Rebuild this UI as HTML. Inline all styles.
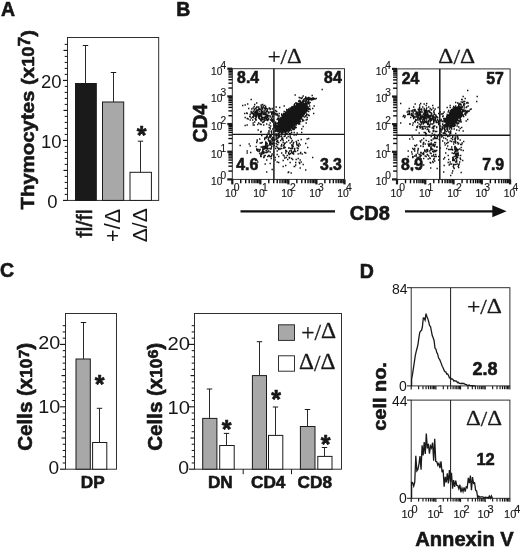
<!DOCTYPE html>
<html lang="en">
<head>
<meta charset="utf-8">
<title>Figure</title>
<style>
html,body{margin:0;padding:0;background:#fff;}
body{width:520px;height:548px;overflow:hidden;}
svg{display:block;will-change:transform;}
text{font-family:'Liberation Sans', Arial, Helvetica, sans-serif;fill:#161616;}
text.se{font-family:'Liberation Serif', 'Times New Roman', serif;}
text.b{stroke:#161616;stroke-width:0.6px;stroke-linejoin:round;}
</style>
</head>
<body>
<svg width="520" height="548" viewBox="0 0 520 548">
<rect x="0" y="0" width="520" height="548" fill="#ffffff" stroke="none"/>
<text x="1" y="16.3" font-size="19.5" font-weight="bold" class="b">A</text>
<rect x="67.5" y="37.5" width="91.2" height="162.9" fill="none" stroke="#262626" stroke-width="0.95"/>
<line x1="63" y1="200.4" x2="67.5" y2="200.4" stroke="#1a1a1a" stroke-width="1.15"/>
<line x1="64.7" y1="194.4" x2="67.5" y2="194.4" stroke="#1a1a1a" stroke-width="1.05"/>
<line x1="64.7" y1="188.4" x2="67.5" y2="188.4" stroke="#1a1a1a" stroke-width="1.05"/>
<line x1="64.7" y1="182.4" x2="67.5" y2="182.4" stroke="#1a1a1a" stroke-width="1.05"/>
<line x1="64.7" y1="176.4" x2="67.5" y2="176.4" stroke="#1a1a1a" stroke-width="1.05"/>
<line x1="63.5" y1="170.4" x2="67.5" y2="170.4" stroke="#1a1a1a" stroke-width="1.15"/>
<line x1="64.7" y1="164.4" x2="67.5" y2="164.4" stroke="#1a1a1a" stroke-width="1.05"/>
<line x1="64.7" y1="158.4" x2="67.5" y2="158.4" stroke="#1a1a1a" stroke-width="1.05"/>
<line x1="64.7" y1="152.4" x2="67.5" y2="152.4" stroke="#1a1a1a" stroke-width="1.05"/>
<line x1="64.7" y1="146.4" x2="67.5" y2="146.4" stroke="#1a1a1a" stroke-width="1.05"/>
<line x1="63" y1="140.4" x2="67.5" y2="140.4" stroke="#1a1a1a" stroke-width="1.15"/>
<line x1="64.7" y1="134.4" x2="67.5" y2="134.4" stroke="#1a1a1a" stroke-width="1.05"/>
<line x1="64.7" y1="128.4" x2="67.5" y2="128.4" stroke="#1a1a1a" stroke-width="1.05"/>
<line x1="64.7" y1="122.4" x2="67.5" y2="122.4" stroke="#1a1a1a" stroke-width="1.05"/>
<line x1="64.7" y1="116.4" x2="67.5" y2="116.4" stroke="#1a1a1a" stroke-width="1.05"/>
<line x1="63.5" y1="110.4" x2="67.5" y2="110.4" stroke="#1a1a1a" stroke-width="1.15"/>
<line x1="64.7" y1="104.4" x2="67.5" y2="104.4" stroke="#1a1a1a" stroke-width="1.05"/>
<line x1="64.7" y1="98.4" x2="67.5" y2="98.4" stroke="#1a1a1a" stroke-width="1.05"/>
<line x1="64.7" y1="92.4" x2="67.5" y2="92.4" stroke="#1a1a1a" stroke-width="1.05"/>
<line x1="64.7" y1="86.4" x2="67.5" y2="86.4" stroke="#1a1a1a" stroke-width="1.05"/>
<line x1="63" y1="80.4" x2="67.5" y2="80.4" stroke="#1a1a1a" stroke-width="1.15"/>
<line x1="64.7" y1="74.4" x2="67.5" y2="74.4" stroke="#1a1a1a" stroke-width="1.05"/>
<line x1="64.7" y1="68.4" x2="67.5" y2="68.4" stroke="#1a1a1a" stroke-width="1.05"/>
<line x1="64.7" y1="62.4" x2="67.5" y2="62.4" stroke="#1a1a1a" stroke-width="1.05"/>
<line x1="64.7" y1="56.4" x2="67.5" y2="56.4" stroke="#1a1a1a" stroke-width="1.05"/>
<line x1="63.5" y1="50.4" x2="67.5" y2="50.4" stroke="#1a1a1a" stroke-width="1.15"/>
<line x1="64.7" y1="44.4" x2="67.5" y2="44.4" stroke="#1a1a1a" stroke-width="1.05"/>
<text x="61.6" y="87.8" font-size="18.5" text-anchor="end">20</text>
<text x="61.6" y="147.8" font-size="18.5" text-anchor="end">10</text>
<text x="57.6" y="207.8" font-size="18.5" text-anchor="end">0</text>
<rect x="75.5" y="83.5" width="20.8" height="116.9" fill="#1a1a1a" stroke="#1a1a1a" stroke-width="1"/>
<line x1="85.5" y1="83.5" x2="85.5" y2="45.5" stroke="#2a2a2a" stroke-width="1"/>
<line x1="82.8" y1="45.5" x2="88.2" y2="45.5" stroke="#1a1a1a" stroke-width="1"/>
<rect x="102.5" y="102" width="21.2" height="98.4" fill="#a8a8a8" stroke="#1a1a1a" stroke-width="1"/>
<line x1="113.5" y1="102" x2="113.5" y2="72.5" stroke="#2a2a2a" stroke-width="1"/>
<line x1="110.8" y1="72.5" x2="116.2" y2="72.5" stroke="#1a1a1a" stroke-width="1"/>
<rect x="130" y="172.3" width="21.4" height="28.1" fill="#ffffff" stroke="#1a1a1a" stroke-width="1"/>
<line x1="140.5" y1="172.3" x2="140.5" y2="141.2" stroke="#2a2a2a" stroke-width="1"/>
<line x1="137.8" y1="141.2" x2="143.2" y2="141.2" stroke="#1a1a1a" stroke-width="1"/>
<text x="141.7" y="143.7" font-size="25" font-weight="bold" class="b" text-anchor="middle">*</text>
<text x="91.6" y="209.3" font-size="22.3" text-anchor="end" transform="rotate(-90 91.6 209.3)" stroke="#1a1a1a" stroke-width="0.55">fl/fl</text>
<text x="119.9" y="209" font-size="21.5" text-anchor="end" transform="rotate(-90 119.9 209)">+/Δ</text>
<text x="147.4" y="208.3" font-size="21" text-anchor="end" transform="rotate(-90 147.4 208.3)">Δ/Δ</text>
<text x="34.4" y="209.5" font-size="19.2" font-weight="bold" class="b" transform="rotate(-90 34.4 209.5)" textLength="179.5" lengthAdjust="spacingAndGlyphs">Thymocytes (x<tspan font-size="17.3">10</tspan><tspan font-size="16.3" dy="-4.4">7</tspan><tspan font-size="19.2" dy="4.4">)</tspan></text>
<text x="176.2" y="16.3" font-size="19.5" font-weight="bold" class="b">B</text>
<path d="M292.5 112.5h1.4M297 114.5h1.4M290.5 113.5h1.4M290 119h1.4M293.5 118h1.4M290 120h1.4M296 116h1.4M300 108h1.4M291.5 116.5h1.4M291 117h1.4M297.5 113.5h1.4M303 120.5h1.4M294.5 114h1.4M293.5 122.5h1.4M293.5 114h1.4M295 109h1.4M287 120h1.4M292.5 117.5h1.4M285 123.5h1.4M288 120.5h1.4M286 124h1.4M294 117h1.4M289.5 122h1.4M293 111h1.4M295 114h1.4M291 113.5h1.4M282.5 126.5h1.4M291.5 117h1.4M294 115h1.4M293.5 113h1.4M285 119.5h1.4M291 116h1.4M290.5 120.5h1.4M291.5 120h1.4M296 106h1.4M290.5 118.5h1.4M294.5 115.5h1.4M295.5 107.5h1.4M289 115h1.4M292.5 114h1.4M295.5 115h1.4M289.5 109h1.4M287.5 119h1.4M293.5 113h1.4M301 108.5h1.4M289.5 124.5h1.4M301 113.5h1.4M294 113h1.4M290 116.5h1.4M304 106h1.4M300 113.5h1.4M291 123h1.4M295 115h1.4M299.5 115h1.4M291.5 113.5h1.4M295 109h1.4M288 109h1.4M295.5 109.5h1.4M302 109.5h1.4M292.5 119.5h1.4M302 121h1.4M293 118h1.4M295 114.5h1.4M286.5 118h1.4M290 116h1.4M292 114h1.4M298 110h1.4M298 108h1.4M284.5 117.5h1.4M292.5 120.5h1.4M298 112.5h1.4M287 126.5h1.4M288.5 113h1.4M291 112h1.4M298.5 107h1.4M299.5 114h1.4M292 115.5h1.4M292.5 116.5h1.4M292.5 115.5h1.4M301.5 108h1.4M291 115.5h1.4M293.5 116.5h1.4M294 111h1.4M293 114.5h1.4M293.5 116h1.4M289 120h1.4M295 115.5h1.4M290 115h1.4M300 110h1.4M296.5 111h1.4M294.5 115.5h1.4M300 114.5h1.4M290.5 114h1.4M301 112h1.4M292.5 113h1.4M296 111h1.4M291 124h1.4M297.5 115h1.4M287 123h1.4M286 125.5h1.4M295 118.5h1.4M288 117h1.4M295.5 114.5h1.4M304 103.5h1.4M291 119h1.4M290.5 116.5h1.4M296.5 115h1.4M296.5 112.5h1.4M292 114h1.4M293 115.5h1.4M298.5 112.5h1.4M298.5 114.5h1.4M288.5 119h1.4M293 114h1.4M294.5 115h1.4M290.5 121h1.4M294 112h1.4M285 113h1.4M299.5 111h1.4M294.5 113h1.4M293.5 113.5h1.4M296 122.5h1.4M293 115h1.4M286 125h1.4M286 116.5h1.4M296.5 113.5h1.4M285.5 125.5h1.4M298.5 111h1.4M285 122h1.4M299 112.5h1.4M290 118.5h1.4M300.5 114h1.4M295 114.5h1.4M285 120h1.4M296 104.5h1.4M299.5 106.5h1.4M293 114h1.4M290.5 113h1.4M291 113h1.4M286 115.5h1.4M297 107.5h1.4M291.5 117h1.4M293 114h1.4M290 117.5h1.4M290.5 116.5h1.4M287.5 120h1.4M301.5 110.5h1.4M297.5 119.5h1.4M300 111.5h1.4M298 118.5h1.4M290.5 117.5h1.4M292.5 116h1.4M294.5 120.5h1.4M292.5 113h1.4M290.5 114.5h1.4M292.5 115.5h1.4M284 117h1.4M286.5 114h1.4M304.5 109.5h1.4M288.5 115.5h1.4M288 118.5h1.4M295 112h1.4M299 106h1.4M288.5 122.5h1.4M294 116.5h1.4M292.5 119h1.4M287 124h1.4M297.5 111.5h1.4M297 117.5h1.4M296.5 116.5h1.4M289 116.5h1.4M296.5 112.5h1.4M290.5 116h1.4M297 119h1.4M290 121h1.4M289 121h1.4M300.5 108.5h1.4M292.5 118h1.4M293.5 111h1.4M294 115h1.4M292 116.5h1.4M291.5 117h1.4M295.5 110h1.4M293.5 117h1.4M291 113h1.4M293 113.5h1.4M299.5 109h1.4M297 111.5h1.4M295 111.5h1.4M289.5 115h1.4M285.5 118.5h1.4M298 109.5h1.4M297 108.5h1.4M293 115h1.4M294 109.5h1.4M298 111h1.4M302 115h1.4M296 107.5h1.4M291.5 116.5h1.4M303.5 110h1.4M288.5 120.5h1.4M300 112.5h1.4M292 108h1.4M297 109.5h1.4M306 109.5h1.4M300 106.5h1.4M289.5 120.5h1.4M282 118h1.4M300 113h1.4M293.5 124h1.4M294 114.5h1.4M298.5 111.5h1.4M287 123h1.4M288 128.5h1.4M294.5 112.5h1.4M291 111h1.4M296.5 119.5h1.4M292 112h1.4M291 119.5h1.4M282 116.5h1.4M292.5 114.5h1.4M289.5 119.5h1.4M284 119.5h1.4M295.5 111h1.4M295 116h1.4M294.5 111h1.4M290 120h1.4M294.5 121.5h1.4M285 114.5h1.4M290.5 119h1.4M296 115h1.4M289.5 117.5h1.4M299 116h1.4M298.5 116h1.4M305 106.5h1.4M288.5 122h1.4M298 110.5h1.4M291.5 112.5h1.4M295 115.5h1.4M286 120h1.4M290.5 115.5h1.4M299.5 113.5h1.4M293 114.5h1.4M296.5 116h1.4M290.5 113.5h1.4M298.5 108.5h1.4M294 114.5h1.4M286 127h1.4M290.5 117.5h1.4M286 125h1.4M277 127.5h1.4M291.5 117h1.4M302 110h1.4M292.5 112.5h1.4M287 118h1.4M290.5 120h1.4M297 107h1.4M295.5 114.5h1.4M295 115h1.4M293.5 114.5h1.4M295.5 116h1.4M299 112h1.4M297 112.5h1.4M292 110.5h1.4M286 116h1.4M297 112.5h1.4M287.5 114h1.4M299.5 109.5h1.4M287 119.5h1.4M291.5 113h1.4M293.5 114h1.4M283 115.5h1.4M302 106h1.4M303.5 110.5h1.4M289 114h1.4M298.5 112h1.4M296.5 113.5h1.4M287.5 132.5h1.4M293 111h1.4M292 113h1.4M293 112.5h1.4M287 117.5h1.4M289.5 112h1.4M293 115.5h1.4M298 107h1.4M297 114.5h1.4M294.5 115.5h1.4M299.5 105.5h1.4M290.5 116h1.4M295 119h1.4M284.5 122h1.4M302 108h1.4M300.5 112h1.4M297.5 109.5h1.4M298 112.5h1.4M297.5 117.5h1.4M297 116h1.4M289.5 112h1.4M296 118.5h1.4M294 114h1.4M300 106.5h1.4M295.5 110.5h1.4M296 117.5h1.4M292 118h1.4M290.5 117h1.4M300 105.5h1.4M297.5 113.5h1.4M296.5 116.5h1.4M290.5 114h1.4M286.5 117h1.4M293 114h1.4M299.5 112h1.4M291.5 115.5h1.4M292.5 115.5h1.4M291.5 113.5h1.4M297 116.5h1.4M286 121.5h1.4M293 116h1.4M292 120.5h1.4M298 110h1.4M290 118h1.4M297.5 113h1.4M300.5 107h1.4M295.5 119h1.4M291 117.5h1.4M294 112.5h1.4M293.5 114h1.4M287 116.5h1.4M298.5 115h1.4M306.5 108.5h1.4M292.5 115h1.4M292 114.5h1.4M285 114.5h1.4M294.5 112h1.4M289.5 122h1.4M287 118h1.4M302 110.5h1.4M292.5 121.5h1.4M294 104h1.4M300.5 107h1.4M294 112h1.4M295.5 111h1.4M300 102h1.4M292.5 115h1.4M288.5 114.5h1.4M289.5 123h1.4M297 117.5h1.4M298.5 105h1.4M295.5 107h1.4M288.5 117.5h1.4M289.5 118h1.4M291 116.5h1.4M297 114.5h1.4M290 112h1.4M293.5 112h1.4M294.5 112h1.4M292 115h1.4M291.5 112.5h1.4M294 112.5h1.4M292 113.5h1.4M298.5 114.5h1.4M302 105h1.4M292.5 107h1.4M295.5 115.5h1.4M286 122.5h1.4M294 111h1.4M282.5 121h1.4M286 119.5h1.4M301.5 114h1.4M296.5 110.5h1.4M295.5 117.5h1.4M287.5 124h1.4M291 115h1.4M291.5 118h1.4M295.5 110h1.4M298.5 97.5h1.4M293.5 112h1.4M289 116.5h1.4M290 121.5h1.4M295 116h1.4M295.5 117.5h1.4M289.5 121h1.4M296.5 116.5h1.4M289.5 121h1.4M300 110h1.4M301 112h1.4M302 112.5h1.4M294.5 119.5h1.4M295.5 111h1.4M293 115h1.4M290 114h1.4M290.5 114h1.4M288.5 121h1.4M285.5 119.5h1.4M300.5 114h1.4M288.5 110.5h1.4M292.5 111h1.4M299.5 110.5h1.4M288 125h1.4M289.5 117h1.4M298.5 117.5h1.4M297.5 114.5h1.4M290.5 114.5h1.4M299 109.5h1.4M296 114.5h1.4M286.5 118h1.4M291.5 121h1.4M297.5 110.5h1.4M297 113.5h1.4M286.5 125h1.4M299.5 107.5h1.4M299 114h1.4M296.5 104.5h1.4M293.5 117.5h1.4M288.5 111.5h1.4M290.5 122h1.4M305 102h1.4M295.5 118h1.4M304.5 110h1.4M290.5 117h1.4M293.5 112.5h1.4M288.5 124.5h1.4M290 113.5h1.4M300.5 112h1.4M287.5 120h1.4M298.5 109h1.4M294.5 111.5h1.4M292.5 123h1.4M288.5 113.5h1.4M290.5 115.5h1.4M294.5 115.5h1.4M293.5 119h1.4M293.5 122h1.4M295 119h1.4M288 118h1.4M288.5 121h1.4M296 117h1.4M299.5 111.5h1.4M283.5 118h1.4M294.5 115h1.4M292 118.5h1.4M286.5 116h1.4M297 109.5h1.4M291.5 116.5h1.4M302.5 109h1.4M293.5 121.5h1.4M298 115h1.4M294 116.5h1.4M291 118.5h1.4M296 111h1.4M292 114h1.4M296.5 111.5h1.4M293.5 114h1.4M291 121.5h1.4M298 119.5h1.4M295.5 115.5h1.4M300.5 112h1.4M291 120h1.4M294.5 115.5h1.4M288 125h1.4M299.5 114h1.4M289 119.5h1.4M285 122.5h1.4M295 116h1.4M298.5 108.5h1.4M287 122h1.4M291 121.5h1.4M290.5 118h1.4M285 115.5h1.4M297 114h1.4M288 115.5h1.4M288 115h1.4M294 108.5h1.4M292 119.5h1.4M292 108.5h1.4M289 118.5h1.4M288.5 120.5h1.4M285.5 123.5h1.4M302 105h1.4M292.5 116h1.4M295.5 114h1.4M291.5 112h1.4M296 115.5h1.4M296.5 116.5h1.4M301.5 104h1.4M287.5 117.5h1.4M284.5 119h1.4M291 121.5h1.4M285.5 118h1.4M296.5 110h1.4M294.5 107h1.4M292 121.5h1.4M287 120.5h1.4M293 116.5h1.4M304 111.5h1.4M282 128.5h1.4M294.5 109.5h1.4M289.5 120.5h1.4M300.5 111.5h1.4M287 117.5h1.4M290.5 113.5h1.4M285 119h1.4M291 120.5h1.4M301 108.5h1.4M296 108.5h1.4M293.5 117.5h1.4M291.5 120h1.4M283 121.5h1.4M289 113h1.4M296 117h1.4M298.5 120.5h1.4M296.5 118h1.4M290.5 121.5h1.4M294 115h1.4M292.5 113.5h1.4M300.5 109h1.4M304.5 107.5h1.4M293 115h1.4M292 120h1.4M294 115h1.4M292.5 118.5h1.4M285 112h1.4M292 113h1.4M290.5 121h1.4M299 114h1.4M294.5 116h1.4M298.5 117h1.4M294.5 117h1.4M292 119.5h1.4M287.5 117h1.4M293.5 116.5h1.4M293 118.5h1.4M298 116.5h1.4M296.5 117h1.4M287.5 121h1.4M294.5 114.5h1.4M285.5 118h1.4M292.5 118.5h1.4M290.5 113.5h1.4M283.5 123.5h1.4M294.5 114h1.4M298.5 118h1.4M296 118h1.4M290.5 115h1.4M289.5 113h1.4M289 118.5h1.4M291 114h1.4M292 118h1.4M295 115h1.4M289.5 121.5h1.4M293 111.5h1.4M294 113h1.4M294 115.5h1.4M292.5 117h1.4M295.5 111h1.4M285.5 121.5h1.4M298 114h1.4M292 110h1.4M295 112.5h1.4M296 113h1.4M288 114.5h1.4M290.5 113.5h1.4M297 112h1.4M295 111.5h1.4M297 116h1.4M288 122.5h1.4M301 117h1.4M297 106.5h1.4M302.5 114h1.4M294 112h1.4M288 123.5h1.4M300.5 112.5h1.4M293.5 115.5h1.4M281 125.5h1.4M294.5 111.5h1.4M283.5 117.5h1.4M287 119.5h1.4M289 115.5h1.4M301.5 110h1.4M291 114.5h1.4M295 113h1.4M303.5 107.5h1.4M302 107.5h1.4M293.5 115h1.4M292.5 115h1.4M287 119.5h1.4M291.5 118.5h1.4M297.5 114h1.4M294.5 111h1.4M298 117.5h1.4M300 111.5h1.4M287 114.5h1.4M299 120.5h1.4M299 112.5h1.4M295.5 110.5h1.4M302.5 113h1.4M291 107h1.4M297.5 121.5h1.4M293 110h1.4M286 115.5h1.4M284.5 120h1.4M297 112.5h1.4M293 114h1.4M297.5 115h1.4M284 120.5h1.4M294.5 118.5h1.4M291.5 118h1.4M288 116.5h1.4M285.5 127h1.4M293 117h1.4M298 110h1.4M298.5 115.5h1.4M289 114.5h1.4M293.5 114h1.4M300.5 114.5h1.4M281 127h1.4M295 116.5h1.4M298 113.5h1.4M297 111.5h1.4M303.5 108.5h1.4M297.5 107.5h1.4M297 114.5h1.4M293.5 111h1.4M298 111h1.4M289.5 115h1.4M295 116h1.4M299.5 111.5h1.4M305.5 108h1.4M292 114h1.4M292 112.5h1.4M291 109h1.4M298 105.5h1.4M293.5 114h1.4M301.5 108.5h1.4M288.5 118h1.4M293 115.5h1.4M290 112.5h1.4M296 109h1.4M300.5 111.5h1.4M288 123h1.4M287 115.5h1.4M295 112.5h1.4M291.5 118h1.4M284.5 119h1.4M300 110.5h1.4M297 113h1.4M297.5 113.5h1.4M295.5 121h1.4M297.5 108h1.4M295 118h1.4M300.5 111h1.4M291 120h1.4M288.5 117h1.4M295 113.5h1.4M290.5 117.5h1.4M300.5 115h1.4M295.5 113.5h1.4M292.5 122h1.4M293.5 113.5h1.4M291.5 115.5h1.4M298.5 110.5h1.4M287 113h1.4M291 115.5h1.4M298.5 108h1.4M304.5 104h1.4M304 106h1.4M292.5 112h1.4M293 111h1.4M304 110.5h1.4M291.5 113h1.4M288.5 118h1.4M292.5 112h1.4M295.5 111.5h1.4M292.5 121h1.4M288.5 124.5h1.4M283.5 117h1.4M296.5 111h1.4M293 121h1.4M292.5 114.5h1.4M295.5 114.5h1.4M300.5 115.5h1.4M297 121h1.4M299.5 115.5h1.4M289 118h1.4M292.5 116h1.4M289.5 119.5h1.4M299 109h1.4M292.5 113.5h1.4M294.5 122.5h1.4M293 116.5h1.4M294.5 117.5h1.4M300 114h1.4M287.5 123h1.4M289 119.5h1.4M292.5 117h1.4M309 106h1.4M299.5 111h1.4M289.5 110.5h1.4M299.5 113.5h1.4M307.5 109h1.4M292.5 115h1.4M291 115h1.4M299 108h1.4M298.5 114.5h1.4M295.5 109.5h1.4M293 118.5h1.4M305.5 108h1.4M303.5 108h1.4M297 112h1.4M296 110h1.4M283 122.5h1.4M297 111.5h1.4M291 113.5h1.4M296 112.5h1.4M295.5 109.5h1.4M295 119h1.4M289 125.5h1.4M294 111h1.4M293 121h1.4M293 116.5h1.4M291.5 117.5h1.4M293.5 117h1.4M283.5 126h1.4M297 106h1.4M300 118.5h1.4M297.5 107.5h1.4M299 100.5h1.4M294 114.5h1.4M285.5 122.5h1.4M288 117h1.4M284.5 116h1.4M294 119.5h1.4M294 114h1.4M284.5 124h1.4M294.5 112h1.4M286.5 121h1.4M294 112h1.4M294.5 116h1.4M292.5 116h1.4M295 116.5h1.4M292.5 118.5h1.4M291.5 117.5h1.4M286 122.5h1.4M296 117h1.4M300 103h1.4M304 106h1.4M303 111.5h1.4M295 109h1.4M292 119h1.4M300 107h1.4M294 115h1.4M293 114.5h1.4M292.5 115.5h1.4M295.5 115.5h1.4M292 116.5h1.4M289.5 110.5h1.4M293 124h1.4M292 116h1.4M304 103.5h1.4M295.5 117h1.4M295.5 118.5h1.4M292.5 107.5h1.4M298 112h1.4M284.5 115h1.4M292 114.5h1.4M298.5 110h1.4M294.5 112.5h1.4M293.5 112.5h1.4M299 105h1.4M290 116.5h1.4M294 114h1.4M291 116.5h1.4M298.5 105h1.4M283 121.5h1.4M292.5 119.5h1.4M292.5 118h1.4M296.5 111h1.4M298 113h1.4M301.5 109h1.4M288.5 123.5h1.4M298 111.5h1.4M291.5 115h1.4M289 115.5h1.4M296.5 112h1.4M285.5 114h1.4M284 124h1.4M286 109.5h1.4M285 119h1.4M290 116.5h1.4M297 114h1.4M301 119h1.4M302 107.5h1.4M292.5 115h1.4M283 117.5h1.4M293 121h1.4M286 114.5h1.4M288.5 120.5h1.4M294.5 111h1.4M296 123h1.4M284 123h1.4M298 112h1.4M292 113.5h1.4M295.5 112.5h1.4M297 116.5h1.4M295 109.5h1.4M293 113h1.4M299 107.5h1.4M294 110.5h1.4M293.5 110.5h1.4M296 112.5h1.4M289.5 124h1.4M296 118h1.4M290 113h1.4M293.5 112h1.4M287 120.5h1.4M302.5 108h1.4M294.5 114h1.4M288 120h1.4M286.5 123h1.4M294 117h1.4M289.5 110.5h1.4M290 117h1.4M295.5 115.5h1.4M293.5 120h1.4M298 113.5h1.4M289 116h1.4M292.5 113h1.4M299 110.5h1.4M306.5 103h1.4M289.5 119.5h1.4M294 119h1.4M287.5 115.5h1.4M297 110h1.4M283.5 114.5h1.4M293 118.5h1.4M294 115h1.4M287.5 117h1.4M290 119.5h1.4M294.5 119.5h1.4M285.5 126h1.4M287 121h1.4M291.5 115.5h1.4M295 114h1.4M291 113h1.4M283.5 120.5h1.4M291 116h1.4M298 111h1.4M297 112.5h1.4M292.5 113.5h1.4M288 116.5h1.4M297 111.5h1.4M290.5 116h1.4M289 120.5h1.4M293 121h1.4M303 110h1.4M293.5 112h1.4M298.5 108.5h1.4M288.5 113.5h1.4M298.5 110h1.4M289.5 115.5h1.4M290.5 112.5h1.4M304 101h1.4M299 112.5h1.4M292 117h1.4M293.5 114.5h1.4M297.5 115h1.4M299 108h1.4M289.5 114.5h1.4M286.5 123.5h1.4M288.5 111.5h1.4M294.5 115h1.4M295 114.5h1.4M301 109h1.4M297 114.5h1.4M297 110h1.4M288.5 119.5h1.4M295 107h1.4M303 104h1.4M296.5 110h1.4M295.5 114h1.4M297.5 117h1.4M303 106.5h1.4M291 120.5h1.4M291.5 113h1.4M296.5 112.5h1.4M294.5 107.5h1.4M290.5 115h1.4M294 111.5h1.4M292 115.5h1.4M294 113.5h1.4M292 113.5h1.4M286.5 117.5h1.4M295.5 116h1.4M297.5 109.5h1.4M284 113.5h1.4M293 116h1.4M297.5 112h1.4M290 121h1.4M297.5 117h1.4M286.5 117h1.4M299.5 109.5h1.4M304.5 103.5h1.4M300 101.5h1.4M288 110h1.4M299.5 113h1.4M292.5 111.5h1.4M293.5 112.5h1.4M300.5 106.5h1.4M286.5 119.5h1.4M299 110h1.4M290.5 111.5h1.4M299.5 107h1.4M294 113h1.4M288.5 115h1.4M293.5 111.5h1.4M296.5 110h1.4M293.5 113.5h1.4M293 108.5h1.4M290.5 116h1.4M284 124.5h1.4M300 112.5h1.4M298 112h1.4M297 116h1.4M294 114h1.4M298.5 109.5h1.4M296 121h1.4M290.5 117.5h1.4M292 114h1.4M299.5 109h1.4M289 123h1.4M297 106.5h1.4M292.5 119h1.4M291 122h1.4M302 111h1.4M293.5 115h1.4M286 118.5h1.4M290 113.5h1.4M298 110h1.4M302 111.5h1.4M293 118h1.4M297.5 114.5h1.4M298 111.5h1.4M294.5 121h1.4M295.5 112.5h1.4M292.5 113.5h1.4M291.5 117h1.4M290.5 115.5h1.4M296 116h1.4M297 117.5h1.4M292.5 118.5h1.4M289.5 114h1.4M297.5 107.5h1.4M296 114.5h1.4M296 108h1.4M300.5 110h1.4M294 108.5h1.4M304 103.5h1.4M291 119h1.4M296.5 109h1.4M294 117.5h1.4M305 108h1.4M305 110h1.4M284 122.5h1.4M289.5 119h1.4M297.5 111.5h1.4M298.5 112h1.4M294.5 108h1.4M294.5 115.5h1.4M297.5 114h1.4M294.5 109h1.4M291 112h1.4M298.5 109h1.4M286.5 128.5h1.4M298 113h1.4M288 118h1.4M298.5 110h1.4M290 112h1.4M292.5 121.5h1.4M294.5 111.5h1.4M291 120h1.4M287 116h1.4M286.5 121.5h1.4M292 112.5h1.4M297.5 113.5h1.4M301.5 113h1.4M295.5 117.5h1.4M300.5 111h1.4M296 116.5h1.4M291 112.5h1.4M294 109h1.4M298.5 109h1.4M294.5 118h1.4M293 116h1.4M294.5 116.5h1.4M291.5 111h1.4M289 118h1.4M298 109h1.4M293 117h1.4M300 116.5h1.4M291.5 120h1.4M298 115.5h1.4M295 112h1.4M292 116h1.4M305.5 107h1.4M296.5 113.5h1.4M299.5 103h1.4M300.5 112h1.4M292.5 119.5h1.4M292.5 116.5h1.4M297.5 114h1.4M295 115h1.4M293 113h1.4M289 112h1.4M289 126.5h1.4M293 115.5h1.4M283 124.5h1.4M296 113h1.4M291 118h1.4M291 118.5h1.4M291 113.5h1.4M296 114.5h1.4M287.5 121h1.4M285.5 122.5h1.4M288.5 119h1.4M284.5 124h1.4M287.5 116.5h1.4M301.5 107.5h1.4M288.5 119h1.4M297 111.5h1.4M289.5 123h1.4M297 115h1.4M294.5 118h1.4M293.5 114.5h1.4M298 113.5h1.4M304.5 109h1.4M294.5 113h1.4M293.5 113h1.4M293 122.5h1.4M293.5 108.5h1.4M292.5 115.5h1.4M298 111h1.4M291.5 112.5h1.4M302.5 106.5h1.4M285.5 124.5h1.4M288 111h1.4M300.5 113h1.4M292.5 116.5h1.4M288.5 116.5h1.4M295 118h1.4M287.5 121h1.4M294 113h1.4M301 98.5h1.4M301.5 111h1.4M288.5 119.5h1.4M288.5 117h1.4M292 116h1.4M301 112.5h1.4M289 117.5h1.4M290.5 117.5h1.4M297.5 109.5h1.4M296 108h1.4M290 114h1.4M288 118.5h1.4M286 121h1.4M293 120h1.4M283.5 125h1.4M297 110.5h1.4M292 118h1.4M296 112h1.4M304.5 108h1.4M296.5 106h1.4M284 115h1.4M299 111.5h1.4M299 108.5h1.4M291 118.5h1.4M287 116h1.4M292.5 114h1.4M286 121.5h1.4M301.5 108.5h1.4M282 125h1.4M290.5 121.5h1.4M291.5 114.5h1.4M294.5 117h1.4M293.5 112.5h1.4M295 113h1.4M291 113h1.4M299.5 109.5h1.4M281.5 122h1.4M296 116.5h1.4M289.5 116.5h1.4M295 114.5h1.4M294.5 113h1.4M289.5 118.5h1.4M289 115.5h1.4M302 115h1.4M295 112h1.4M293.5 120.5h1.4M301.5 103h1.4M309 108.5h1.4M289 123h1.4M299 116.5h1.4M303 99.5h1.4M300.5 113.5h1.4M295 113.5h1.4M294 116.5h1.4M295 121h1.4M293.5 116h1.4M290 115.5h1.4M298 111.5h1.4M290 114.5h1.4M292.5 117.5h1.4M288 120h1.4M294.5 115.5h1.4M289 118h1.4M289.5 111.5h1.4M298.5 109h1.4M295.5 112.5h1.4M297.5 113.5h1.4M297 114.5h1.4M291.5 111h1.4M295.5 117.5h1.4M294.5 118h1.4M298 111.5h1.4M289.5 120.5h1.4M296.5 104.5h1.4M299 119.5h1.4M289.5 117h1.4M290 115h1.4M293 120h1.4M296 115h1.4M289.5 117h1.4M296.5 106h1.4M292 120h1.4M286 128h1.4M288.5 115.5h1.4M281.5 120.5h1.4M294.5 115.5h1.4M303.5 114.5h1.4M294.5 108.5h1.4M288 121h1.4M288 115.5h1.4M302.5 106.5h1.4M296.5 114h1.4M295 115.5h1.4M296 106.5h1.4M303 100.5h1.4M304.5 113h1.4M296.5 116h1.4M292 109h1.4M297.5 112.5h1.4M293.5 120h1.4M289 119.5h1.4M294.5 114.5h1.4M289.5 119h1.4M294.5 116h1.4M295 114.5h1.4M306 105h1.4M289 117.5h1.4M295 117h1.4M294 116h1.4M296.5 113h1.4M296.5 107h1.4M291 116h1.4M290.5 118.5h1.4M285 120.5h1.4M288.5 118h1.4M294.5 110h1.4M293 113h1.4M285.5 115.5h1.4M289.5 113.5h1.4M294 114.5h1.4M297.5 113h1.4M289.5 115.5h1.4M292 114.5h1.4M285.5 123h1.4M291.5 123h1.4M305.5 111h1.4M282.5 123.5h1.4M291 114.5h1.4M293.5 112h1.4M294.5 119h1.4M288 116h1.4M295 116h1.4M293 113.5h1.4M293 114h1.4M286.5 124.5h1.4M294.5 116.5h1.4M294 122.5h1.4M293 119h1.4M298.5 117.5h1.4M296 110.5h1.4M298 110.5h1.4M290 115h1.4M298 109.5h1.4M301 110.5h1.4M299 108.5h1.4M301.5 109h1.4M292 114h1.4M292.5 114.5h1.4M300 113h1.4M287.5 120.5h1.4M295 113.5h1.4M292 117.5h1.4M290.5 114.5h1.4M282 118.5h1.4M290.5 119.5h1.4M294.5 115.5h1.4M302.5 115.5h1.4M299 110.5h1.4M294.5 116h1.4M297.5 120h1.4M289.5 117.5h1.4M295 111.5h1.4M294.5 117h1.4M297.5 112.5h1.4M304.5 108.5h1.4M292.5 113h1.4M290 124.5h1.4M290.5 119h1.4M283 117h1.4M288 120h1.4M299.5 107.5h1.4M295.5 114h1.4M289 124h1.4M297 111.5h1.4M299.5 108h1.4M294.5 118.5h1.4M290 117h1.4M290 113.5h1.4M293.5 111h1.4M300 115h1.4M301.5 111h1.4M303 112.5h1.4M297.5 107h1.4M299.5 107h1.4M296 110h1.4M288.5 123.5h1.4M295.5 117.5h1.4M295.5 113h1.4M292 116h1.4M300 112h1.4M292 116h1.4M288.5 117.5h1.4M300.5 107.5h1.4M299.5 113.5h1.4M299 118h1.4M299 111h1.4M299 109.5h1.4M296 113.5h1.4M283 126.5h1.4M292 119h1.4M290.5 115h1.4M289.5 119h1.4M294.5 113.5h1.4M301.5 111h1.4M293 118h1.4M288 119.5h1.4M306 107.5h1.4M294.5 119h1.4M288.5 120.5h1.4M293 111h1.4M295.5 112h1.4M287.5 114.5h1.4M298 111h1.4M292.5 117.5h1.4M292.5 121.5h1.4M296 115h1.4M295 108h1.4M290.5 116.5h1.4M294 111.5h1.4M292 113.5h1.4M307.5 102h1.4M291 118h1.4M300.5 108h1.4M292.5 113.5h1.4M292.5 114h1.4M296.5 110h1.4M298 110h1.4M301.5 110.5h1.4M296 113.5h1.4M293 119h1.4M289.5 115h1.4M300.5 116.5h1.4M297 112.5h1.4M296 103h1.4M296.5 113.5h1.4M301.5 112h1.4M301.5 107.5h1.4M292 111h1.4M287 121.5h1.4M287 118.5h1.4M287 121h1.4M302.5 108h1.4M283.5 111.5h1.4M300 109h1.4M298 113h1.4M303 108h1.4M298 109h1.4M292.5 114h1.4M291.5 114h1.4M294 114h1.4M297.5 116.5h1.4M290.5 116h1.4M294.5 115.5h1.4M302.5 108h1.4M288.5 125.5h1.4M296.5 114.5h1.4M291 120h1.4M295 113.5h1.4M301 114h1.4M293.5 114.5h1.4M297.5 111h1.4M288.5 124h1.4M300.5 111h1.4M293 119h1.4M295 110h1.4M300 119h1.4M282 127h1.4M293.5 121.5h1.4M296 114.5h1.4M300 105.5h1.4M296.5 114.5h1.4M295 113h1.4M289 122.5h1.4M297 104h1.4M301 104.5h1.4M292 112h1.4M295.5 118.5h1.4M288.5 124h1.4M296 108h1.4M307.5 102.5h1.4M298 112h1.4M299.5 108h1.4M299 114.5h1.4M287.5 117.5h1.4M300.5 108.5h1.4M287 119h1.4M294.5 117h1.4M294.5 112h1.4M299.5 112h1.4M294 110.5h1.4M293.5 110.5h1.4M288.5 116h1.4M287 119h1.4M293 113h1.4M296 123.5h1.4M286 118.5h1.4M288.5 121h1.4M291.5 116.5h1.4M285.5 123.5h1.4M290 123.5h1.4M287 123h1.4M293.5 112.5h1.4M293 109.5h1.4M305 107h1.4M288.5 123h1.4M288 114.5h1.4M300 112.5h1.4M289 111h1.4M292.5 116h1.4M304 108.5h1.4M290.5 114h1.4M285 116h1.4M290.5 123.5h1.4M292.5 109.5h1.4M296 113.5h1.4M284.5 117.5h1.4M290 119.5h1.4M299.5 115.5h1.4M296 111h1.4M289 115.5h1.4M293 107.5h1.4M293.5 108.5h1.4M284 121h1.4M293 116.5h1.4M297 113.5h1.4M292 117.5h1.4M285.5 126h1.4M293 116.5h1.4M302.5 116.5h1.4M301.5 107h1.4M283.5 124.5h1.4M301.5 97.5h1.4M287 118h1.4M299.5 111h1.4M299 107.5h1.4M301 112.5h1.4M296 115h1.4M292 123.5h1.4M294 108.5h1.4M289.5 116.5h1.4M284 128.5h1.4M308 102h1.4M295.5 109.5h1.4M302 105.5h1.4M289 118h1.4M303 109.5h1.4M303 108.5h1.4M301.5 107.5h1.4M292 112.5h1.4M290 121.5h1.4M295.5 117.5h1.4M281 122h1.4M287.5 124h1.4M292.5 112h1.4M288.5 118.5h1.4M291.5 113.5h1.4M290 111.5h1.4M302 104.5h1.4M298.5 107h1.4M295.5 116.5h1.4M301 110.5h1.4M289 116.5h1.4M289.5 113h1.4M295.5 107.5h1.4M283.5 115h1.4M292 115h1.4M287 120h1.4M292.5 112h1.4M302 107h1.4M290.5 118h1.4M297 115.5h1.4M287.5 116.5h1.4M290.5 122h1.4M287 119h1.4M304 111h1.4M303 101.5h1.4M298.5 114.5h1.4M289 116h1.4M300.5 114.5h1.4M293.5 117h1.4M295.5 108.5h1.4M297 115h1.4M295 113h1.4M298 113h1.4M296 122h1.4M291.5 115.5h1.4M285 121.5h1.4M294 119h1.4M286 119.5h1.4M295 117h1.4M291.5 121h1.4M294.5 114h1.4M297.5 114h1.4M282.5 116h1.4M293 121.5h1.4M288 117h1.4M295.5 109h1.4M306 111h1.4M301.5 114.5h1.4M291 115h1.4M302 109h1.4M286 120.5h1.4M299 105.5h1.4M291.5 118h1.4M282.5 129.5h1.4M312 108.5h1.4M301 107h1.4M291 121h1.4M294 113h1.4M292.5 115h1.4M297 117h1.4M283.5 117.5h1.4M288.5 115.5h1.4M294.5 110.5h1.4M297.5 116h1.4M300.5 110h1.4M295.5 115.5h1.4M306 105h1.4M293 120h1.4M294.5 112.5h1.4M284.5 122.5h1.4M287 119.5h1.4M301.5 109.5h1.4M287 116h1.4M296 111.5h1.4M299 120.5h1.4M290 120.5h1.4M292.5 116h1.4M289.5 115h1.4M292 117.5h1.4M298 111.5h1.4M298.5 113h1.4M290 115.5h1.4M290.5 119.5h1.4M296.5 114.5h1.4M295 116.5h1.4M298 108.5h1.4M308 103.5h1.4M301.5 114.5h1.4M292.5 113.5h1.4M294.5 117h1.4M289 117.5h1.4M289 118h1.4M287 116.5h1.4M290 114h1.4M293 117.5h1.4M298 111.5h1.4M294.5 119h1.4M289.5 112h1.4M287 119h1.4M299 104h1.4M297 113h1.4M306.5 111h1.4M295 107.5h1.4M301 107.5h1.4M292.5 115.5h1.4M297.5 111h1.4M306 101h1.4M287 119h1.4M303 112.5h1.4M300 104.5h1.4M297 113.5h1.4M298.5 112h1.4M297 105h1.4M289 115.5h1.4M296.5 113.5h1.4M293.5 122.5h1.4M290.5 117.5h1.4M290 116h1.4M293.5 115.5h1.4M297 116.5h1.4M298 114h1.4M289.5 123.5h1.4M303.5 105h1.4M298 107.5h1.4M295.5 109h1.4M293.5 117.5h1.4M293 114.5h1.4M295.5 111h1.4M297 113.5h1.4M286 122.5h1.4M293.5 106.5h1.4M308 100.5h1.4M283 121h1.4M300 111h1.4M295.5 112.5h1.4M297 118.5h1.4M301 108h1.4M286 117.5h1.4M290.5 109.5h1.4M299 105h1.4M291.5 114h1.4M292 116.5h1.4M296 115h1.4M292 117h1.4M300.5 106h1.4M291 120.5h1.4M296.5 108.5h1.4M289.5 122.5h1.4M301 115h1.4M295.5 117h1.4M284.5 130h1.4M296.5 117.5h1.4M286.5 117h1.4M292 117h1.4M301 107h1.4M286 117h1.4M286 116.5h1.4M302 109h1.4M292 111h1.4M301 106.5h1.4M295.5 113h1.4M288.5 117.5h1.4M296.5 118h1.4M301.5 110.5h1.4M299 110.5h1.4M293 113h1.4M295 115h1.4M293.5 115.5h1.4M289 115h1.4M301 102.5h1.4M292.5 113h1.4M286 117h1.4M292.5 117.5h1.4M298 112h1.4M296.5 111h1.4M294 116h1.4M291.5 118.5h1.4M291 111h1.4M286 122.5h1.4M289.5 122.5h1.4M297 110h1.4M288 113h1.4M295.5 112.5h1.4M297.5 106.5h1.4M298 112.5h1.4M295 115.5h1.4M306 106h1.4M297.5 111.5h1.4M288.5 112h1.4M300 113.5h1.4M293 109h1.4M291.5 120.5h1.4M295 114.5h1.4M291.5 113.5h1.4M283 122.5h1.4M292.5 114.5h1.4M296 119.5h1.4M291 116h1.4M288 124.5h1.4M287 110.5h1.4M294 115h1.4M294 113.5h1.4M290.5 122h1.4M298 112.5h1.4M290.5 123h1.4M291 113.5h1.4M301 109h1.4M289.5 116.5h1.4M293 118.5h1.4M300.5 110.5h1.4M289.5 113.5h1.4M294.5 118h1.4M298.5 117.5h1.4M298.5 109h1.4M285.5 127h1.4M291 119.5h1.4M287 117h1.4M290 121.5h1.4M288 116.5h1.4M291 120h1.4M292.5 110h1.4M287 116h1.4M295.5 115h1.4M296.5 113h1.4M292 119.5h1.4M294.5 113.5h1.4M300 104.5h1.4M298.5 116h1.4M289 115.5h1.4M296.5 117.5h1.4M291 120.5h1.4M299 117h1.4M294 106h1.4M290 118h1.4M292.5 115h1.4M301 111h1.4M289.5 114.5h1.4M299 118h1.4M289 119h1.4M285.5 113.5h1.4M292 117.5h1.4M304.5 104.5h1.4M290.5 115h1.4M293 118.5h1.4M291 117h1.4M291.5 113h1.4M297 111h1.4M294 113h1.4M304.5 106h1.4M294.5 113h1.4M301 108h1.4M292.5 110h1.4M295.5 110h1.4M287.5 121.5h1.4M298 120.5h1.4M292.5 113.5h1.4M291.5 114h1.4M285.5 126h1.4M302 115h1.4M294.5 118.5h1.4M290 114.5h1.4M295 118h1.4M294 116.5h1.4M295.5 112h1.4M285.5 117.5h1.4M289.5 118.5h1.4M295.5 113.5h1.4M296 115h1.4M289 112.5h1.4M289 115h1.4M290 118.5h1.4M296.5 117.5h1.4M301.5 111h1.4M287.5 118h1.4M303 109h1.4M296.5 109h1.4M291 116h1.4M297 110.5h1.4M285.5 119.5h1.4M284.5 121h1.4M289.5 122h1.4M292.5 117h1.4M288 111h1.4M294 119.5h1.4M295.5 115h1.4M281.5 122h1.4M296.5 112.5h1.4M289 122.5h1.4M293.5 120.5h1.4M291 115h1.4M286.5 117.5h1.4M284.5 117.5h1.4M289 119h1.4M292 112.5h1.4M299 114h1.4M296.5 111.5h1.4M290.5 120.5h1.4M290 117.5h1.4M288 117h1.4M294 110h1.4M286 126h1.4M297.5 106h1.4M292.5 117.5h1.4M292 120h1.4M296 113.5h1.4M302 113h1.4M295.5 113h1.4M298.5 109h1.4M295 114.5h1.4M299 108h1.4M300.5 109.5h1.4M293.5 115h1.4M304 111h1.4M294.5 113.5h1.4M296 116h1.4M290.5 119.5h1.4M293 116h1.4M297.5 110.5h1.4M291 124h1.4M300 115h1.4M296.5 113.5h1.4M294.5 112h1.4M282.5 123.5h1.4M291.5 113h1.4M294.5 109h1.4M289.5 117h1.4M294.5 114h1.4M284.5 127.5h1.4M299 113.5h1.4M291.5 118.5h1.4M297.5 110h1.4M284.5 122.5h1.4M297.5 111.5h1.4M293 116h1.4M296.5 109.5h1.4M289 118h1.4M290.5 116.5h1.4M304 104h1.4M291 119.5h1.4M292.5 120h1.4M291.5 114.5h1.4M288 118h1.4M300 109.5h1.4M303 107.5h1.4M286 113h1.4M287 124h1.4M300 109.5h1.4M299 109h1.4M300 113h1.4M299.5 109h1.4M286.5 114.5h1.4M291.5 113.5h1.4M286 119.5h1.4M286 119.5h1.4M298.5 110h1.4M289 115.5h1.4M305.5 104.5h1.4M295 115h1.4M290.5 117h1.4M296 109h1.4M302 105.5h1.4M295 111h1.4M292 124.5h1.4M293.5 110.5h1.4M296 103.5h1.4M289 114h1.4M291 118.5h1.4M300.5 111.5h1.4M294 113.5h1.4M290.5 121.5h1.4M290.5 114.5h1.4M291.5 119h1.4M293.5 111h1.4M292 111h1.4M303.5 113.5h1.4M297 110.5h1.4M288 123h1.4M299 115.5h1.4M299.5 112h1.4M296.5 113h1.4M297 107.5h1.4M294.5 120h1.4M287.5 116.5h1.4M294.5 106h1.4M287.5 118h1.4M282.5 123h1.4M299 110h1.4M293 120.5h1.4M291.5 114.5h1.4M286.5 120h1.4M286 119h1.4M283.5 114.5h1.4M291 114.5h1.4M295 112h1.4M280 121.5h1.4M300.5 114h1.4M290.5 122h1.4M289.5 120h1.4M298.5 113h1.4M292.5 113.5h1.4M287 122h1.4M299.5 102.5h1.4M287 115h1.4M293.5 112h1.4M295.5 114.5h1.4M299.5 107h1.4M290 115h1.4M301 112h1.4M289.5 117h1.4M298 108h1.4M290 117.5h1.4M289 113h1.4M301 103.5h1.4M297 115h1.4M294.5 113.5h1.4M306.5 106h1.4M294.5 111.5h1.4M292 120h1.4M295.5 109h1.4M287.5 119h1.4M297.5 107.5h1.4M300 109.5h1.4M294 120h1.4M287.5 113.5h1.4M295 114h1.4M291.5 111.5h1.4M288.5 118h1.4M295.5 110.5h1.4M280.5 120h1.4M291 115.5h1.4M289.5 113.5h1.4M295.5 119h1.4M294 111.5h1.4M288.5 120.5h1.4M297 112h1.4M293 115.5h1.4M290 116.5h1.4M284 117h1.4M292 124h1.4M295.5 113h1.4M291 120.5h1.4M292 111.5h1.4M300 110.5h1.4M298 109h1.4M302.5 108.5h1.4M291 114.5h1.4M287 117h1.4M299.5 110.5h1.4M295.5 113h1.4M302 112.5h1.4M293.5 114h1.4M298 107.5h1.4M299 112h1.4M295 109h1.4M300.5 116.5h1.4M299.5 116.5h1.4M298 116.5h1.4M296 114.5h1.4M298.5 110h1.4M291.5 117h1.4M302.5 107h1.4M292 113.5h1.4M299.5 111h1.4M296 117.5h1.4M295.5 118h1.4M299.5 101h1.4M297 121h1.4M288 120.5h1.4M287.5 114.5h1.4M291.5 115h1.4M306 106.5h1.4M295 113.5h1.4M297 108.5h1.4M287 116.5h1.4M297.5 115h1.4M295.5 110h1.4M302 106h1.4M288.5 115.5h1.4M294 109h1.4M296 114h1.4M292 122h1.4M293 113.5h1.4M289 112h1.4M281.5 123.5h1.4M296.5 111.5h1.4M292 107h1.4M294 118.5h1.4M286 118.5h1.4M302.5 109h1.4M295 113h1.4M298.5 109.5h1.4M298 105h1.4M293.5 119h1.4M299 112h1.4M296 119h1.4M292.5 113.5h1.4M294.5 116h1.4M293 113.5h1.4M301.5 112h1.4M295.5 114.5h1.4M291 113h1.4M293 116h1.4M294.5 111.5h1.4M288.5 117.5h1.4M292.5 117.5h1.4M297 118h1.4M289.5 115h1.4M293 114.5h1.4M289 115h1.4M307.5 109.5h1.4M303.5 112h1.4M300.5 117h1.4M295.5 116.5h1.4M302.5 102.5h1.4M294.5 112h1.4M293.5 115h1.4M295 113h1.4M294 111.5h1.4M301.5 109h1.4M293 113.5h1.4M304 105h1.4M294 123h1.4M298 112h1.4M286.5 116h1.4M303.5 107h1.4M292.5 116.5h1.4M295 116h1.4M299.5 111.5h1.4M298 106.5h1.4M289 120h1.4M294.5 118h1.4M293.5 127.5h1.4M296 115h1.4M297.5 119h1.4M296 120h1.4M289 116h1.4M290.5 114.5h1.4M294 122h1.4M295 110.5h1.4M300.5 106.5h1.4M286 125h1.4M292 113.5h1.4M295 120h1.4M299 115h1.4M292.5 122h1.4M295.5 117.5h1.4M287 117.5h1.4M300 114h1.4M297 116.5h1.4M295 117h1.4M295.5 112.5h1.4M293.5 116.5h1.4M285 119.5h1.4M298.5 113.5h1.4M298 116h1.4M294.5 116.5h1.4M298.5 110h1.4M301.5 111h1.4M288 119h1.4M286.5 114h1.4M302.5 109h1.4M301 108h1.4M288 115h1.4M289.5 121h1.4M292.5 119h1.4M294 119h1.4M285.5 121h1.4M293 113.5h1.4M288 120.5h1.4M288 120h1.4M296 107.5h1.4M289 116h1.4M296.5 118h1.4M297 111.5h1.4M298 110.5h1.4M291 114.5h1.4M294.5 115h1.4M291.5 119.5h1.4M303.5 107.5h1.4M300.5 115.5h1.4M289 119.5h1.4M295.5 116h1.4M296.5 110.5h1.4M298.5 114.5h1.4M304 107.5h1.4M302.5 110.5h1.4M293.5 119.5h1.4M292 113.5h1.4M289 121.5h1.4M294.5 112.5h1.4M297 116.5h1.4M307 102h1.4M298 117.5h1.4M285 125h1.4M292 118.5h1.4M293.5 113h1.4M287.5 120h1.4M290 119h1.4M290.5 114.5h1.4M295.5 112.5h1.4M292 114h1.4M288.5 117h1.4M298 111h1.4M292 117.5h1.4M291 116h1.4M288.5 121.5h1.4M289.5 117.5h1.4M295 109.5h1.4M284.5 120h1.4M294.5 115.5h1.4M300 114h1.4M292.5 116.5h1.4M295.5 114h1.4M286.5 117.5h1.4M301 109.5h1.4M300 110h1.4M294 112h1.4M286.5 123.5h1.4M289.5 119.5h1.4M295.5 106.5h1.4M299.5 103.5h1.4M294.5 112h1.4M299.5 108.5h1.4M293 119.5h1.4M292 114.5h1.4M294 114.5h1.4M295.5 112h1.4M287.5 122.5h1.4M298.5 110.5h1.4M301 109h1.4M288 119h1.4M284.5 117.5h1.4M295 112.5h1.4M294 121h1.4M284.5 127.5h1.4M301 114.5h1.4M296.5 115.5h1.4M290.5 115.5h1.4M303.5 104h1.4M296 115h1.4M290 117.5h1.4M296 115.5h1.4M292 122.5h1.4M293 121h1.4M297.5 114.5h1.4M288.5 114h1.4M294.5 119.5h1.4M299.5 104.5h1.4M295.5 108h1.4M298.5 111.5h1.4M296.5 112.5h1.4M297.5 113.5h1.4M301 108h1.4M292.5 113.5h1.4M303 106h1.4M287.5 117h1.4M290.5 113h1.4M287 120h1.4M292 115.5h1.4M296.5 112.5h1.4M300.5 107.5h1.4M293 120h1.4M293.5 113.5h1.4M292 116h1.4M292 120h1.4M284 115.5h1.4M296.5 116.5h1.4M287.5 124h1.4M294 113.5h1.4M298 118.5h1.4M292.5 119h1.4M292 122.5h1.4M289.5 123h1.4M303.5 106.5h1.4M287 120h1.4M299.5 105.5h1.4M295.5 110h1.4M290 113.5h1.4M287.5 118.5h1.4M300 111h1.4M300.5 104.5h1.4M290.5 120h1.4M294 117.5h1.4M296 106.5h1.4M294 111.5h1.4M303.5 105h1.4M290 115.5h1.4M295 110.5h1.4M291 123h1.4M304.5 105.5h1.4M293 120.5h1.4M283 124.5h1.4M295 116.5h1.4M291 112.5h1.4M302.5 105h1.4M294 118h1.4M294 114.5h1.4M299.5 114.5h1.4M301.5 107.5h1.4M292.5 113.5h1.4M298.5 109.5h1.4M300.5 116.5h1.4M293.5 116.5h1.4M293.5 113h1.4M293.5 114h1.4M287.5 116.5h1.4M302.5 112h1.4M286.5 119.5h1.4M301 110.5h1.4M298.5 110h1.4M293 114h1.4M289 116.5h1.4M294 117h1.4M296 112h1.4M300 114h1.4M298.5 116.5h1.4M298 109h1.4M291.5 117h1.4M298.5 117h1.4M288 123.5h1.4M298 111h1.4M292 110.5h1.4M290 114.5h1.4M298 107.5h1.4M301 115.5h1.4M280.5 127.5h1.4M293.5 113.5h1.4M286.5 120.5h1.4M298.5 109h1.4M306.5 104h1.4M288 113h1.4M291.5 111h1.4M293 116h1.4M297.5 115h1.4M293 107.5h1.4M301.5 110h1.4M287 116.5h1.4M298 103.5h1.4M291.5 121h1.4M295 113h1.4M300.5 110h1.4M296.5 110.5h1.4M289 118h1.4M287 113.5h1.4M290.5 115.5h1.4M294 115h1.4M297.5 107h1.4M288.5 121h1.4M297 113.5h1.4M292.5 107h1.4M298.5 114h1.4M297.5 113.5h1.4M301.5 107.5h1.4M298.5 114.5h1.4M302.5 115h1.4M294.5 110h1.4M304.5 108h1.4M286 124.5h1.4M301 109.5h1.4M295 118h1.4M295 118h1.4M289 118.5h1.4M280.5 118h1.4M291 115h1.4M289.5 116h1.4M299.5 115.5h1.4M287 121.5h1.4M303.5 110.5h1.4M294 112h1.4M293.5 116h1.4M290.5 117.5h1.4M290.5 118.5h1.4M290 121h1.4M294.5 120.5h1.4M293 113.5h1.4M296 118.5h1.4M289.5 123.5h1.4M293.5 116.5h1.4M291 120h1.4M294.5 113.5h1.4M301 104h1.4M296.5 111.5h1.4M292 115.5h1.4M286 122h1.4M285.5 119h1.4M289.5 126h1.4M297 110.5h1.4M292.5 120h1.4M297 117h1.4M291 117.5h1.4M295.5 115h1.4M299.5 107h1.4M288.5 115.5h1.4M297 121h1.4M290.5 118.5h1.4M294.5 106.5h1.4M287.5 117.5h1.4M286 116.5h1.4M287 120.5h1.4M290 124h1.4M298.5 115h1.4M305 101.5h1.4M287.5 117h1.4M300 112h1.4M296 114h1.4M288.5 119h1.4M296 119.5h1.4M293.5 116.5h1.4M287.5 114.5h1.4M299 101.5h1.4M285 123.5h1.4M292.5 109h1.4M297 114h1.4M293 119h1.4M299.5 118.5h1.4M296.5 108.5h1.4M295.5 114.5h1.4M291.5 108h1.4M297 111h1.4M284 123.5h1.4M305 112h1.4M302 101h1.4M299.5 111h1.4M299.5 110.5h1.4M291.5 125.5h1.4M291.5 113h1.4M288 116h1.4M292.5 118.5h1.4M298.5 110h1.4M289.5 117.5h1.4M291.5 113h1.4M284.5 123h1.4M290 111.5h1.4M295 114.5h1.4M292 119h1.4M291.5 119h1.4M308 111.5h1.4M290 122h1.4M287 117h1.4M289.5 117.5h1.4M301.5 111h1.4M303.5 104.5h1.4M299.5 117.5h1.4M291 118.5h1.4M291 115.5h1.4M298 108.5h1.4M291 120.5h1.4M299.5 106h1.4M297 104.5h1.4M295.5 115h1.4M296 110h1.4M301 114.5h1.4M305.5 112h1.4M288 118h1.4M299.5 109h1.4M292 116h1.4M291.5 119.5h1.4M295 115h1.4M291.5 114h1.4M286 115.5h1.4M287 122.5h1.4M293 122.5h1.4M298.5 105.5h1.4M302.5 104.5h1.4M296 110h1.4M299.5 109h1.4M287 112h1.4M293.5 115h1.4M294.5 112h1.4M292.5 123.5h1.4M290.5 120.5h1.4M296 115.5h1.4M292.5 116h1.4M288.5 118.5h1.4M297.5 114.5h1.4M289.5 112h1.4M301 112.5h1.4M295 115.5h1.4M292 115.5h1.4M297 116.5h1.4M292 114h1.4M289.5 116.5h1.4M292.5 117h1.4M294 107h1.4M297 111.5h1.4M300 108h1.4M288 124.5h1.4M295.5 120h1.4M293.5 118h1.4M295.5 114.5h1.4M293 117.5h1.4M290 115.5h1.4M302.5 116h1.4M297 116h1.4M292 123.5h1.4M298 106h1.4M300 111.5h1.4M292.5 118.5h1.4M279 125h1.4M290.5 124h1.4M283.5 125h1.4M281.5 118.5h1.4M275 126.5h1.4M288 119h1.4M291.5 129h1.4M287 122.5h1.4M288.5 119h1.4M285 125h1.4M284.5 124.5h1.4M281 114h1.4M287 123h1.4M286 126.5h1.4M284.5 123h1.4M283.5 126h1.4M288 122.5h1.4M288.5 121h1.4M283.5 121.5h1.4M291 117.5h1.4M282 131h1.4M284.5 124.5h1.4M290 117.5h1.4M284.5 126h1.4M277 125.5h1.4M288 117.5h1.4M289 124.5h1.4M280 126.5h1.4M283.5 116.5h1.4M278 123h1.4M280 128h1.4M282.5 122h1.4M284.5 126.5h1.4M284 130.5h1.4M282.5 123.5h1.4M281 126h1.4M284 122h1.4M285 124h1.4M287 120.5h1.4M284.5 126h1.4M279 126.5h1.4M278.5 125.5h1.4M284 124.5h1.4M288.5 117h1.4M291.5 125.5h1.4M284 127.5h1.4M285 117.5h1.4M277 123h1.4M288 120h1.4M283.5 125h1.4M290 124.5h1.4M286.5 121h1.4M282.5 122.5h1.4M289 126.5h1.4M280 125.5h1.4M283.5 122.5h1.4M288 119.5h1.4M301.5 114.5h1.4M286 120h1.4M288 127h1.4M278 123h1.4M288.5 120h1.4M281.5 131.5h1.4M279 122.5h1.4M283.5 119.5h1.4M282 129h1.4M285.5 113.5h1.4M291 123h1.4M282 124.5h1.4M280.5 122.5h1.4M285 133h1.4M278 125.5h1.4M286.5 122.5h1.4M287 122h1.4M288.5 125h1.4M285 122h1.4M285 128h1.4M288 125h1.4M280.5 129h1.4M287.5 126.5h1.4M287 115.5h1.4M292 123h1.4M285 127h1.4M284.5 125.5h1.4M289.5 119.5h1.4M289.5 116.5h1.4M278 126h1.4M284 125.5h1.4M286.5 124h1.4M289 120h1.4M280 124h1.4M285.5 120h1.4M285 126h1.4M297.5 121.5h1.4M282 117h1.4M282.5 121.5h1.4M283 124h1.4M288 119.5h1.4M288.5 123h1.4M283 129.5h1.4M286.5 124h1.4M280.5 128h1.4M283.5 127.5h1.4M283.5 131h1.4M281 128.5h1.4M281 124.5h1.4M282.5 128h1.4M286.5 122h1.4M292 126.5h1.4M284.5 125h1.4M281 127.5h1.4M290 124.5h1.4M281 134h1.4M277 128.5h1.4M289 123.5h1.4M286 120.5h1.4M289 122h1.4M283 122.5h1.4M281 128h1.4M286 129h1.4M287 122h1.4M283 126.5h1.4M281 124h1.4M281 129h1.4M281.5 128h1.4M286 119h1.4M284 119.5h1.4M279 125h1.4M279 124.5h1.4M282 124h1.4M285 120h1.4M279 125h1.4M283.5 123h1.4M277 130h1.4M280 127h1.4M281.5 116.5h1.4M288 121h1.4M281 127.5h1.4M283 127h1.4M287.5 121.5h1.4M283 124h1.4M285.5 128h1.4M291 127h1.4M285 122.5h1.4M292 124.5h1.4M287 120.5h1.4M282.5 125h1.4M282 121h1.4M281 119.5h1.4M279.5 127h1.4M282.5 128h1.4M290.5 123.5h1.4M281 130.5h1.4M288.5 120.5h1.4M290 128h1.4M284 124h1.4M287 122h1.4M285 120.5h1.4M290 121h1.4M283 124.5h1.4M285.5 126h1.4M285 125.5h1.4M295 122.5h1.4M288 120.5h1.4M278.5 122.5h1.4M283.5 124h1.4M281.5 125h1.4M287 126h1.4M282.5 119.5h1.4M294.5 118.5h1.4M277 127h1.4M288.5 120.5h1.4M288.5 124.5h1.4M280.5 123h1.4M284.5 124h1.4M282.5 124.5h1.4M284 122.5h1.4M288.5 120.5h1.4M280.5 129h1.4M288.5 118.5h1.4M284.5 125.5h1.4M290 119h1.4M287.5 124h1.4M292.5 123.5h1.4M288.5 123.5h1.4M289.5 121.5h1.4M285 123.5h1.4M279.5 123h1.4M290.5 126h1.4M287 121h1.4M297 123h1.4M280 132h1.4M285 125.5h1.4M293.5 126h1.4M284.5 132h1.4M284 124h1.4M292 117h1.4M290 119.5h1.4M283.5 128h1.4M285.5 114h1.4M289.5 120.5h1.4M289.5 123.5h1.4M283 118.5h1.4M284.5 121.5h1.4M282.5 127h1.4M280.5 122h1.4M287 121h1.4M284 121.5h1.4M291 117.5h1.4M286 127h1.4M274.5 128.5h1.4M283.5 124h1.4M288 125h1.4M288 124.5h1.4M283 121h1.4M283 127h1.4M290 119h1.4M281 124h1.4M287 121h1.4M287 128h1.4M279.5 125.5h1.4M288 117h1.4M274.5 129h1.4M278.5 122h1.4M285.5 121.5h1.4M282 122.5h1.4M284.5 117.5h1.4M285 124.5h1.4M279.5 120.5h1.4M289 113h1.4M282.5 122.5h1.4M280.5 119.5h1.4M279.5 124.5h1.4M284 128h1.4M285 119h1.4M286 121h1.4M284 122.5h1.4M282 125.5h1.4M284.5 118h1.4M278 127h1.4M285 126.5h1.4M283 123h1.4M280.5 124.5h1.4M287 125h1.4M283.5 126.5h1.4M283 127h1.4M292.5 119.5h1.4M287 120.5h1.4M287 117.5h1.4M281 119h1.4M286 118h1.4M285.5 118.5h1.4M287 117h1.4M290.5 113.5h1.4M285 125h1.4M284.5 121h1.4M284 123h1.4M273 134h1.4M281 129h1.4M286 124.5h1.4M288 122.5h1.4M285.5 128.5h1.4M288 119h1.4M289.5 120h1.4M283.5 124.5h1.4M289.5 118.5h1.4M289.5 116.5h1.4M288 123.5h1.4M281.5 126.5h1.4M293.5 123h1.4M289 129.5h1.4M287.5 129.5h1.4M282 119.5h1.4M287 129.5h1.4M288 119h1.4M284.5 117.5h1.4M290 121h1.4M283.5 118h1.4M278.5 121.5h1.4M282.5 121.5h1.4M283 115h1.4M282.5 123h1.4M297 116.5h1.4M283 123h1.4M284 126.5h1.4M291.5 123.5h1.4M290.5 124.5h1.4M280 118h1.4M285.5 125.5h1.4M286.5 122.5h1.4M289.5 122.5h1.4M287.5 121h1.4M284.5 125h1.4M287.5 123h1.4M290.5 124h1.4M290.5 124.5h1.4M275.5 134.5h1.4M281 125.5h1.4M278 120.5h1.4M282 121.5h1.4M282 118.5h1.4M287 119.5h1.4M287.5 122h1.4M287 127h1.4M285 123.5h1.4M295.5 123.5h1.4M283.5 126h1.4M282.5 118.5h1.4M290 118h1.4M284 119.5h1.4M278.5 130.5h1.4M289 125.5h1.4M284.5 126h1.4M285.5 125h1.4M286 117.5h1.4M282.5 117h1.4M285.5 126h1.4M289 121.5h1.4M287 122.5h1.4M286 124h1.4M288.5 125.5h1.4M285.5 122.5h1.4M283 123.5h1.4M282.5 124h1.4M287.5 126.5h1.4M282 126.5h1.4M284 131.5h1.4M287.5 117.5h1.4M286 126.5h1.4M285.5 124h1.4M285.5 125h1.4M286 125h1.4M287 126h1.4M289 127.5h1.4M278.5 121.5h1.4M287.5 120h1.4M282 125h1.4M284.5 115h1.4M278.5 129.5h1.4M280 125h1.4M288.5 120.5h1.4M282 121h1.4M281.5 124h1.4M285.5 121.5h1.4M282 127h1.4M284.5 122.5h1.4M274.5 127h1.4M287.5 130h1.4M283 125.5h1.4M287.5 123h1.4M288.5 121.5h1.4M286 131h1.4M289 117h1.4M284.5 127h1.4M278 130h1.4M277.5 131.5h1.4M294 123h1.4M285.5 125h1.4M286.5 130h1.4M284 128h1.4M281.5 127.5h1.4M289.5 119.5h1.4M284.5 123.5h1.4M291.5 118.5h1.4M280 119h1.4M276 129.5h1.4M290.5 124h1.4M285 126h1.4M285.5 125.5h1.4M291 119h1.4M285 125.5h1.4M291 122h1.4M281.5 119.5h1.4M282 125.5h1.4M287.5 122.5h1.4M283.5 126h1.4M289.5 120.5h1.4M285.5 117h1.4M284 122h1.4M285 119h1.4M293.5 129.5h1.4M283.5 123.5h1.4M286 118h1.4M280 119.5h1.4M287 121.5h1.4M285 130.5h1.4M284 121.5h1.4M287.5 123.5h1.4M286 130h1.4M284.5 126h1.4M281 122.5h1.4M285 118.5h1.4M281 124h1.4M288.5 124.5h1.4M285 112.5h1.4M288.5 125h1.4M279.5 128.5h1.4M288.5 126.5h1.4M286 117h1.4M283 123h1.4M287 118h1.4M287 121.5h1.4M286.5 122.5h1.4M283.5 123.5h1.4M287 129.5h1.4M282 121.5h1.4M283.5 121h1.4M287.5 123h1.4M286.5 122h1.4M283.5 123.5h1.4M282 119.5h1.4M285.5 121h1.4M279 128h1.4M283.5 127h1.4M285 129.5h1.4M285.5 125.5h1.4M284 124h1.4M284.5 124.5h1.4M281.5 126h1.4M286 119.5h1.4M285 121.5h1.4M278.5 127.5h1.4M283.5 121.5h1.4M280.5 126h1.4M291 118.5h1.4M282.5 123.5h1.4M287 128.5h1.4M282.5 120h1.4M287 127h1.4M283 121.5h1.4M290.5 118.5h1.4M283.5 120h1.4M288 121h1.4M291 122.5h1.4M279.5 123.5h1.4M290.5 118h1.4M287 121h1.4M288 120.5h1.4M280 123.5h1.4M286 119h1.4M286 121.5h1.4M286.5 128.5h1.4M294 117.5h1.4M286.5 121.5h1.4M280.5 119.5h1.4M285 122h1.4M288.5 121h1.4M286.5 117h1.4M287 122h1.4M289.5 120h1.4M290 118.5h1.4M283.5 130.5h1.4M281.5 122.5h1.4M281 125h1.4M286 123.5h1.4M292.5 122h1.4M287 121h1.4M278.5 123h1.4M285 125.5h1.4M291 123h1.4M282 124h1.4M288 127.5h1.4M290.5 128h1.4M279.5 130h1.4M289 122.5h1.4M286.5 123h1.4M288 123h1.4M281 125.5h1.4M282.5 126h1.4M284 126.5h1.4M287 123.5h1.4M284 121.5h1.4M283.5 120.5h1.4M289.5 116h1.4M288 117.5h1.4M289 133.5h1.4M284.5 127.5h1.4M291.5 119h1.4M283.5 123.5h1.4M293 123h1.4M287.5 115h1.4M282.5 124h1.4M285.5 125.5h1.4M285 122.5h1.4M282.5 126.5h1.4M283 128h1.4M282.5 123h1.4M289 122h1.4M286.5 128h1.4M285.5 125.5h1.4M283.5 125h1.4M282.5 130h1.4M287.5 116h1.4M279 133h1.4M279 121h1.4M285 119.5h1.4M282 129.5h1.4M287 121h1.4M287 116.5h1.4M282.5 126.5h1.4M288 125.5h1.4M281 126.5h1.4M282.5 117h1.4M288.5 126.5h1.4M284.5 121.5h1.4M289.5 119h1.4M287 122h1.4M290.5 120.5h1.4M288 122h1.4M278.5 124.5h1.4M284.5 121h1.4M288.5 124.5h1.4M276.5 123.5h1.4M292.5 122.5h1.4M284 121.5h1.4M286 121.5h1.4M279.5 123h1.4M284.5 122h1.4M284 120h1.4M284 124.5h1.4M283 120.5h1.4M276.5 128.5h1.4M285.5 114h1.4M282.5 128.5h1.4M275 127h1.4M280.5 125h1.4M281.5 125.5h1.4M288 123h1.4M281 125h1.4M289 126h1.4M284.5 129.5h1.4M291 115h1.4M290 125.5h1.4M289 114h1.4M282 127h1.4M286.5 120.5h1.4M281.5 126h1.4M286 120.5h1.4M288 122h1.4M280 129h1.4M281 127h1.4M278.5 124h1.4M277.5 125h1.4M279.5 122.5h1.4M281 125h1.4M280 128h1.4M288.5 127h1.4M285.5 120h1.4M278.5 125h1.4M284 126h1.4M283.5 121.5h1.4M281.5 121h1.4M282 125h1.4M285.5 118.5h1.4M287 120h1.4M291 125.5h1.4M285 125h1.4M292.5 118.5h1.4M290 117h1.4M285 126.5h1.4M285.5 124.5h1.4M291 122h1.4M282 125.5h1.4M286 122h1.4M283 121h1.4M281 123.5h1.4M283.5 123.5h1.4M279 127.5h1.4M282.5 124.5h1.4M277.5 129h1.4M289.5 112.5h1.4M295.5 125h1.4M289.5 120h1.4M285.5 121.5h1.4M286 117.5h1.4M291.5 122h1.4M287.5 119.5h1.4M286.5 118.5h1.4M282.5 127h1.4M290.5 126.5h1.4M283.5 126h1.4M283 129.5h1.4M279.5 125h1.4M288 124h1.4M285 116h1.4M279.5 127h1.4M292.5 120h1.4M291 120h1.4M286 127h1.4M282.5 123.5h1.4M281.5 120h1.4M289 121h1.4M281.5 122h1.4M283 129h1.4M285.5 121.5h1.4M273 124h1.4M288 126.5h1.4M286.5 117h1.4M283.5 119.5h1.4M291.5 125.5h1.4M289.5 125.5h1.4M289.5 123.5h1.4M283.5 120.5h1.4M283 127h1.4M284.5 124.5h1.4M283 122h1.4M289 119.5h1.4M290 118h1.4M287 123h1.4M280 123h1.4M284 127.5h1.4M280.5 120h1.4M290.5 120h1.4M287.5 124.5h1.4M283.5 122h1.4M281 124.5h1.4M292 125.5h1.4M285.5 122h1.4M287.5 127h1.4M287 125h1.4M289 116.5h1.4M286 126h1.4M290 117.5h1.4M290 120.5h1.4M281 118.5h1.4M288 121h1.4M287 126.5h1.4M284 128.5h1.4M286 126.5h1.4M281.5 125.5h1.4M286.5 122h1.4M283 121h1.4M286.5 121h1.4M287.5 120.5h1.4M273 132h1.4M286 122.5h1.4M278 128h1.4M284 121h1.4M280 124h1.4M286.5 124.5h1.4M293.5 123.5h1.4M280.5 130.5h1.4M285 122h1.4M289.5 129.5h1.4M279 130h1.4M286 120.5h1.4M286 124.5h1.4M285.5 127.5h1.4M278.5 121h1.4M293.5 110.5h1.4M284 125h1.4M276 125.5h1.4M279 123h1.4M286 127h1.4M278 118h1.4M286.5 126h1.4M281.5 127h1.4M289 124.5h1.4M283 124.5h1.4M283 130.5h1.4M282 126h1.4M281.5 122h1.4M287.5 120.5h1.4M287 122.5h1.4M280.5 120.5h1.4M287 125.5h1.4M283.5 120.5h1.4M292.5 118h1.4M282.5 124.5h1.4M286.5 122h1.4M287 121h1.4M281.5 126.5h1.4M287 124.5h1.4M286.5 124.5h1.4M282.5 123.5h1.4M287 122h1.4M291 123h1.4M290.5 122h1.4M285.5 125.5h1.4M285.5 123h1.4M293 116h1.4M281 126.5h1.4M287 124.5h1.4M288 120.5h1.4M288.5 126.5h1.4M293 128.5h1.4M285.5 123h1.4M291 125h1.4M291.5 122h1.4M286.5 127h1.4M284.5 121.5h1.4M287 126.5h1.4M283 124h1.4M286 124.5h1.4M283.5 130h1.4M291 125h1.4M290 117.5h1.4M290 117.5h1.4M288 118h1.4M278 122h1.4M289.5 118.5h1.4M282 125h1.4M285 124h1.4M291 117.5h1.4M282 127.5h1.4M290 123h1.4M282 117.5h1.4M288.5 128.5h1.4M281.5 125.5h1.4M285.5 121h1.4M283 124.5h1.4M290.5 122.5h1.4M289.5 120.5h1.4M281 128.5h1.4M285.5 127.5h1.4M284 124.5h1.4M281.5 128h1.4M282 128h1.4M284 121.5h1.4M286.5 126.5h1.4M278.5 127.5h1.4M284.5 126.5h1.4M286 121h1.4M280.5 127h1.4M281 125.5h1.4M292.5 121h1.4M291 121.5h1.4M281 130.5h1.4M280 127h1.4M285 120.5h1.4M278.5 124.5h1.4M285 125.5h1.4M283 124.5h1.4M290.5 126h1.4M280.5 136.5h1.4M279 132h1.4M282 129h1.4M292 124.5h1.4M288 128.5h1.4M278 127.5h1.4M288.5 124h1.4M291 125.5h1.4M279.5 118.5h1.4M283.5 124h1.4M287 123h1.4M288 118.5h1.4M287 125h1.4M283.5 118h1.4M288 127.5h1.4M286.5 128h1.4M282 126.5h1.4M287.5 124.5h1.4M281 121h1.4M287.5 128h1.4M290 122.5h1.4M286.5 121.5h1.4M287 119.5h1.4M277.5 126h1.4M286.5 121h1.4M278.5 120h1.4M283 127h1.4M281.5 125.5h1.4M287.5 118h1.4M288.5 122h1.4M283 126.5h1.4M282 128h1.4M286.5 125h1.4M286 127.5h1.4M292 120h1.4M283 131.5h1.4M278 128h1.4M287.5 128h1.4M281 118.5h1.4M282 119h1.4M285.5 118.5h1.4M293 118h1.4M285 126h1.4M280.5 122h1.4M278.5 128.5h1.4M285 121.5h1.4M289.5 123h1.4M282 122h1.4M291 122h1.4M285 123.5h1.4M294 123.5h1.4M287.5 124h1.4M280.5 125.5h1.4M284 126.5h1.4M280.5 129h1.4M277.5 127h1.4M286 123h1.4M285.5 118h1.4M297 123.5h1.4M283.5 122.5h1.4M283 123h1.4M284.5 130.5h1.4M291 124h1.4M284.5 120.5h1.4M285 128h1.4M289 123h1.4M286 120.5h1.4M279 130h1.4M286.5 120.5h1.4M287.5 125.5h1.4M283 124h1.4M281.5 122h1.4M290.5 117.5h1.4M295 124.5h1.4M290 116.5h1.4M281 127h1.4M284.5 128h1.4M285.5 117.5h1.4M284.5 131.5h1.4M278.5 121h1.4M280 130.5h1.4M288.5 114.5h1.4M289 120.5h1.4M289.5 125.5h1.4M285.5 123h1.4M283 124h1.4M282.5 123.5h1.4M285 119h1.4M284.5 128h1.4M288.5 119h1.4M282 123.5h1.4M282.5 127h1.4M291.5 122h1.4M286.5 126.5h1.4M285.5 120h1.4M282 123h1.4M279 132.5h1.4M290 125.5h1.4M278 124.5h1.4M292 124h1.4M279.5 128h1.4M280 131h1.4M290 127h1.4M286.5 122h1.4M286 124h1.4M278 123.5h1.4M283.5 115.5h1.4M280.5 128.5h1.4M281.5 122.5h1.4M280 123.5h1.4M285 126h1.4M290 123h1.4M279.5 121.5h1.4M288 123h1.4M287.5 121.5h1.4M279.5 129.5h1.4M281.5 127.5h1.4M285 126h1.4M281.5 123.5h1.4M283.5 119.5h1.4M279 130.5h1.4M290.5 125h1.4M287.5 121.5h1.4M287.5 128h1.4M281.5 129.5h1.4M282.5 120.5h1.4M278.5 119.5h1.4M286.5 121h1.4M287 126.5h1.4M286 119.5h1.4M288 130.5h1.4M291.5 121h1.4M274 126.5h1.4M280 125h1.4M289.5 125.5h1.4M283 132h1.4M286 119.5h1.4M281 127.5h1.4M286.5 125h1.4M281 125.5h1.4M284.5 126.5h1.4M289.5 128h1.4M283 122h1.4M285 126.5h1.4M295 119.5h1.4M288 127h1.4M281 126h1.4M290 123h1.4M286.5 119.5h1.4M290 120.5h1.4M289 115.5h1.4M282.5 127.5h1.4M290 122h1.4M293 125h1.4M287.5 126.5h1.4M284.5 121h1.4M268.5 125h1.4M285.5 128.5h1.4M293.5 121h1.4M278 128h1.4M282 124h1.4M287.5 124.5h1.4M287 121.5h1.4M294 122.5h1.4M279.5 129.5h1.4M283.5 121.5h1.4M305 107h1.4M290.5 120.5h1.4M288.5 120h1.4M298 119h1.4M303 114h1.4M292 112h1.4M281.5 120h1.4M295.5 117.5h1.4M304 117h1.4M276.5 114h1.4M276 123.5h1.4M293.5 113h1.4M297.5 119.5h1.4M300.5 113.5h1.4M290.5 116.5h1.4M289 126.5h1.4M281.5 115h1.4M282 125h1.4M281.5 123.5h1.4M290 126.5h1.4M290 125h1.4M302.5 113h1.4M279.5 126h1.4M291.5 119.5h1.4M287 123.5h1.4M301.5 106h1.4M292 115h1.4M282.5 115h1.4M298 113h1.4M295 121.5h1.4M287 121.5h1.4M298 101h1.4M298.5 115h1.4M304.5 105h1.4M301.5 111h1.4M295.5 110.5h1.4M291 116h1.4M285 129h1.4M297.5 113.5h1.4M288 113.5h1.4M292.5 108.5h1.4M287.5 114.5h1.4M282 119.5h1.4M284 126.5h1.4M298 114.5h1.4M298 105h1.4M292.5 125h1.4M294.5 115h1.4M308.5 115.5h1.4M285.5 125.5h1.4M290.5 123.5h1.4M286 131h1.4M298.5 107h1.4M295.5 119h1.4M288.5 123h1.4M278.5 131h1.4M292 122h1.4M293.5 105h1.4M290 122h1.4M286.5 120.5h1.4M300.5 118.5h1.4M282.5 129h1.4M292.5 119h1.4M297 115h1.4M286.5 126h1.4M283.5 123.5h1.4M287 110h1.4M290.5 119h1.4M289.5 120h1.4M294 118h1.4M283.5 106h1.4M277.5 118h1.4M283.5 120.5h1.4M292 112h1.4M302.5 112.5h1.4M302.5 108.5h1.4M283 123h1.4M299.5 109.5h1.4M300 116h1.4M293.5 121h1.4M293 112.5h1.4M296.5 110.5h1.4M313 113.5h1.4M282 125h1.4M291 108.5h1.4M292 121.5h1.4M288.5 118.5h1.4M305.5 115.5h1.4M294.5 108.5h1.4M286.5 130h1.4M293 125h1.4M294 117.5h1.4M271 118.5h1.4M300 114h1.4M295 123.5h1.4M290.5 115h1.4M292.5 114.5h1.4M299.5 98h1.4M295.5 122.5h1.4M293.5 127h1.4M306 106.5h1.4M285.5 120h1.4M285.5 120h1.4M275.5 123.5h1.4M305 116h1.4M296 119h1.4M295 115h1.4M289 113.5h1.4M288 117h1.4M286 125.5h1.4M288 127.5h1.4M291 111h1.4M288.5 113h1.4M294.5 95h1.4M285.5 124h1.4M281 115h1.4M287 130h1.4M304 110h1.4M283.5 129.5h1.4M299 114h1.4M305.5 111h1.4M291.5 121h1.4M297 113h1.4M275.5 135h1.4M285.5 118h1.4M278 130h1.4M292.5 116.5h1.4M285.5 112h1.4M283.5 122h1.4M298 110.5h1.4M294 115.5h1.4M286.5 121.5h1.4M284.5 119.5h1.4M282 131.5h1.4M285.5 114.5h1.4M302.5 96h1.4M281 118.5h1.4M296 116.5h1.4M292 128h1.4M299 113.5h1.4M294 114h1.4M286 116h1.4M277 131.5h1.4M288 123h1.4M295 103h1.4M291.5 122.5h1.4M292 109h1.4M284 117.5h1.4M280.5 136.5h1.4M293.5 113.5h1.4M295.5 117.5h1.4M289.5 126h1.4M294.5 128h1.4M299 122h1.4M284.5 120.5h1.4M295 117h1.4M288.5 118h1.4M275.5 139h1.4M291 120h1.4M287 123h1.4M289.5 130h1.4M300 121.5h1.4M285.5 119.5h1.4M294.5 113.5h1.4M303 113.5h1.4M292.5 117h1.4M276 126.5h1.4M278.5 116h1.4M301.5 114.5h1.4M286.5 117h1.4M277 115h1.4M290 118h1.4M289.5 108h1.4M302.5 126.5h1.4M291 107.5h1.4M284.5 124h1.4M295.5 127.5h1.4M286 116.5h1.4M287 113.5h1.4M269.5 128h1.4M284.5 114.5h1.4M280 127.5h1.4M305 110.5h1.4M305 108.5h1.4M304.5 105.5h1.4M296 110h1.4M289 123h1.4M298.5 110.5h1.4M286 115.5h1.4M294.5 112h1.4M275.5 115h1.4M278.5 113.5h1.4M299 119h1.4M307.5 107h1.4M295.5 123h1.4M313.5 106h1.4M311.5 95.5h1.4M284 131h1.4M294.5 122h1.4M284 126h1.4M287 115.5h1.4M288 123h1.4M291.5 119.5h1.4M295.5 107h1.4M297 109h1.4M291.5 114h1.4M287.5 114h1.4M295.5 121h1.4M291 116h1.4M298 116h1.4M287.5 113.5h1.4M292 111h1.4M284 131.5h1.4M292.5 106.5h1.4M309.5 109.5h1.4M288 111.5h1.4M279 127h1.4M305 111.5h1.4M292.5 124.5h1.4M268 140.5h1.4M289.5 119.5h1.4M298.5 116h1.4M292 112.5h1.4M306 114.5h1.4M296 113h1.4M292 117h1.4M282 139.5h1.4M281 124.5h1.4M297 121.5h1.4M305.5 123h1.4M285 127.5h1.4M287 123h1.4M291.5 110.5h1.4M277.5 133.5h1.4M270 126h1.4M284 113.5h1.4M289 111.5h1.4M282.5 116h1.4M271 133h1.4M293 120h1.4M278 125h1.4M293 109h1.4M289.5 117.5h1.4M294 117h1.4M302 119.5h1.4M284.5 119h1.4M296.5 110.5h1.4M306 114h1.4M294 114.5h1.4M299 105h1.4M286.5 122.5h1.4M295.5 108h1.4M290.5 112.5h1.4M288.5 131h1.4M291.5 119.5h1.4M285 119.5h1.4M283 118h1.4M286.5 111.5h1.4M306.5 117.5h1.4M288.5 120.5h1.4M289.5 114h1.4M274.5 123.5h1.4M286 110h1.4M303.5 113h1.4M299 113.5h1.4M298.5 118.5h1.4M284 118h1.4M288 130h1.4M286 113.5h1.4M277 123.5h1.4M279.5 124.5h1.4M306.5 119.5h1.4M286 127h1.4M303 101.5h1.4M284.5 134h1.4M295.5 115.5h1.4M282 126.5h1.4M289 113h1.4M281.5 124h1.4M290.5 116.5h1.4M291.5 120.5h1.4M287.5 121h1.4M295.5 114.5h1.4M300.5 104h1.4M287 122.5h1.4M294.5 107h1.4M298 124h1.4M286.5 113h1.4M309.5 102.5h1.4M269.5 129h1.4M285 122.5h1.4M273.5 127.5h1.4M283 114h1.4M291 121.5h1.4M321.5 89.5h1.4M294.5 116h1.4M305 104h1.4M307.5 115h1.4M288 121.5h1.4M296 115h1.4M307.5 108.5h1.4M293 117h1.4M298.5 122.5h1.4M290 108.5h1.4M277 127h1.4M277.5 116h1.4M297 119h1.4M299.5 118.5h1.4M282.5 123.5h1.4M294.5 127h1.4M289 117.5h1.4M292.5 121.5h1.4M298 114h1.4M291 116h1.4M292 116.5h1.4M273 120.5h1.4M280 123h1.4M298.5 120.5h1.4M274.5 125.5h1.4M298 121h1.4M285.5 122h1.4M289 128.5h1.4M299.5 116.5h1.4M280.5 117.5h1.4M286 126.5h1.4M288 125.5h1.4M293.5 119.5h1.4M314.5 99h1.4M268.5 127.5h1.4M295 122.5h1.4M293.5 124.5h1.4M296.5 108.5h1.4M294 127h1.4M272.5 137.5h1.4M297.5 103.5h1.4M282 126h1.4M292 120h1.4M282.5 130.5h1.4M285.5 129.5h1.4M289 124h1.4M297.5 111h1.4M293.5 106.5h1.4M282.5 118.5h1.4M297 116.5h1.4M290.5 123.5h1.4M289.5 114h1.4M299 124h1.4M297.5 115h1.4M287 123.5h1.4M294 123.5h1.4M296.5 120.5h1.4M290.5 116h1.4M290.5 130.5h1.4M308.5 109h1.4M289.5 124h1.4M297 112h1.4M297.5 122h1.4M297 104.5h1.4M274.5 135h1.4M308.5 104h1.4M290.5 121h1.4M283.5 129.5h1.4M295.5 121h1.4M305 97h1.4M294.5 113.5h1.4M281.5 127.5h1.4M283.5 117.5h1.4M304.5 111h1.4M277.5 125.5h1.4M289.5 119h1.4M292 123.5h1.4M306 99h1.4M294 126h1.4M299.5 106h1.4M288.5 126.5h1.4M283 122h1.4M294 105h1.4M294 111h1.4M279 133h1.4M296.5 113.5h1.4M297.5 115h1.4M290.5 127h1.4M297 121h1.4M293 116h1.4M285 119.5h1.4M292.5 129.5h1.4M286 123h1.4M287 118h1.4M280 127.5h1.4M294.5 122.5h1.4M275 125h1.4M296 122.5h1.4M288 116h1.4M277 119h1.4M305.5 120h1.4M306 103h1.4M300.5 107h1.4M279 127h1.4M304 112h1.4M294 118h1.4M295.5 124h1.4M285.5 122h1.4M289 116h1.4M304.5 110.5h1.4M299 118h1.4M289.5 123h1.4M285.5 123h1.4M287.5 121h1.4M296 114.5h1.4M306 104h1.4M287 131h1.4M301 129h1.4M285.5 118.5h1.4M280 118h1.4M299.5 121h1.4M298 117h1.4M278.5 127.5h1.4M279 122h1.4M298.5 107h1.4M289 110.5h1.4M295.5 114.5h1.4M285.5 120h1.4M286.5 119.5h1.4M296.5 116.5h1.4M282.5 117h1.4M280 123.5h1.4M287.5 114h1.4M300 113h1.4M279 121.5h1.4M303.5 114.5h1.4M295.5 111.5h1.4M293.5 135h1.4M295 122h1.4M288 115.5h1.4M298 115.5h1.4M296 112.5h1.4M286.5 134h1.4M274.5 122h1.4M297.5 108.5h1.4M292 117.5h1.4M293 113.5h1.4M292.5 114.5h1.4M298.5 101.5h1.4M280.5 126h1.4M305 116h1.4M285.5 125h1.4M292.5 107.5h1.4M300 106h1.4M281.5 130h1.4M292 113h1.4M309.5 99h1.4M310.5 99.5h1.4M305.5 98.5h1.4M307 99h1.4M311 98.5h1.4M308.5 99h1.4M310 98.5h1.4M314 99h1.4M308.5 98.5h1.4M310 99h1.4M308 99h1.4M307.5 98.5h1.4M309 99h1.4M305.5 98.5h1.4M304 99h1.4M312.5 99.5h1.4M309 98.5h1.4M312 98h1.4M309.5 98.5h1.4M309.5 98.5h1.4M311 98.5h1.4M311 99h1.4M306.5 99.5h1.4M312 98.5h1.4M307 98h1.4M309.5 98.5h1.4M315.5 98.5h1.4M309.5 98.5h1.4M313.5 98.5h1.4M308.5 98.5h1.4M311 98.5h1.4M309.5 98.5h1.4M310.5 99h1.4M307 99h1.4M307 98.5h1.4M310 99h1.4M305.5 100h1.4M307 98.5h1.4M311 100h1.4M308 97.5h1.4M307 98.5h1.4M306.5 98.5h1.4M309.5 99h1.4M308.5 99h1.4M309.5 99h1.4M309 98.5h1.4M314 99h1.4M308 98.5h1.4M304.5 98.5h1.4M309.5 98.5h1.4M309.5 99h1.4M309.5 99.5h1.4M305.5 98.5h1.4M312 99h1.4M309 98.5h1.4M309 98h1.4M305.5 98h1.4M310.5 98.5h1.4M309 98h1.4M312.5 98h1.4M259 116.5h1.4M262 111.5h1.4M266 114.5h1.4M258 118h1.4M256 110h1.4M252.5 117.5h1.4M260.5 108h1.4M254.5 112h1.4M264.5 118.5h1.4M255.5 120h1.4M271.5 108.5h1.4M269.5 109h1.4M249 116.5h1.4M268.5 108h1.4M256.5 112h1.4M269.5 116h1.4M263 114.5h1.4M259 114.5h1.4M265.5 108.5h1.4M255.5 112h1.4M260.5 121h1.4M264 105.5h1.4M259 109.5h1.4M261.5 118h1.4M251.5 113.5h1.4M263 117.5h1.4M250.5 111.5h1.4M264.5 112.5h1.4M263 113h1.4M264.5 116.5h1.4M254.5 116h1.4M283 114h1.4M257.5 113.5h1.4M262 104.5h1.4M253 115.5h1.4M271 112h1.4M256 112.5h1.4M266.5 117.5h1.4M253.5 106.5h1.4M262 113h1.4M256 116.5h1.4M266.5 116h1.4M258 109h1.4M252 117h1.4M264 108.5h1.4M251 109h1.4M252 113h1.4M266.5 109h1.4M247 104h1.4M265.5 112h1.4M256.5 112h1.4M254 104.5h1.4M262.5 107.5h1.4M263.5 118h1.4M255 113.5h1.4M258 114h1.4M265.5 116h1.4M264 120.5h1.4M260 109.5h1.4M254 112h1.4M252.5 111.5h1.4M256 107h1.4M264.5 116.5h1.4M264 114.5h1.4M262 112.5h1.4M269.5 117h1.4M257.5 113.5h1.4M257.5 109.5h1.4M257 113h1.4M275 110.5h1.4M244 113.5h1.4M262 113h1.4M262 119.5h1.4M260 114h1.4M276.5 119.5h1.4M269.5 109.5h1.4M266 111.5h1.4M253.5 110h1.4M265 106.5h1.4M258 107h1.4M260.5 110.5h1.4M261 116.5h1.4M255 118.5h1.4M264.5 114.5h1.4M271.5 117h1.4M267 117.5h1.4M261 115h1.4M244.5 117.5h1.4M269 108.5h1.4M267 119.5h1.4M258 116h1.4M256.5 110.5h1.4M263.5 121h1.4M254.5 108.5h1.4M266.5 110.5h1.4M251.5 113h1.4M252.5 116.5h1.4M259.5 115.5h1.4M247.5 119h1.4M261 107.5h1.4M264 114h1.4M249.5 114.5h1.4M266 118.5h1.4M256 110.5h1.4M265 108h1.4M260.5 119h1.4M256 115h1.4M255 120h1.4M248 108.5h1.4M255 112h1.4M256 103h1.4M272 116h1.4M267 116.5h1.4M249.5 114.5h1.4M266.5 111h1.4M260.5 120.5h1.4M257.5 110h1.4M263.5 113h1.4M265.5 116.5h1.4M255 116.5h1.4M258.5 108.5h1.4M262.5 106h1.4M252.5 114h1.4M261.5 111.5h1.4M260.5 106h1.4M254.5 115h1.4M253.5 113.5h1.4M261.5 119h1.4M266.5 115h1.4M262.5 114h1.4M253.5 114h1.4M265 117.5h1.4M260 120h1.4M263.5 119.5h1.4M268 119h1.4M254 109.5h1.4M258.5 115.5h1.4M255 116h1.4M254 109.5h1.4M275 113.5h1.4M266.5 117.5h1.4M246.5 113.5h1.4M263.5 111h1.4M256 111h1.4M268 118.5h1.4M261 112.5h1.4M258.5 113.5h1.4M262 109h1.4M262 117.5h1.4M261 110h1.4M258.5 111.5h1.4M258 117.5h1.4M264.5 109.5h1.4M252.5 108h1.4M259 119h1.4M260.5 105h1.4M255.5 117.5h1.4M264.5 118h1.4M250.5 113h1.4M258 109.5h1.4M254 110h1.4M264 114.5h1.4M257.5 107h1.4M260.5 112h1.4M264 108h1.4M250.5 99.5h1.4M263.5 113h1.4M252.5 123h1.4M258 115h1.4M258.5 117.5h1.4M266 114h1.4M265.5 114h1.4M272 121h1.4M260.5 118.5h1.4M256.5 114h1.4M256 113.5h1.4M263 125h1.4M272.5 111.5h1.4M262.5 113.5h1.4M255.5 112.5h1.4M262 112.5h1.4M261 118h1.4M260 113.5h1.4M255.5 108h1.4M242 105.5h1.4M256.5 111h1.4M267.5 116h1.4M261 117h1.4M244.5 105h1.4M260.5 111h1.4M246 113h1.4M273 125h1.4M261 117.5h1.4M249.5 120h1.4M267 109h1.4M265.5 111h1.4M258 123h1.4M262 111.5h1.4M284 115.5h1.4M273.5 127.5h1.4M253.5 125h1.4M263 122h1.4M254.5 118.5h1.4M250.5 113h1.4M265.5 120h1.4M283 113.5h1.4M276 128.5h1.4M264.5 137.5h1.4M261 121h1.4M265.5 116h1.4M272 121h1.4M252.5 125h1.4M249.5 116.5h1.4M279 107.5h1.4M266 119.5h1.4M276.5 123.5h1.4M266 124h1.4M275.5 107h1.4M259 119h1.4M268 115.5h1.4M276 111.5h1.4M272 112.5h1.4M260.5 124.5h1.4M271 113.5h1.4M259 114h1.4M253 116h1.4M268 113h1.4M275 122.5h1.4M270.5 119.5h1.4M254 122h1.4M271 114.5h1.4M269.5 123h1.4M260.5 116.5h1.4M244.5 125.5h1.4M272 119.5h1.4M271 121h1.4M268 119.5h1.4M250.5 118h1.4M252 120h1.4M272 120.5h1.4M270.5 131.5h1.4M268 112.5h1.4M262 122.5h1.4M267 120.5h1.4M259.5 124h1.4M261.5 113h1.4M257 124.5h1.4M266 116h1.4M260.5 112h1.4M271.5 109h1.4M269.5 112h1.4M257.5 115.5h1.4M278.5 126h1.4M255 111.5h1.4M267.5 112h1.4M272.5 114h1.4M274 114h1.4M246.5 118.5h1.4M272 122h1.4M273.5 112.5h1.4M275.5 111.5h1.4M246.5 125h1.4M258.5 113.5h1.4M263 117.5h1.4M260.5 113.5h1.4M266.5 147h1.4M273 140.5h1.4M271.5 140.5h1.4M267.5 139.5h1.4M272 143.5h1.4M264.5 148.5h1.4M270 143.5h1.4M272 143h1.4M277.5 136h1.4M260.5 153h1.4M273.5 143.5h1.4M266 144h1.4M269 143.5h1.4M270 145h1.4M266.5 148.5h1.4M269.5 143h1.4M263.5 148.5h1.4M272 140h1.4M268.5 148.5h1.4M264 139.5h1.4M270.5 135h1.4M265 147h1.4M268 138h1.4M264.5 146h1.4M268.5 145h1.4M260.5 153h1.4M261 135.5h1.4M269.5 136h1.4M260.5 147h1.4M270.5 143h1.4M265 143.5h1.4M250 152.5h1.4M265 144.5h1.4M269.5 135h1.4M257 150h1.4M260.5 143h1.4M259 153.5h1.4M275.5 131h1.4M266 150.5h1.4M256 142.5h1.4M259 153.5h1.4M265.5 146h1.4M256 150h1.4M263.5 149h1.4M273 137.5h1.4M262 148h1.4M260 155h1.4M257 162h1.4M276 135h1.4M275.5 137.5h1.4M262.5 146.5h1.4M279 129h1.4M277 140.5h1.4M264.5 146.5h1.4M260.5 153h1.4M265.5 150.5h1.4M267 149h1.4M268 131h1.4M262.5 152.5h1.4M265.5 148h1.4M269 136h1.4M276 130.5h1.4M257 151h1.4M270 149h1.4M263.5 156h1.4M249.5 146h1.4M261.5 152h1.4M261 154.5h1.4M252 163h1.4M263 157.5h1.4M264 147h1.4M272.5 138.5h1.4M258.5 151.5h1.4M262.5 149.5h1.4M270 144.5h1.4M271.5 144.5h1.4M271 155.5h1.4M261 147h1.4M281 136h1.4M263 152.5h1.4M256 149h1.4M254.5 163.5h1.4M265 143.5h1.4M263 151.5h1.4M274.5 131h1.4M262 151.5h1.4M271 143h1.4M266 137.5h1.4M276 135.5h1.4M275.5 136h1.4M262.5 147h1.4M267 152h1.4M259.5 149.5h1.4M259 150h1.4M255.5 146.5h1.4M265.5 142.5h1.4M269.5 152h1.4M263.5 149h1.4M278 128h1.4M267 145.5h1.4M262 152h1.4M277.5 135.5h1.4M260 156.5h1.4M265 142h1.4M267 146.5h1.4M268 155.5h1.4M271 146.5h1.4M272.5 139.5h1.4M246.5 151h1.4M257.5 149.5h1.4M256.5 140h1.4M271.5 154h1.4M268.5 156h1.4M261.5 153.5h1.4M263.5 157h1.4M273 152h1.4M259 139h1.4M259.5 143h1.4M270 137.5h1.4M266.5 137h1.4M274.5 157.5h1.4M265.5 145.5h1.4M268.5 137h1.4M257.5 130h1.4M239.5 145.5h1.4M266 152.5h1.4M270.5 158.5h1.4M263 146.5h1.4M260.5 156.5h1.4M271.5 169.5h1.4M262 150h1.4M270.5 148.5h1.4M281 144.5h1.4M268.5 141.5h1.4M270.5 148h1.4M266.5 152h1.4M264.5 155.5h1.4M264.5 164h1.4M263 153.5h1.4M271.5 141h1.4M248.5 144h1.4M260 132h1.4M268 151h1.4M261.5 142.5h1.4M256.5 141h1.4M266 160h1.4M269.5 163.5h1.4M275 148.5h1.4M266.5 143.5h1.4M264.5 152.5h1.4M267 156.5h1.4M274.5 160h1.4M265.5 148.5h1.4M246.5 153h1.4M268.5 155.5h1.4M266 172h1.4M266.5 135h1.4M282.5 166.5h1.4M289 158h1.4M281 153h1.4M293 151.5h1.4M278 162.5h1.4M291 158.5h1.4M288.5 157.5h1.4M297.5 140.5h1.4M281 146h1.4M285 153h1.4M288 152.5h1.4M307 147.5h1.4M278 156.5h1.4M292.5 152.5h1.4M285 165.5h1.4M292.5 144h1.4M295.5 141.5h1.4M291.5 146.5h1.4M292 145.5h1.4M292.5 146.5h1.4M285.5 131.5h1.4M288.5 148h1.4M276.5 162h1.4M287 159.5h1.4M284 143.5h1.4M288 140.5h1.4M296 143h1.4M293 142.5h1.4M294 148.5h1.4M299 163.5h1.4M270.5 156.5h1.4M293.5 166.5h1.4M290 153.5h1.4M289.5 162.5h1.4M279.5 149h1.4M294.5 151.5h1.4M299.5 168h1.4M298.5 143.5h1.4M289.5 143h1.4M295 162.5h1.4M297.5 148.5h1.4M305 143.5h1.4M300 152.5h1.4M291 142h1.4M291 148.5h1.4M291.5 140.5h1.4M292 148.5h1.4M286 151.5h1.4M296.5 145.5h1.4M284.5 143h1.4M283.5 148h1.4M293 154h1.4M285.5 157.5h1.4M288 153.5h1.4M273 155.5h1.4M296.5 148h1.4M290 148.5h1.4M289 151h1.4M294 150h1.4M291.5 148.5h1.4M284.5 136h1.4M306.5 139h1.4M286.5 155.5h1.4M298 146.5h1.4M305 153h1.4M285 151h1.4M291 152.5h1.4M283.5 156h1.4M298.5 162.5h1.4M287.5 172.5h1.4M281 148.5h1.4M300.5 139.5h1.4M297.5 158.5h1.4M283 145.5h1.4M299.5 153.5h1.4M291.5 147.5h1.4M312 157.5h1.4M304 152.5h1.4M285.5 151h1.4M288 172h1.4M283 148h1.4M291 151.5h1.4M290.5 173h1.4M296 144h1.4M290.5 150.5h1.4M278 148.5h1.4M283.5 147h1.4M301.5 154h1.4M299.5 160h1.4M288.5 154.5h1.4M289 154h1.4M288.5 130h1.4M290 133.5h1.4M276.5 154.5h1.4M297.5 154h1.4M284.5 147.5h1.4M291 145h1.4M269.5 156.5h1.4M292 159.5h1.4M301 132.5h1.4M272 140.5h1.4M302.5 164.5h1.4M294 166.5h1.4M284 158h1.4M277 148h1.4M299.5 145h1.4M292 153.5h1.4M295 165h1.4M288 148h1.4M283.5 144.5h1.4M297 150.5h1.4M282.5 155h1.4M297.5 145h1.4M276.5 151h1.4M282.5 160.5h1.4M278 149.5h1.4M300.5 162h1.4M276 141.5h1.4M280.5 146h1.4M295.5 159.5h1.4M292 148.5h1.4M308 138.5h1.4M305 170h1.4M295 151.5h1.4M295.5 135h1.4M269 142.5h1.4M277 138h1.4M269.5 143.5h1.4M277.5 138h1.4M264 138.5h1.4M268.5 133h1.4M274.5 129.5h1.4M278.5 137h1.4M280 140.5h1.4M280.5 126.5h1.4M284.5 134.5h1.4M282 133h1.4M282 133h1.4M272 129h1.4M277 131h1.4M296.5 133h1.4M291 132.5h1.4M282.5 140.5h1.4M282 139h1.4M283.5 136.5h1.4M275.5 135.5h1.4M289.5 136h1.4M275.5 134.5h1.4M277.5 136h1.4M290.5 138.5h1.4M265.5 144h1.4M280 132h1.4M267.5 133h1.4M274 140.5h1.4M277.5 133.5h1.4M275.5 134h1.4M279 136h1.4M273.5 145.5h1.4M277 142h1.4M271 139h1.4M275.5 128h1.4M269.5 140.5h1.4M281.5 138h1.4M270 141.5h1.4M282 138.5h1.4M275.5 134.5h1.4M276 146.5h1.4M285 150.5h1.4M278.5 133h1.4M266.5 136h1.4M281 139h1.4M260.5 131.5h1.4M279.5 131.5h1.4M275.5 146.5h1.4M269.5 137h1.4M278.5 130.5h1.4M276 139.5h1.4M289.5 137.5h1.4M275 131.5h1.4M289.5 137.5h1.4M286 142h1.4M274 139.5h1.4M273 143h1.4M285.5 133.5h1.4M277 144.5h1.4M279 131h1.4M276.5 144.5h1.4M270.5 136h1.4M275.5 143.5h1.4M272 137.5h1.4M268.5 131h1.4M276 130.5h1.4M288.5 129.5h1.4M287.5 136.5h1.4M277.5 135.5h1.4M278.5 135h1.4M281 133h1.4M286 138h1.4M279.5 130.5h1.4M275 134.5h1.4M275.5 130.5h1.4M284.5 133.5h1.4M293.5 132.5h1.4M274 140h1.4M265.5 138h1.4M282.5 142.5h1.4M277.5 137.5h1.4M278.5 137h1.4M285 132h1.4M278 142.5h1.4M270 120h1.4M266 136.5h1.4M277.5 130h1.4M271 131h1.4M279.5 148.5h1.4" stroke="#151515" stroke-width="1.4" fill="none"/>
<rect x="232.3" y="68.7" width="112.2" height="110.7" fill="none" stroke="#262626" stroke-width="0.95"/>
<line x1="273.9" y1="68.7" x2="273.9" y2="179.4" stroke="#181818" stroke-width="1.5"/>
<line x1="232.3" y1="134.4" x2="344.5" y2="134.4" stroke="#181818" stroke-width="1.4"/>
<line x1="232.3" y1="179.4" x2="232.3" y2="184.4" stroke="#1a1a1a" stroke-width="2.2"/>
<line x1="240.74" y1="179.4" x2="240.74" y2="183.3" stroke="#0c0c0c" stroke-width="1.4"/>
<line x1="245.68" y1="179.4" x2="245.68" y2="183.3" stroke="#0c0c0c" stroke-width="1.4"/>
<line x1="249.19" y1="179.4" x2="249.19" y2="183.3" stroke="#0c0c0c" stroke-width="1.4"/>
<line x1="251.91" y1="179.4" x2="251.91" y2="183.3" stroke="#0c0c0c" stroke-width="1.4"/>
<line x1="254.13" y1="179.4" x2="254.13" y2="183.3" stroke="#0c0c0c" stroke-width="1.4"/>
<line x1="256.01" y1="179.4" x2="256.01" y2="183.3" stroke="#0c0c0c" stroke-width="1.4"/>
<line x1="257.63" y1="179.4" x2="257.63" y2="183.3" stroke="#0c0c0c" stroke-width="1.4"/>
<line x1="259.07" y1="179.4" x2="259.07" y2="183.3" stroke="#0c0c0c" stroke-width="1.4"/>
<line x1="260.35" y1="179.4" x2="260.35" y2="184.4" stroke="#1a1a1a" stroke-width="2.2"/>
<line x1="268.79" y1="179.4" x2="268.79" y2="183.3" stroke="#0c0c0c" stroke-width="1.4"/>
<line x1="273.73" y1="179.4" x2="273.73" y2="183.3" stroke="#0c0c0c" stroke-width="1.4"/>
<line x1="277.24" y1="179.4" x2="277.24" y2="183.3" stroke="#0c0c0c" stroke-width="1.4"/>
<line x1="279.96" y1="179.4" x2="279.96" y2="183.3" stroke="#0c0c0c" stroke-width="1.4"/>
<line x1="282.18" y1="179.4" x2="282.18" y2="183.3" stroke="#0c0c0c" stroke-width="1.4"/>
<line x1="284.06" y1="179.4" x2="284.06" y2="183.3" stroke="#0c0c0c" stroke-width="1.4"/>
<line x1="285.68" y1="179.4" x2="285.68" y2="183.3" stroke="#0c0c0c" stroke-width="1.4"/>
<line x1="287.12" y1="179.4" x2="287.12" y2="183.3" stroke="#0c0c0c" stroke-width="1.4"/>
<line x1="288.4" y1="179.4" x2="288.4" y2="184.4" stroke="#1a1a1a" stroke-width="2.2"/>
<line x1="296.84" y1="179.4" x2="296.84" y2="183.3" stroke="#0c0c0c" stroke-width="1.4"/>
<line x1="301.78" y1="179.4" x2="301.78" y2="183.3" stroke="#0c0c0c" stroke-width="1.4"/>
<line x1="305.29" y1="179.4" x2="305.29" y2="183.3" stroke="#0c0c0c" stroke-width="1.4"/>
<line x1="308.01" y1="179.4" x2="308.01" y2="183.3" stroke="#0c0c0c" stroke-width="1.4"/>
<line x1="310.23" y1="179.4" x2="310.23" y2="183.3" stroke="#0c0c0c" stroke-width="1.4"/>
<line x1="312.11" y1="179.4" x2="312.11" y2="183.3" stroke="#0c0c0c" stroke-width="1.4"/>
<line x1="313.73" y1="179.4" x2="313.73" y2="183.3" stroke="#0c0c0c" stroke-width="1.4"/>
<line x1="315.17" y1="179.4" x2="315.17" y2="183.3" stroke="#0c0c0c" stroke-width="1.4"/>
<line x1="316.45" y1="179.4" x2="316.45" y2="184.4" stroke="#1a1a1a" stroke-width="2.2"/>
<line x1="324.89" y1="179.4" x2="324.89" y2="183.3" stroke="#0c0c0c" stroke-width="1.4"/>
<line x1="329.83" y1="179.4" x2="329.83" y2="183.3" stroke="#0c0c0c" stroke-width="1.4"/>
<line x1="333.34" y1="179.4" x2="333.34" y2="183.3" stroke="#0c0c0c" stroke-width="1.4"/>
<line x1="336.06" y1="179.4" x2="336.06" y2="183.3" stroke="#0c0c0c" stroke-width="1.4"/>
<line x1="338.28" y1="179.4" x2="338.28" y2="183.3" stroke="#0c0c0c" stroke-width="1.4"/>
<line x1="340.16" y1="179.4" x2="340.16" y2="183.3" stroke="#0c0c0c" stroke-width="1.4"/>
<line x1="341.78" y1="179.4" x2="341.78" y2="183.3" stroke="#0c0c0c" stroke-width="1.4"/>
<line x1="343.22" y1="179.4" x2="343.22" y2="183.3" stroke="#0c0c0c" stroke-width="1.4"/>
<line x1="344.5" y1="179.4" x2="344.5" y2="184.4" stroke="#1a1a1a" stroke-width="2.2"/>
<line x1="227.3" y1="179.4" x2="232.3" y2="179.4" stroke="#1a1a1a" stroke-width="2.2"/>
<line x1="228.4" y1="171.07" x2="232.3" y2="171.07" stroke="#0c0c0c" stroke-width="1.4"/>
<line x1="228.4" y1="166.2" x2="232.3" y2="166.2" stroke="#0c0c0c" stroke-width="1.4"/>
<line x1="228.4" y1="162.74" x2="232.3" y2="162.74" stroke="#0c0c0c" stroke-width="1.4"/>
<line x1="228.4" y1="160.06" x2="232.3" y2="160.06" stroke="#0c0c0c" stroke-width="1.4"/>
<line x1="228.4" y1="157.86" x2="232.3" y2="157.86" stroke="#0c0c0c" stroke-width="1.4"/>
<line x1="228.4" y1="156.01" x2="232.3" y2="156.01" stroke="#0c0c0c" stroke-width="1.4"/>
<line x1="228.4" y1="154.41" x2="232.3" y2="154.41" stroke="#0c0c0c" stroke-width="1.4"/>
<line x1="228.4" y1="152.99" x2="232.3" y2="152.99" stroke="#0c0c0c" stroke-width="1.4"/>
<line x1="227.3" y1="151.72" x2="232.3" y2="151.72" stroke="#1a1a1a" stroke-width="2.2"/>
<line x1="228.4" y1="143.39" x2="232.3" y2="143.39" stroke="#0c0c0c" stroke-width="1.4"/>
<line x1="228.4" y1="138.52" x2="232.3" y2="138.52" stroke="#0c0c0c" stroke-width="1.4"/>
<line x1="228.4" y1="135.06" x2="232.3" y2="135.06" stroke="#0c0c0c" stroke-width="1.4"/>
<line x1="228.4" y1="132.38" x2="232.3" y2="132.38" stroke="#0c0c0c" stroke-width="1.4"/>
<line x1="228.4" y1="130.19" x2="232.3" y2="130.19" stroke="#0c0c0c" stroke-width="1.4"/>
<line x1="228.4" y1="128.34" x2="232.3" y2="128.34" stroke="#0c0c0c" stroke-width="1.4"/>
<line x1="228.4" y1="126.73" x2="232.3" y2="126.73" stroke="#0c0c0c" stroke-width="1.4"/>
<line x1="228.4" y1="125.32" x2="232.3" y2="125.32" stroke="#0c0c0c" stroke-width="1.4"/>
<line x1="227.3" y1="124.05" x2="232.3" y2="124.05" stroke="#1a1a1a" stroke-width="2.2"/>
<line x1="228.4" y1="115.72" x2="232.3" y2="115.72" stroke="#0c0c0c" stroke-width="1.4"/>
<line x1="228.4" y1="110.85" x2="232.3" y2="110.85" stroke="#0c0c0c" stroke-width="1.4"/>
<line x1="228.4" y1="107.39" x2="232.3" y2="107.39" stroke="#0c0c0c" stroke-width="1.4"/>
<line x1="228.4" y1="104.71" x2="232.3" y2="104.71" stroke="#0c0c0c" stroke-width="1.4"/>
<line x1="228.4" y1="102.51" x2="232.3" y2="102.51" stroke="#0c0c0c" stroke-width="1.4"/>
<line x1="228.4" y1="100.66" x2="232.3" y2="100.66" stroke="#0c0c0c" stroke-width="1.4"/>
<line x1="228.4" y1="99.06" x2="232.3" y2="99.06" stroke="#0c0c0c" stroke-width="1.4"/>
<line x1="228.4" y1="97.64" x2="232.3" y2="97.64" stroke="#0c0c0c" stroke-width="1.4"/>
<line x1="227.3" y1="96.38" x2="232.3" y2="96.38" stroke="#1a1a1a" stroke-width="2.2"/>
<line x1="228.4" y1="88.04" x2="232.3" y2="88.04" stroke="#0c0c0c" stroke-width="1.4"/>
<line x1="228.4" y1="83.17" x2="232.3" y2="83.17" stroke="#0c0c0c" stroke-width="1.4"/>
<line x1="228.4" y1="79.71" x2="232.3" y2="79.71" stroke="#0c0c0c" stroke-width="1.4"/>
<line x1="228.4" y1="77.03" x2="232.3" y2="77.03" stroke="#0c0c0c" stroke-width="1.4"/>
<line x1="228.4" y1="74.84" x2="232.3" y2="74.84" stroke="#0c0c0c" stroke-width="1.4"/>
<line x1="228.4" y1="72.99" x2="232.3" y2="72.99" stroke="#0c0c0c" stroke-width="1.4"/>
<line x1="228.4" y1="71.38" x2="232.3" y2="71.38" stroke="#0c0c0c" stroke-width="1.4"/>
<line x1="228.4" y1="69.97" x2="232.3" y2="69.97" stroke="#0c0c0c" stroke-width="1.4"/>
<line x1="227.3" y1="68.7" x2="232.3" y2="68.7" stroke="#1a1a1a" stroke-width="2.2"/>
<text x="225.1" y="197" font-size="10.4" stroke="#222" stroke-width="0.15">10</text>
<text x="233.84" y="191.28" font-size="10.4" stroke="#222" stroke-width="0.15">0</text>
<text x="211.1" y="185.2" font-size="10.2" stroke="#222" stroke-width="0.15">10</text>
<text x="220.48" y="179.28" font-size="10.2" stroke="#222" stroke-width="0.15">0</text>
<text x="253.15" y="197" font-size="10.4" stroke="#222" stroke-width="0.15">10</text>
<text x="261.89" y="191.28" font-size="10.4" stroke="#222" stroke-width="0.15">1</text>
<text x="211.1" y="157.53" font-size="10.2" stroke="#222" stroke-width="0.15">10</text>
<text x="220.48" y="151.61" font-size="10.2" stroke="#222" stroke-width="0.15">1</text>
<text x="281.2" y="197" font-size="10.4" stroke="#222" stroke-width="0.15">10</text>
<text x="289.94" y="191.28" font-size="10.4" stroke="#222" stroke-width="0.15">2</text>
<text x="211.1" y="129.85" font-size="10.2" stroke="#222" stroke-width="0.15">10</text>
<text x="220.48" y="123.93" font-size="10.2" stroke="#222" stroke-width="0.15">2</text>
<text x="309.25" y="197" font-size="10.4" stroke="#222" stroke-width="0.15">10</text>
<text x="317.99" y="191.28" font-size="10.4" stroke="#222" stroke-width="0.15">3</text>
<text x="211.1" y="102.17" font-size="10.2" stroke="#222" stroke-width="0.15">10</text>
<text x="220.48" y="96.26" font-size="10.2" stroke="#222" stroke-width="0.15">3</text>
<text x="337.3" y="197" font-size="10.4" stroke="#222" stroke-width="0.15">10</text>
<text x="346.04" y="191.28" font-size="10.4" stroke="#222" stroke-width="0.15">4</text>
<text x="211.1" y="74.5" font-size="10.2" stroke="#222" stroke-width="0.15">10</text>
<text x="220.48" y="68.58" font-size="10.2" stroke="#222" stroke-width="0.15">4</text>
<text x="237.1" y="83.3" font-size="15.8" font-weight="bold" class="b">8.4</text>
<text x="341.7" y="83.3" font-size="15.8" font-weight="bold" class="b" text-anchor="end">84</text>
<text x="236.3" y="170.2" font-size="15.8" font-weight="bold" class="b">4.6</text>
<text x="341.9" y="170.2" font-size="15.8" font-weight="bold" class="b" text-anchor="end">3.3</text>
<text x="267.7" y="62.9" font-size="21" class="se" textLength="34" lengthAdjust="spacingAndGlyphs" stroke="#222" stroke-width="0.3"><tspan dy="1.3">+/</tspan><tspan dy="-1.3">Δ</tspan></text>
<path d="M454 117.5h1.4M455 110h1.4M456 111.5h1.4M451 118.5h1.4M452.5 118.5h1.4M452 119.5h1.4M454 114h1.4M456 119.5h1.4M452 111.5h1.4M449 125.5h1.4M458.5 111.5h1.4M450 115.5h1.4M454.5 113.5h1.4M452.5 117.5h1.4M453 119h1.4M457 117h1.4M455 113h1.4M450 116h1.4M454 118.5h1.4M452 112h1.4M452.5 122h1.4M450 124h1.4M453 114.5h1.4M451 119.5h1.4M446 123.5h1.4M452 121h1.4M453.5 120h1.4M453 124.5h1.4M451 124.5h1.4M455 118h1.4M458 115h1.4M451.5 117.5h1.4M452 120.5h1.4M458 118h1.4M450 110.5h1.4M453.5 119h1.4M457 116.5h1.4M453.5 111h1.4M450 116h1.4M452.5 121.5h1.4M456.5 117.5h1.4M455.5 117h1.4M454 111h1.4M449.5 122.5h1.4M452.5 120.5h1.4M450.5 120h1.4M445.5 122h1.4M456 118h1.4M455 115h1.4M453.5 121.5h1.4M452.5 108h1.4M451.5 111h1.4M453 113h1.4M454 115.5h1.4M454.5 112h1.4M453 125h1.4M454 114h1.4M457 116h1.4M450 126h1.4M455 116.5h1.4M452.5 118.5h1.4M454 113h1.4M450 117.5h1.4M452 116.5h1.4M455.5 116.5h1.4M449 119.5h1.4M455 114.5h1.4M450 115.5h1.4M456 116h1.4M456.5 123h1.4M457 113h1.4M450.5 111.5h1.4M451.5 117h1.4M455 114.5h1.4M455 110.5h1.4M457 109h1.4M447.5 122.5h1.4M456.5 114h1.4M454 115h1.4M452 117h1.4M451 122h1.4M458.5 113.5h1.4M449 121.5h1.4M452.5 113h1.4M455.5 110.5h1.4M447 122.5h1.4M451 117.5h1.4M444 118.5h1.4M453 115.5h1.4M455 109h1.4M455 106h1.4M447.5 124h1.4M450.5 119h1.4M453 112.5h1.4M454 108h1.4M453.5 114.5h1.4M450 119.5h1.4M453.5 115.5h1.4M455 118.5h1.4M450 116h1.4M451 120h1.4M457.5 117.5h1.4M454 116h1.4M456 119.5h1.4M454 119h1.4M449 122h1.4M453 120h1.4M454.5 110.5h1.4M455 119.5h1.4M448 122h1.4M455.5 110.5h1.4M451.5 112.5h1.4M457 107h1.4M452.5 116h1.4M451.5 118.5h1.4M448.5 122.5h1.4M454.5 110h1.4M461.5 107.5h1.4M449.5 119.5h1.4M451 119.5h1.4M454 114h1.4M451 120.5h1.4M448 115h1.4M453 119h1.4M453 115.5h1.4M455.5 112h1.4M451.5 116h1.4M454.5 112.5h1.4M450.5 118h1.4M452 114h1.4M449.5 127.5h1.4M448.5 122.5h1.4M457.5 115.5h1.4M450.5 119h1.4M457 116h1.4M456 116h1.4M457 111.5h1.4M452.5 111.5h1.4M454.5 112h1.4M452 117h1.4M448 117.5h1.4M452.5 121h1.4M455.5 121.5h1.4M450.5 122h1.4M451.5 119.5h1.4M450 115.5h1.4M449.5 112.5h1.4M454.5 120h1.4M442.5 121h1.4M449.5 115h1.4M452 114.5h1.4M455 112h1.4M450 111h1.4M450.5 119.5h1.4M451.5 120.5h1.4M458.5 108.5h1.4M457.5 115.5h1.4M457 108.5h1.4M459 108.5h1.4M449.5 119.5h1.4M453 114.5h1.4M456 116.5h1.4M452 112.5h1.4M456.5 116h1.4M451.5 114.5h1.4M456.5 118.5h1.4M447.5 122.5h1.4M454 118.5h1.4M450.5 119.5h1.4M454.5 117h1.4M455.5 122h1.4M457 116h1.4M455 113.5h1.4M452.5 114.5h1.4M456.5 117.5h1.4M457 119.5h1.4M453 120h1.4M452.5 117.5h1.4M452.5 119.5h1.4M455.5 116.5h1.4M451 115.5h1.4M452.5 113h1.4M447.5 121h1.4M457 114.5h1.4M450.5 120h1.4M451 120h1.4M455 119.5h1.4M449.5 118h1.4M453.5 115.5h1.4M452 120h1.4M447 119h1.4M449 119h1.4M455 110.5h1.4M450.5 115h1.4M448 120.5h1.4M455.5 118.5h1.4M449 123.5h1.4M456 108h1.4M450 124h1.4M454 115h1.4M453.5 114h1.4M445.5 120.5h1.4M451 113.5h1.4M454 111.5h1.4M454.5 115h1.4M452 114.5h1.4M454.5 112h1.4M453.5 116.5h1.4M451 113.5h1.4M451.5 116.5h1.4M456 115.5h1.4M447.5 119h1.4M455.5 114h1.4M450 118h1.4M452.5 123.5h1.4M454 115.5h1.4M459.5 111.5h1.4M457.5 114.5h1.4M455 121.5h1.4M450.5 111h1.4M451.5 119h1.4M452 117h1.4M451 115h1.4M446 126.5h1.4M452.5 115.5h1.4M452.5 123h1.4M450.5 119.5h1.4M449.5 123.5h1.4M447.5 122h1.4M449.5 120.5h1.4M458 115.5h1.4M461.5 112.5h1.4M454.5 118.5h1.4M454.5 111.5h1.4M451 117.5h1.4M446.5 124h1.4M457 119h1.4M459.5 119h1.4M452.5 119.5h1.4M454.5 116h1.4M455.5 115.5h1.4M449.5 120h1.4M449 123h1.4M454.5 119.5h1.4M454 119h1.4M451.5 118h1.4M455.5 112.5h1.4M458 110h1.4M447 115.5h1.4M455.5 114.5h1.4M455.5 113h1.4M457 115.5h1.4M456.5 113h1.4M450.5 117.5h1.4M454 113h1.4M459 109h1.4M454.5 113h1.4M451 119h1.4M458 117h1.4M463 116.5h1.4M449.5 112h1.4M449.5 118h1.4M457.5 110.5h1.4M452.5 124.5h1.4M457 116.5h1.4M450 115h1.4M454.5 125.5h1.4M457 112.5h1.4M452 114h1.4M449 121.5h1.4M453 113.5h1.4M452 118.5h1.4M442.5 121h1.4M453 121h1.4M456 117.5h1.4M454 114h1.4M450.5 114h1.4M453 116.5h1.4M452 113.5h1.4M453 118.5h1.4M458.5 113.5h1.4M450.5 114h1.4M450.5 113.5h1.4M451.5 112.5h1.4M450.5 121.5h1.4M453 121.5h1.4M459.5 112.5h1.4M454 116h1.4M451 117h1.4M453 114.5h1.4M454 121h1.4M453 115.5h1.4M451 119.5h1.4M453.5 115.5h1.4M448 123h1.4M457 111.5h1.4M450 118h1.4M448 123h1.4M451.5 117.5h1.4M453 119.5h1.4M452.5 115.5h1.4M449.5 121.5h1.4M458 118h1.4M462.5 101.5h1.4M449.5 122.5h1.4M452 114h1.4M452 118.5h1.4M453.5 116h1.4M447 124h1.4M449.5 121.5h1.4M455 115.5h1.4M456 119.5h1.4M454 107.5h1.4M454 122h1.4M454 116.5h1.4M460 104h1.4M450 119.5h1.4M449 119.5h1.4M451 116h1.4M450 115h1.4M454.5 113h1.4M447.5 112h1.4M452.5 121.5h1.4M453 115.5h1.4M461.5 106.5h1.4M457.5 112.5h1.4M444 127.5h1.4M449.5 115.5h1.4M451.5 121.5h1.4M456 115.5h1.4M451 116.5h1.4M457.5 108h1.4M451.5 110.5h1.4M453.5 111.5h1.4M453 115.5h1.4M453.5 117.5h1.4M453.5 115h1.4M457 112h1.4M457 116.5h1.4M452 118h1.4M457 112h1.4M454 116.5h1.4M453.5 117.5h1.4M447 117.5h1.4M450 118h1.4M449 118h1.4M446 129h1.4M458 114h1.4M455 115h1.4M451.5 117.5h1.4M456.5 113h1.4M454.5 115.5h1.4M452 114h1.4M445 126.5h1.4M454 119h1.4M455 115.5h1.4M459 111h1.4M458 109h1.4M459.5 112.5h1.4M449.5 122h1.4M445 124.5h1.4M454.5 114.5h1.4M454.5 118h1.4M457 114h1.4M452 117h1.4M452.5 115h1.4M447 121.5h1.4M454.5 115h1.4M454 120.5h1.4M451 113.5h1.4M453.5 114.5h1.4M451.5 116.5h1.4M453 115h1.4M455 118.5h1.4M455.5 114h1.4M454 114.5h1.4M449 117.5h1.4M451 119h1.4M464 114h1.4M453 117.5h1.4M455 112.5h1.4M451.5 113.5h1.4M450 118h1.4M446 116.5h1.4M450.5 114.5h1.4M451 114h1.4M453 113h1.4M452 124h1.4M449.5 118h1.4M451.5 116.5h1.4M458.5 111h1.4M444.5 125.5h1.4M453.5 114.5h1.4M452 119.5h1.4M454.5 115h1.4M452 119h1.4M453.5 115h1.4M458 111h1.4M453 114.5h1.4M458 118h1.4M454.5 115.5h1.4M454 122h1.4M455.5 115.5h1.4M451 117h1.4M450.5 120h1.4M453 117h1.4M452 117.5h1.4M452 111.5h1.4M455 118.5h1.4M449.5 117.5h1.4M460 113h1.4M456.5 113.5h1.4M456 111.5h1.4M456 115.5h1.4M452 117h1.4M450 117.5h1.4M454.5 119.5h1.4M455.5 113h1.4M454 117h1.4M452 125.5h1.4M453 117h1.4M450 123.5h1.4M450.5 114h1.4M451 123h1.4M446 119.5h1.4M454 117h1.4M449 114.5h1.4M447 123h1.4M454 113h1.4M457.5 107h1.4M446.5 121.5h1.4M455.5 107.5h1.4M447.5 117h1.4M452 119.5h1.4M454.5 119.5h1.4M453.5 126.5h1.4M457.5 112h1.4M453 113.5h1.4M450 119.5h1.4M452 118h1.4M449 123.5h1.4M453 119h1.4M456 113.5h1.4M447 123h1.4M455 121h1.4M452 115h1.4M458.5 114.5h1.4M457 111.5h1.4M452.5 119.5h1.4M451.5 120.5h1.4M456 116.5h1.4M454 120h1.4M452.5 118.5h1.4M458 114h1.4M453 106.5h1.4M454.5 116.5h1.4M453.5 118.5h1.4M455.5 115.5h1.4M449.5 126h1.4M457.5 120.5h1.4M450 121.5h1.4M459 106.5h1.4M458 116h1.4M453 116h1.4M454.5 119.5h1.4M445.5 127h1.4M454 113.5h1.4M456.5 109.5h1.4M450 119h1.4M456 115h1.4M453 112.5h1.4M449 123.5h1.4M455 112.5h1.4M455.5 110.5h1.4M454 116.5h1.4M455 119h1.4M454 113h1.4M450.5 124.5h1.4M455 117.5h1.4M458 114h1.4M447.5 120.5h1.4M456 113h1.4M456 121.5h1.4M445.5 124h1.4M448.5 114.5h1.4M446.5 118h1.4M455 116.5h1.4M449 121.5h1.4M455 112h1.4M449 118.5h1.4M454 115.5h1.4M453 121h1.4M450.5 117h1.4M455 111h1.4M456 118h1.4M452.5 119h1.4M448.5 121.5h1.4M456 112h1.4M454 113h1.4M450.5 117h1.4M452.5 115h1.4M450 121h1.4M452.5 123h1.4M449 119.5h1.4M451 113.5h1.4M450 113h1.4M450.5 120h1.4M455 114h1.4M452.5 111.5h1.4M450.5 114h1.4M455 112h1.4M450.5 117h1.4M454 118.5h1.4M453 114h1.4M454.5 118h1.4M455.5 114h1.4M449.5 122h1.4M458 111.5h1.4M454.5 123h1.4M454 118.5h1.4M448 122h1.4M454.5 114.5h1.4M457.5 112h1.4M455 112h1.4M454 112.5h1.4M446.5 122h1.4M452 121h1.4M451.5 118.5h1.4M450.5 121h1.4M458 113.5h1.4M456.5 118h1.4M453 117h1.4M456 116h1.4M446 117.5h1.4M450.5 120.5h1.4M450.5 120.5h1.4M455 115.5h1.4M450 113h1.4M456.5 116h1.4M456.5 112.5h1.4M450.5 123.5h1.4M451.5 119.5h1.4M453.5 116.5h1.4M446.5 120.5h1.4M454 121h1.4M456 113h1.4M453 110h1.4M457 113h1.4M453.5 117h1.4M454 119h1.4M461 116h1.4M452 118.5h1.4M451.5 114h1.4M457.5 112h1.4M455.5 121h1.4M450.5 119h1.4M452.5 117h1.4M452.5 113h1.4M452.5 113.5h1.4M454 116.5h1.4M453.5 114h1.4M451.5 126h1.4M448 118.5h1.4M453 116h1.4M448 119h1.4M447 121h1.4M450 122h1.4M450.5 120.5h1.4M454 119h1.4M454 124h1.4M454 116h1.4M457.5 109.5h1.4M454.5 119h1.4M455 110.5h1.4M453.5 115.5h1.4M448.5 120.5h1.4M453.5 119h1.4M453.5 123.5h1.4M453.5 112.5h1.4M448.5 120.5h1.4M457 111.5h1.4M455.5 115h1.4M447.5 125.5h1.4M455.5 114h1.4M458.5 111.5h1.4M454.5 123h1.4M454 111.5h1.4M450.5 126h1.4M454 116.5h1.4M448.5 124h1.4M453.5 114.5h1.4M450.5 126.5h1.4M443 126h1.4M452.5 114.5h1.4M458 106.5h1.4M448.5 117.5h1.4M457 114.5h1.4M459 121h1.4M451 117.5h1.4M452 112.5h1.4M455.5 108.5h1.4M450 122.5h1.4M454.5 114.5h1.4M453.5 115h1.4M452 125h1.4M459 111h1.4M460 110h1.4M447 118.5h1.4M459 110.5h1.4M450 114.5h1.4M452.5 117.5h1.4M460.5 113h1.4M449 113h1.4M455.5 117h1.4M456 110h1.4M453.5 109h1.4M456.5 114h1.4M451 124h1.4M446 121.5h1.4M456 112h1.4M452.5 122.5h1.4M455.5 117.5h1.4M450.5 121.5h1.4M450.5 116h1.4M449.5 122.5h1.4M456.5 109.5h1.4M446.5 118.5h1.4M450 115.5h1.4M449.5 115.5h1.4M454 110h1.4M452 125h1.4M450.5 115h1.4M451.5 117h1.4M454.5 115h1.4M456.5 116.5h1.4M454.5 121h1.4M455.5 117.5h1.4M451.5 118.5h1.4M456.5 116.5h1.4M454 118.5h1.4M452 120.5h1.4M451.5 116h1.4M454.5 115.5h1.4M459.5 108h1.4M449 117h1.4M454.5 116h1.4M456 110h1.4M448.5 126.5h1.4M447 123.5h1.4M449 121.5h1.4M452 117h1.4M461 107.5h1.4M456 116.5h1.4M457 112.5h1.4M453 118.5h1.4M443.5 125.5h1.4M444 125h1.4M458 114.5h1.4M452 115h1.4M450 122.5h1.4M455 111.5h1.4M449 123.5h1.4M459 114.5h1.4M455 109.5h1.4M449.5 119.5h1.4M452 123h1.4M459 116h1.4M450.5 122h1.4M457.5 115h1.4M450 122h1.4M454 112.5h1.4M450 114.5h1.4M452 119h1.4M447.5 118.5h1.4M451 114h1.4M448 125h1.4M455 120.5h1.4M450 117h1.4M453.5 113h1.4M444.5 118.5h1.4M455 108h1.4M450.5 117h1.4M446 119h1.4M459 112.5h1.4M457.5 110h1.4M453 118h1.4M447 118h1.4M451.5 116h1.4M456.5 124h1.4M449 116h1.4M459 112h1.4M452.5 114h1.4M454 117h1.4M453.5 115h1.4M451.5 116h1.4M455 113h1.4M457 114.5h1.4M449 116.5h1.4M452.5 116h1.4M460 107h1.4M452.5 114h1.4M453.5 118.5h1.4M455 106h1.4M452.5 116.5h1.4M449 120.5h1.4M454 113.5h1.4M452 121.5h1.4M453.5 120.5h1.4M453.5 115h1.4M451.5 117h1.4M448 118h1.4M450.5 118.5h1.4M453 120.5h1.4M455 111.5h1.4M449 118.5h1.4M449 117.5h1.4M458 108h1.4M453.5 120.5h1.4M455 109h1.4M458 112.5h1.4M451 116.5h1.4M451.5 124.5h1.4M452.5 114h1.4M456.5 115h1.4M453.5 111.5h1.4M449.5 114h1.4M454 110.5h1.4M459 113h1.4M451.5 122.5h1.4M458.5 112h1.4M452 115h1.4M450.5 118.5h1.4M451.5 118h1.4M457.5 108.5h1.4M454.5 112h1.4M446 123h1.4M449.5 114h1.4M452.5 117.5h1.4M452 117h1.4M455 121.5h1.4M451 124.5h1.4M456.5 114.5h1.4M452.5 122.5h1.4M451.5 118h1.4M449 118h1.4M451.5 120.5h1.4M456 114.5h1.4M455 116h1.4M450.5 119.5h1.4M451 121.5h1.4M454 109.5h1.4M455.5 112.5h1.4M458 114.5h1.4M465 115h1.4M457.5 117.5h1.4M456 115h1.4M464 101.5h1.4M456 117.5h1.4M457 107.5h1.4M455 115.5h1.4M454.5 121.5h1.4M461 127.5h1.4M453.5 125.5h1.4M460 120.5h1.4M452 121h1.4M451.5 118.5h1.4M458.5 103.5h1.4M454.5 117h1.4M466 111.5h1.4M449.5 107.5h1.4M459.5 109.5h1.4M452 121.5h1.4M457 116h1.4M476 101.5h1.4M458.5 108.5h1.4M460.5 108h1.4M451.5 110h1.4M457 107h1.4M445 122h1.4M446 118.5h1.4M459 114h1.4M462 111.5h1.4M452.5 119.5h1.4M458 121h1.4M453.5 119h1.4M455 118.5h1.4M445.5 123h1.4M446 126.5h1.4M460.5 122h1.4M444 128.5h1.4M444.5 119h1.4M456.5 126h1.4M451 126h1.4M456.5 114.5h1.4M456.5 123h1.4M456.5 118.5h1.4M448.5 123h1.4M454.5 125h1.4M457.5 112h1.4M456 112.5h1.4M456 123h1.4M457 113.5h1.4M453 112h1.4M456.5 115.5h1.4M464 104h1.4M450.5 117.5h1.4M458.5 114h1.4M454.5 110.5h1.4M452.5 117h1.4M450.5 127.5h1.4M457.5 110h1.4M454 112h1.4M452.5 113.5h1.4M457 118h1.4M453.5 115h1.4M445 119h1.4M456 113.5h1.4M439.5 126h1.4M450.5 113h1.4M445.5 127h1.4M450.5 117h1.4M460.5 112h1.4M450 115h1.4M452 120h1.4M460 114.5h1.4M453 118.5h1.4M452.5 119.5h1.4M451 118h1.4M463 104.5h1.4M462.5 115h1.4M460 115h1.4M446 124h1.4M457 110.5h1.4M446 125.5h1.4M449.5 105.5h1.4M444 121h1.4M467.5 103h1.4M441.5 126.5h1.4M458.5 104h1.4M458.5 110h1.4M449 134h1.4M453 118h1.4M463.5 106h1.4M455 102.5h1.4M450 133.5h1.4M446.5 116h1.4M447.5 125h1.4M445 121h1.4M451.5 122h1.4M466 103h1.4M452 112.5h1.4M453 118h1.4M449 116h1.4M459 112h1.4M460 112.5h1.4M449.5 123.5h1.4M465.5 107.5h1.4M448 124.5h1.4M448.5 114.5h1.4M461 116.5h1.4M470.5 109h1.4M452.5 119h1.4M451 109.5h1.4M459.5 104.5h1.4M454.5 108.5h1.4M458 105h1.4M463.5 111h1.4M456 114h1.4M467 119.5h1.4M462.5 111.5h1.4M452.5 115h1.4M469.5 109.5h1.4M448.5 136h1.4M452.5 126.5h1.4M463 105.5h1.4M453.5 110h1.4M442.5 113.5h1.4M452.5 109.5h1.4M466 113h1.4M458 127h1.4M459 110.5h1.4M450.5 114h1.4M459 121.5h1.4M455.5 118.5h1.4M463 110h1.4M447 124h1.4M452.5 119.5h1.4M457 110h1.4M443.5 122h1.4M444 127.5h1.4M455.5 110h1.4M448 110.5h1.4M456.5 120h1.4M458.5 118h1.4M446.5 121.5h1.4M467 90.5h1.4M447.5 122.5h1.4M448 116.5h1.4M446.5 127h1.4M449 116.5h1.4M466 107h1.4M452.5 114h1.4M457 111h1.4M450 118.5h1.4M461.5 99.5h1.4M452 112h1.4M448.5 126.5h1.4M456.5 108.5h1.4M457.5 123.5h1.4M455 109h1.4M446.5 107.5h1.4M454.5 113h1.4M453.5 114h1.4M448.5 122.5h1.4M442 124.5h1.4M462 110.5h1.4M451.5 115h1.4M457 115h1.4M452.5 120.5h1.4M441 130h1.4M446.5 125.5h1.4M468.5 111h1.4M442.5 116h1.4M451.5 118.5h1.4M450 131h1.4M447.5 117h1.4M452 119h1.4M452 117h1.4M451.5 114.5h1.4M453 123h1.4M459.5 128.5h1.4M454.5 116.5h1.4M455.5 113h1.4M450 114.5h1.4M467.5 106h1.4M456.5 115.5h1.4M454 114h1.4M451 121.5h1.4M461.5 109.5h1.4M447 122.5h1.4M447 130.5h1.4M443 118.5h1.4M461 114.5h1.4M447 124h1.4M463.5 108h1.4M456 118.5h1.4M443 125.5h1.4M449.5 115h1.4M461 99.5h1.4M447 120.5h1.4M447 126.5h1.4M454.5 110h1.4M467 111h1.4M460.5 109h1.4M450.5 117h1.4M453.5 113.5h1.4M460 117h1.4M466.5 112h1.4M462.5 96.5h1.4M455 118.5h1.4M467.5 111.5h1.4M456 122h1.4M458 112h1.4M444.5 119.5h1.4M449.5 121.5h1.4M453 110h1.4M448 122h1.4M458.5 108.5h1.4M447.5 117.5h1.4M456 116.5h1.4M453 116h1.4M453.5 119.5h1.4M457 117h1.4M459 107h1.4M476.5 96.5h1.4M446.5 124.5h1.4M458.5 116.5h1.4M453.5 118h1.4M450 124h1.4M452.5 111h1.4M448.5 122.5h1.4M453.5 116.5h1.4M457 103h1.4M450.5 138.5h1.4M459.5 117.5h1.4M465.5 121h1.4M448.5 123h1.4M456.5 111.5h1.4M454.5 112h1.4M451.5 118h1.4M465 110.5h1.4M440.5 120.5h1.4M457.5 111h1.4M453.5 119h1.4M451 127h1.4M452 116.5h1.4M453.5 120h1.4M461 112h1.4M444.5 126.5h1.4M452.5 117h1.4M454 122h1.4M460.5 102h1.4M450.5 127h1.4M464.5 112h1.4M442.5 128h1.4M456 113.5h1.4M453.5 117h1.4M458 115h1.4M450 121.5h1.4M444 132h1.4M450 132h1.4M460.5 105h1.4M459 118h1.4M449.5 123h1.4M458 108h1.4M449.5 121.5h1.4M441 114h1.4M451 129h1.4M464 110.5h1.4M466.5 102.5h1.4M444 119.5h1.4M457 115h1.4M465 113.5h1.4M464.5 98.5h1.4M442 136h1.4M456 116h1.4M455.5 109.5h1.4M447 129h1.4M458.5 115h1.4M454 114h1.4M459.5 112h1.4M450 120h1.4M460 116.5h1.4M451 121h1.4M461.5 115.5h1.4M460 120h1.4M446.5 114.5h1.4M444 125.5h1.4M462 102.5h1.4M464.5 111.5h1.4M460 110.5h1.4M451 122h1.4M456.5 123h1.4M463.5 103.5h1.4M461.5 113.5h1.4M449.5 123h1.4M459.5 120.5h1.4M452 113h1.4M450.5 116h1.4M447 122h1.4M414.5 117h1.4M417 118.5h1.4M432 105.5h1.4M419.5 113h1.4M424 113.5h1.4M422.5 118h1.4M413 116h1.4M433.5 113h1.4M406.5 112h1.4M423 119.5h1.4M421 110h1.4M409 113.5h1.4M424 120.5h1.4M426 111.5h1.4M422 116.5h1.4M415.5 112h1.4M425 118.5h1.4M430.5 115h1.4M422.5 123.5h1.4M435 115h1.4M427.5 123h1.4M427.5 115.5h1.4M431.5 128h1.4M416.5 115.5h1.4M417.5 112.5h1.4M425.5 114h1.4M426 110.5h1.4M433 121.5h1.4M431 109.5h1.4M423.5 108.5h1.4M423 121.5h1.4M419 119.5h1.4M418.5 118h1.4M418 115.5h1.4M428.5 115.5h1.4M417 126.5h1.4M419 113h1.4M423 117h1.4M417.5 120h1.4M420 111.5h1.4M404.5 116h1.4M425 111h1.4M419.5 113h1.4M423 117.5h1.4M425 110.5h1.4M407.5 111h1.4M440.5 119.5h1.4M422.5 123h1.4M423 118.5h1.4M408.5 112h1.4M427 117.5h1.4M426 108h1.4M419.5 114.5h1.4M424 115h1.4M432.5 115h1.4M419.5 119.5h1.4M415.5 116h1.4M432.5 119.5h1.4M424 126.5h1.4M420.5 124h1.4M440.5 114h1.4M423.5 118h1.4M421 116.5h1.4M424 122.5h1.4M419.5 118.5h1.4M424.5 112.5h1.4M424 115.5h1.4M417.5 118h1.4M421 109h1.4M425 116.5h1.4M425.5 117.5h1.4M427.5 111h1.4M428 124h1.4M424.5 113.5h1.4M426 121h1.4M419.5 119.5h1.4M420.5 119h1.4M430.5 116h1.4M407 114.5h1.4M425.5 114.5h1.4M447 116.5h1.4M408.5 108.5h1.4M434.5 109h1.4M409 111.5h1.4M425.5 112.5h1.4M435 118.5h1.4M433.5 121.5h1.4M415.5 112.5h1.4M412 115h1.4M411 111h1.4M427 124.5h1.4M420 103.5h1.4M421.5 121.5h1.4M424 116h1.4M425.5 111.5h1.4M425.5 122.5h1.4M422.5 118.5h1.4M409 124h1.4M433 123h1.4M400 123h1.4M431.5 116h1.4M417.5 114h1.4M420 117h1.4M418 110h1.4M419.5 109.5h1.4M421.5 116h1.4M419.5 116.5h1.4M413 116.5h1.4M428.5 118.5h1.4M417.5 109.5h1.4M432.5 115.5h1.4M420.5 117h1.4M416 116.5h1.4M425.5 113.5h1.4M428.5 118h1.4M414.5 114h1.4M419.5 116h1.4M433.5 110.5h1.4M414.5 110h1.4M414.5 122h1.4M423 116.5h1.4M412.5 112h1.4M402.5 116.5h1.4M409 111h1.4M425 114.5h1.4M427 113.5h1.4M426.5 116.5h1.4M425 114.5h1.4M412.5 113h1.4M426.5 123h1.4M430.5 120.5h1.4M416 120h1.4M429.5 108.5h1.4M419 114h1.4M423.5 114h1.4M424.5 115h1.4M410 117.5h1.4M433 120h1.4M415.5 111.5h1.4M421 117.5h1.4M418.5 108.5h1.4M425.5 115h1.4M425 115.5h1.4M422 117h1.4M433 117h1.4M424 116h1.4M419 108.5h1.4M400 103.5h1.4M419.5 121h1.4M419.5 114.5h1.4M415.5 112h1.4M415 119.5h1.4M426 119h1.4M430 118.5h1.4M436 127.5h1.4M431 113.5h1.4M416.5 115.5h1.4M424 116.5h1.4M411 114.5h1.4M427.5 115h1.4M425.5 105.5h1.4M417 114.5h1.4M421.5 112h1.4M419.5 118h1.4M417 114h1.4M432 118h1.4M446 118h1.4M428 120.5h1.4M430 120h1.4M423 114h1.4M419.5 112h1.4M439 115h1.4M419 118.5h1.4M425 114.5h1.4M420 127h1.4M426.5 112h1.4M421.5 116h1.4M426.5 115h1.4M412.5 110h1.4M421 117.5h1.4M433 112h1.4M413.5 117h1.4M417 113h1.4M432.5 118.5h1.4M425 114.5h1.4M430.5 110h1.4M404 117.5h1.4M423 118.5h1.4M412 116.5h1.4M411 113.5h1.4M426 103.5h1.4M431 119h1.4M409.5 124h1.4M413 118h1.4M417 122.5h1.4M420.5 118h1.4M411.5 115h1.4M439 121h1.4M426 119h1.4M418.5 124h1.4M418 114.5h1.4M439.5 120.5h1.4M439.5 112h1.4M418.5 110.5h1.4M424 120h1.4M431.5 118h1.4M412.5 115h1.4M417.5 112h1.4M432 124h1.4M416.5 115.5h1.4M419 107h1.4M411 115.5h1.4M416 114h1.4M427 116h1.4M415 120.5h1.4M412 110.5h1.4M417 114h1.4M435.5 116h1.4M423.5 112.5h1.4M417.5 112h1.4M422.5 124h1.4M425.5 113.5h1.4M422.5 118.5h1.4M407.5 114h1.4M424 119h1.4M419.5 119.5h1.4M428.5 112h1.4M411 115h1.4M429.5 117.5h1.4M417.5 116.5h1.4M408.5 114.5h1.4M432 116.5h1.4M417 126h1.4M424 119.5h1.4M420 116.5h1.4M430.5 113h1.4M430.5 110h1.4M430 120.5h1.4M428 107h1.4M409 114h1.4M408.5 112.5h1.4M423 118h1.4M414 117.5h1.4M425.5 109.5h1.4M423 116.5h1.4M410.5 115h1.4M414 109.5h1.4M413 107h1.4M414 121.5h1.4M420 116h1.4M427 116h1.4M432.5 108h1.4M414.5 104h1.4M417 115.5h1.4M434 114.5h1.4M429 112h1.4M423.5 110.5h1.4M403 115.5h1.4M414 111h1.4M422.5 118.5h1.4M416 127h1.4M436.5 122.5h1.4M422.5 114.5h1.4M424 112h1.4M412 125h1.4M412.5 123h1.4M416.5 115h1.4M415.5 130h1.4M420 112.5h1.4M425 111h1.4M422.5 129h1.4M429.5 112.5h1.4M411 115.5h1.4M423.5 109h1.4M423.5 114h1.4M434 117h1.4M420 114.5h1.4M424.5 111h1.4M415 114h1.4M425 115.5h1.4M424 122h1.4M416.5 112.5h1.4M418 115h1.4M422 107h1.4M426 115.5h1.4M412.5 115h1.4M428.5 118.5h1.4M419 111.5h1.4M436.5 117h1.4M433 119h1.4M442 124h1.4M443.5 119.5h1.4M425.5 127h1.4M421 122.5h1.4M438 123h1.4M422.5 126.5h1.4M452 116h1.4M428 131.5h1.4M437 117.5h1.4M419 105h1.4M429 126h1.4M438 121h1.4M432.5 130.5h1.4M425 121.5h1.4M449 132h1.4M435 117.5h1.4M427.5 124.5h1.4M424.5 132.5h1.4M427 129h1.4M440 131h1.4M423 123h1.4M429.5 116h1.4M422.5 124h1.4M439.5 128.5h1.4M428 126.5h1.4M436 121h1.4M434 136.5h1.4M424.5 118h1.4M435 119h1.4M437 136.5h1.4M420 114.5h1.4M435 131.5h1.4M458 123h1.4M427 114.5h1.4M434.5 131.5h1.4M418.5 133h1.4M433 128.5h1.4M424.5 128.5h1.4M435.5 122.5h1.4M429 125h1.4M420 125h1.4M438 124.5h1.4M427.5 123h1.4M421 127h1.4M430 120h1.4M421.5 122h1.4M432.5 128h1.4M428.5 110.5h1.4M426.5 129.5h1.4M434.5 117.5h1.4M419 126.5h1.4M437 119.5h1.4M413 118.5h1.4M442 116.5h1.4M430.5 113h1.4M427 127h1.4M423.5 104h1.4M433.5 119h1.4M428 126.5h1.4M428 130h1.4M437.5 107.5h1.4M425.5 111.5h1.4M427.5 121.5h1.4M432.5 117h1.4M438 113.5h1.4M428 121h1.4M430.5 124h1.4M429.5 122h1.4M435.5 116.5h1.4M441.5 121.5h1.4M421.5 129h1.4M428 117h1.4M429 132h1.4M434 126h1.4M441.5 114h1.4M429 120h1.4M431 120h1.4M438.5 121h1.4M419 115h1.4M423 122h1.4M425.5 133.5h1.4M429 120h1.4M431 140.5h1.4M425 134h1.4M443.5 112h1.4M423.5 115h1.4M427.5 124.5h1.4M438 122h1.4M435.5 121h1.4M429 115.5h1.4M432.5 126.5h1.4M436 127h1.4M429 125.5h1.4M434.5 120.5h1.4M422 120h1.4M430 124h1.4M416 117h1.4M422 128h1.4M420 122h1.4M439.5 126h1.4M425.5 152h1.4M417.5 149.5h1.4M414 148.5h1.4M419.5 141h1.4M414 149h1.4M422.5 143.5h1.4M423.5 132.5h1.4M424.5 144h1.4M414 164h1.4M418.5 168h1.4M429 146h1.4M418.5 157h1.4M426 150h1.4M427 155h1.4M412.5 139h1.4M425.5 140.5h1.4M423 165h1.4M424 150h1.4M428 156h1.4M420 146h1.4M422.5 154.5h1.4M417.5 148.5h1.4M422 127h1.4M409 139h1.4M428 141.5h1.4M416.5 157.5h1.4M421 140h1.4M420 156h1.4M420 152.5h1.4M419.5 157h1.4M411 152h1.4M416.5 127.5h1.4M425.5 156.5h1.4M414 156h1.4M414 151h1.4M430 150h1.4M419.5 159h1.4M420.5 155.5h1.4M412 157.5h1.4M415.5 154.5h1.4M427.5 159h1.4M417.5 149.5h1.4M418.5 154.5h1.4M419.5 157h1.4M422 153.5h1.4M416 145h1.4M411.5 170.5h1.4M428 146h1.4M417 151h1.4M415 146h1.4M423 154.5h1.4M414 145.5h1.4M420.5 159h1.4M413 149.5h1.4M419.5 141h1.4M423 158.5h1.4M412.5 157h1.4M419.5 155.5h1.4M420 155h1.4M418 158h1.4M424 151h1.4M420.5 152.5h1.4M417 153h1.4M423 142.5h1.4M423 138.5h1.4M427 150h1.4M411.5 137h1.4M412 156.5h1.4M407.5 156.5h1.4M407.5 151h1.4M423 152.5h1.4M412 148.5h1.4M415.5 156h1.4M417.5 165h1.4M423 154h1.4M411.5 154h1.4M420.5 153h1.4M422.5 146.5h1.4M420 155.5h1.4M420 156h1.4M425.5 135.5h1.4M420 142h1.4M419 154.5h1.4M417.5 149.5h1.4M422.5 144.5h1.4M419.5 128h1.4M424.5 156h1.4M432.5 162.5h1.4M431 156h1.4M432 149.5h1.4M431 149h1.4M429 158h1.4M435 154.5h1.4M432.5 156h1.4M436 147h1.4M430.5 149.5h1.4M433 159.5h1.4M434 142.5h1.4M426.5 154.5h1.4M428 145h1.4M434 156.5h1.4M432.5 146h1.4M426.5 149.5h1.4M430 148h1.4M429 144h1.4M430.5 144.5h1.4M436.5 147h1.4M430.5 147h1.4M438 160h1.4M431.5 149h1.4M430 168h1.4M436.5 168.5h1.4M435 151.5h1.4M436 150.5h1.4M438 135h1.4M435 142.5h1.4M435.5 138.5h1.4M427 151.5h1.4M429.5 144.5h1.4M433.5 138h1.4M432.5 144h1.4M434 145.5h1.4M430.5 147.5h1.4M435.5 156.5h1.4M438 156.5h1.4M434 161h1.4M434.5 144.5h1.4M433.5 150.5h1.4M435 154.5h1.4M433 145h1.4M430.5 153.5h1.4M432.5 139h1.4M432.5 131.5h1.4M427.5 144h1.4M433 154.5h1.4M432 161.5h1.4M433 130.5h1.4M430.5 144h1.4M433.5 158.5h1.4M434 138.5h1.4M430 163h1.4M433 152h1.4M434.5 150.5h1.4M434.5 151.5h1.4M429.5 158.5h1.4M429 127h1.4M432 151.5h1.4M429 145h1.4M439.5 148h1.4M429.5 162.5h1.4M429.5 153h1.4M434 146.5h1.4M430.5 140h1.4M425 151h1.4M431.5 145h1.4M429 151h1.4M430.5 143h1.4M445 153h1.4M456.5 157h1.4M452 159.5h1.4M452.5 158h1.4M443.5 165.5h1.4M450.5 149.5h1.4M457 154h1.4M463 141.5h1.4M452 171h1.4M452 139.5h1.4M456.5 153h1.4M455.5 154h1.4M452 160.5h1.4M454 160.5h1.4M453 167.5h1.4M457 142.5h1.4M457.5 154.5h1.4M461 144.5h1.4M458 143.5h1.4M457 157.5h1.4M455 154.5h1.4M458 155.5h1.4M451 141.5h1.4M462.5 150.5h1.4M455.5 150.5h1.4M460 144.5h1.4M451.5 153h1.4M458.5 130.5h1.4M456 162h1.4M454 139h1.4M452 137.5h1.4M451 164h1.4M461.5 143h1.4M459 149h1.4M455 143h1.4M455 164.5h1.4M451.5 149.5h1.4M447.5 162.5h1.4M447.5 155.5h1.4M452 137h1.4M454 153.5h1.4M450 175.5h1.4M457.5 166.5h1.4M456.5 164h1.4M455 141.5h1.4M448 159.5h1.4M453.5 168.5h1.4M454.5 140.5h1.4M449.5 149.5h1.4M446 148.5h1.4M462 160.5h1.4M457 137h1.4M453 153.5h1.4M460.5 172.5h1.4M458.5 164h1.4M456 161h1.4M455.5 153.5h1.4M457.5 144h1.4M460 159.5h1.4M455 158.5h1.4M453.5 129h1.4M456.5 151h1.4M444 157.5h1.4M455 151.5h1.4M453 165h1.4M454.5 146.5h1.4M454 142h1.4M456 158h1.4M455 141.5h1.4M455 155h1.4M454 149h1.4M456 160h1.4M452.5 160.5h1.4M458 167.5h1.4M448 149.5h1.4M455.5 155h1.4M456 154.5h1.4M449.5 164h1.4M453 164.5h1.4M459.5 158.5h1.4M454 147h1.4M451 149h1.4M443 159h1.4M456 149h1.4M455 133.5h1.4M457 151h1.4M462.5 131h1.4M454.5 147.5h1.4M455 138h1.4M452 157.5h1.4M454.5 139.5h1.4M454.5 164.5h1.4M457.5 149.5h1.4M456.5 155.5h1.4M451.5 173h1.4M452.5 166.5h1.4M459.5 140h1.4M451 147h1.4M457.5 138.5h1.4M460.5 150h1.4M455.5 149.5h1.4M459.5 158h1.4M456 157.5h1.4M454.5 156.5h1.4M453.5 160h1.4M459 162h1.4M457 139h1.4M460.5 147.5h1.4M453 159h1.4M453.5 156.5h1.4M453 142h1.4M455.5 148h1.4M452 150h1.4M458 165h1.4M456 156.5h1.4M451 164h1.4M443 172h1.4M447.5 142.5h1.4M460 155.5h1.4M454.5 156.5h1.4M455 162h1.4M453 144h1.4M456 130h1.4M447 146h1.4M447 142.5h1.4M448.5 165h1.4M454.5 150h1.4M457 150h1.4M456.5 136.5h1.4M454 152h1.4M449.5 162h1.4M457.5 153h1.4M453.5 156.5h1.4M454.5 137h1.4M446 131.5h1.4M444 143h1.4M443 138h1.4M447 136.5h1.4M439 135.5h1.4M436.5 137h1.4M430.5 136.5h1.4M449 136h1.4M445 135.5h1.4M446 143.5h1.4M442 141h1.4M452 136.5h1.4M436 131.5h1.4M449 129h1.4M437 120h1.4M439 133.5h1.4M434.5 138h1.4M442.5 133h1.4M440 130.5h1.4M444.5 133.5h1.4M438.5 139.5h1.4M433.5 134.5h1.4M445.5 134.5h1.4M449.5 141h1.4M446.5 140h1.4M441.5 128h1.4M444.5 145h1.4M431.5 133.5h1.4M440 135.5h1.4M449 127h1.4M444.5 131h1.4M436.5 138.5h1.4M447 128h1.4M441 137h1.4M446 124h1.4M433.5 126h1.4M438.5 134.5h1.4M444 130h1.4M443.5 133h1.4M445 138.5h1.4M442 129h1.4M440.5 132h1.4M444.5 130h1.4M447 129h1.4M433 127h1.4M440 129h1.4M440.5 134.5h1.4M443 133.5h1.4M448 132h1.4M434 134.5h1.4" stroke="#151515" stroke-width="1.4" fill="none"/>
<rect x="397" y="68.9" width="113.1" height="110.5" fill="none" stroke="#262626" stroke-width="0.95"/>
<line x1="439.8" y1="68.9" x2="439.8" y2="179.4" stroke="#181818" stroke-width="1.5"/>
<line x1="397" y1="135.2" x2="510.1" y2="135.2" stroke="#181818" stroke-width="1.4"/>
<line x1="397" y1="179.4" x2="397" y2="184.4" stroke="#1a1a1a" stroke-width="2.2"/>
<line x1="405.51" y1="179.4" x2="405.51" y2="183.3" stroke="#0c0c0c" stroke-width="1.4"/>
<line x1="410.49" y1="179.4" x2="410.49" y2="183.3" stroke="#0c0c0c" stroke-width="1.4"/>
<line x1="414.02" y1="179.4" x2="414.02" y2="183.3" stroke="#0c0c0c" stroke-width="1.4"/>
<line x1="416.76" y1="179.4" x2="416.76" y2="183.3" stroke="#0c0c0c" stroke-width="1.4"/>
<line x1="419" y1="179.4" x2="419" y2="183.3" stroke="#0c0c0c" stroke-width="1.4"/>
<line x1="420.9" y1="179.4" x2="420.9" y2="183.3" stroke="#0c0c0c" stroke-width="1.4"/>
<line x1="422.53" y1="179.4" x2="422.53" y2="183.3" stroke="#0c0c0c" stroke-width="1.4"/>
<line x1="423.98" y1="179.4" x2="423.98" y2="183.3" stroke="#0c0c0c" stroke-width="1.4"/>
<line x1="425.27" y1="179.4" x2="425.27" y2="184.4" stroke="#1a1a1a" stroke-width="2.2"/>
<line x1="433.79" y1="179.4" x2="433.79" y2="183.3" stroke="#0c0c0c" stroke-width="1.4"/>
<line x1="438.77" y1="179.4" x2="438.77" y2="183.3" stroke="#0c0c0c" stroke-width="1.4"/>
<line x1="442.3" y1="179.4" x2="442.3" y2="183.3" stroke="#0c0c0c" stroke-width="1.4"/>
<line x1="445.04" y1="179.4" x2="445.04" y2="183.3" stroke="#0c0c0c" stroke-width="1.4"/>
<line x1="447.28" y1="179.4" x2="447.28" y2="183.3" stroke="#0c0c0c" stroke-width="1.4"/>
<line x1="449.17" y1="179.4" x2="449.17" y2="183.3" stroke="#0c0c0c" stroke-width="1.4"/>
<line x1="450.81" y1="179.4" x2="450.81" y2="183.3" stroke="#0c0c0c" stroke-width="1.4"/>
<line x1="452.26" y1="179.4" x2="452.26" y2="183.3" stroke="#0c0c0c" stroke-width="1.4"/>
<line x1="453.55" y1="179.4" x2="453.55" y2="184.4" stroke="#1a1a1a" stroke-width="2.2"/>
<line x1="462.06" y1="179.4" x2="462.06" y2="183.3" stroke="#0c0c0c" stroke-width="1.4"/>
<line x1="467.04" y1="179.4" x2="467.04" y2="183.3" stroke="#0c0c0c" stroke-width="1.4"/>
<line x1="470.57" y1="179.4" x2="470.57" y2="183.3" stroke="#0c0c0c" stroke-width="1.4"/>
<line x1="473.31" y1="179.4" x2="473.31" y2="183.3" stroke="#0c0c0c" stroke-width="1.4"/>
<line x1="475.55" y1="179.4" x2="475.55" y2="183.3" stroke="#0c0c0c" stroke-width="1.4"/>
<line x1="477.45" y1="179.4" x2="477.45" y2="183.3" stroke="#0c0c0c" stroke-width="1.4"/>
<line x1="479.08" y1="179.4" x2="479.08" y2="183.3" stroke="#0c0c0c" stroke-width="1.4"/>
<line x1="480.53" y1="179.4" x2="480.53" y2="183.3" stroke="#0c0c0c" stroke-width="1.4"/>
<line x1="481.83" y1="179.4" x2="481.83" y2="184.4" stroke="#1a1a1a" stroke-width="2.2"/>
<line x1="490.34" y1="179.4" x2="490.34" y2="183.3" stroke="#0c0c0c" stroke-width="1.4"/>
<line x1="495.32" y1="179.4" x2="495.32" y2="183.3" stroke="#0c0c0c" stroke-width="1.4"/>
<line x1="498.85" y1="179.4" x2="498.85" y2="183.3" stroke="#0c0c0c" stroke-width="1.4"/>
<line x1="501.59" y1="179.4" x2="501.59" y2="183.3" stroke="#0c0c0c" stroke-width="1.4"/>
<line x1="503.83" y1="179.4" x2="503.83" y2="183.3" stroke="#0c0c0c" stroke-width="1.4"/>
<line x1="505.72" y1="179.4" x2="505.72" y2="183.3" stroke="#0c0c0c" stroke-width="1.4"/>
<line x1="507.36" y1="179.4" x2="507.36" y2="183.3" stroke="#0c0c0c" stroke-width="1.4"/>
<line x1="508.81" y1="179.4" x2="508.81" y2="183.3" stroke="#0c0c0c" stroke-width="1.4"/>
<line x1="510.1" y1="179.4" x2="510.1" y2="184.4" stroke="#1a1a1a" stroke-width="2.2"/>
<line x1="392" y1="179.4" x2="397" y2="179.4" stroke="#1a1a1a" stroke-width="2.2"/>
<line x1="393.1" y1="171.08" x2="397" y2="171.08" stroke="#0c0c0c" stroke-width="1.4"/>
<line x1="393.1" y1="166.22" x2="397" y2="166.22" stroke="#0c0c0c" stroke-width="1.4"/>
<line x1="393.1" y1="162.77" x2="397" y2="162.77" stroke="#0c0c0c" stroke-width="1.4"/>
<line x1="393.1" y1="160.09" x2="397" y2="160.09" stroke="#0c0c0c" stroke-width="1.4"/>
<line x1="393.1" y1="157.9" x2="397" y2="157.9" stroke="#0c0c0c" stroke-width="1.4"/>
<line x1="393.1" y1="156.05" x2="397" y2="156.05" stroke="#0c0c0c" stroke-width="1.4"/>
<line x1="393.1" y1="154.45" x2="397" y2="154.45" stroke="#0c0c0c" stroke-width="1.4"/>
<line x1="393.1" y1="153.04" x2="397" y2="153.04" stroke="#0c0c0c" stroke-width="1.4"/>
<line x1="392" y1="151.78" x2="397" y2="151.78" stroke="#1a1a1a" stroke-width="2.2"/>
<line x1="393.1" y1="143.46" x2="397" y2="143.46" stroke="#0c0c0c" stroke-width="1.4"/>
<line x1="393.1" y1="138.59" x2="397" y2="138.59" stroke="#0c0c0c" stroke-width="1.4"/>
<line x1="393.1" y1="135.14" x2="397" y2="135.14" stroke="#0c0c0c" stroke-width="1.4"/>
<line x1="393.1" y1="132.47" x2="397" y2="132.47" stroke="#0c0c0c" stroke-width="1.4"/>
<line x1="393.1" y1="130.28" x2="397" y2="130.28" stroke="#0c0c0c" stroke-width="1.4"/>
<line x1="393.1" y1="128.43" x2="397" y2="128.43" stroke="#0c0c0c" stroke-width="1.4"/>
<line x1="393.1" y1="126.83" x2="397" y2="126.83" stroke="#0c0c0c" stroke-width="1.4"/>
<line x1="393.1" y1="125.41" x2="397" y2="125.41" stroke="#0c0c0c" stroke-width="1.4"/>
<line x1="392" y1="124.15" x2="397" y2="124.15" stroke="#1a1a1a" stroke-width="2.2"/>
<line x1="393.1" y1="115.83" x2="397" y2="115.83" stroke="#0c0c0c" stroke-width="1.4"/>
<line x1="393.1" y1="110.97" x2="397" y2="110.97" stroke="#0c0c0c" stroke-width="1.4"/>
<line x1="393.1" y1="107.52" x2="397" y2="107.52" stroke="#0c0c0c" stroke-width="1.4"/>
<line x1="393.1" y1="104.84" x2="397" y2="104.84" stroke="#0c0c0c" stroke-width="1.4"/>
<line x1="393.1" y1="102.65" x2="397" y2="102.65" stroke="#0c0c0c" stroke-width="1.4"/>
<line x1="393.1" y1="100.8" x2="397" y2="100.8" stroke="#0c0c0c" stroke-width="1.4"/>
<line x1="393.1" y1="99.2" x2="397" y2="99.2" stroke="#0c0c0c" stroke-width="1.4"/>
<line x1="393.1" y1="97.79" x2="397" y2="97.79" stroke="#0c0c0c" stroke-width="1.4"/>
<line x1="392" y1="96.53" x2="397" y2="96.53" stroke="#1a1a1a" stroke-width="2.2"/>
<line x1="393.1" y1="88.21" x2="397" y2="88.21" stroke="#0c0c0c" stroke-width="1.4"/>
<line x1="393.1" y1="83.34" x2="397" y2="83.34" stroke="#0c0c0c" stroke-width="1.4"/>
<line x1="393.1" y1="79.89" x2="397" y2="79.89" stroke="#0c0c0c" stroke-width="1.4"/>
<line x1="393.1" y1="77.22" x2="397" y2="77.22" stroke="#0c0c0c" stroke-width="1.4"/>
<line x1="393.1" y1="75.03" x2="397" y2="75.03" stroke="#0c0c0c" stroke-width="1.4"/>
<line x1="393.1" y1="73.18" x2="397" y2="73.18" stroke="#0c0c0c" stroke-width="1.4"/>
<line x1="393.1" y1="71.58" x2="397" y2="71.58" stroke="#0c0c0c" stroke-width="1.4"/>
<line x1="393.1" y1="70.16" x2="397" y2="70.16" stroke="#0c0c0c" stroke-width="1.4"/>
<line x1="392" y1="68.9" x2="397" y2="68.9" stroke="#1a1a1a" stroke-width="2.2"/>
<text x="390.6" y="197" font-size="10.4" stroke="#222" stroke-width="0.15">10</text>
<text x="399.34" y="191.28" font-size="10.4" stroke="#222" stroke-width="0.15">0</text>
<text x="375.8" y="185.2" font-size="10.2" stroke="#222" stroke-width="0.15">10</text>
<text x="385.18" y="179.28" font-size="10.2" stroke="#222" stroke-width="0.15">0</text>
<text x="418.88" y="197" font-size="10.4" stroke="#222" stroke-width="0.15">10</text>
<text x="427.61" y="191.28" font-size="10.4" stroke="#222" stroke-width="0.15">1</text>
<text x="375.8" y="157.58" font-size="10.2" stroke="#222" stroke-width="0.15">10</text>
<text x="385.18" y="151.66" font-size="10.2" stroke="#222" stroke-width="0.15">1</text>
<text x="447.15" y="197" font-size="10.4" stroke="#222" stroke-width="0.15">10</text>
<text x="455.89" y="191.28" font-size="10.4" stroke="#222" stroke-width="0.15">2</text>
<text x="375.8" y="129.95" font-size="10.2" stroke="#222" stroke-width="0.15">10</text>
<text x="385.18" y="124.03" font-size="10.2" stroke="#222" stroke-width="0.15">2</text>
<text x="475.43" y="197" font-size="10.4" stroke="#222" stroke-width="0.15">10</text>
<text x="484.16" y="191.28" font-size="10.4" stroke="#222" stroke-width="0.15">3</text>
<text x="375.8" y="102.33" font-size="10.2" stroke="#222" stroke-width="0.15">10</text>
<text x="385.18" y="96.41" font-size="10.2" stroke="#222" stroke-width="0.15">3</text>
<text x="503.7" y="197" font-size="10.4" stroke="#222" stroke-width="0.15">10</text>
<text x="512.44" y="191.28" font-size="10.4" stroke="#222" stroke-width="0.15">4</text>
<text x="375.8" y="74.7" font-size="10.2" stroke="#222" stroke-width="0.15">10</text>
<text x="385.18" y="68.78" font-size="10.2" stroke="#222" stroke-width="0.15">4</text>
<text x="401.8" y="83.5" font-size="15.8" font-weight="bold" class="b">24</text>
<text x="503.9" y="83.5" font-size="15.8" font-weight="bold" class="b" text-anchor="end">57</text>
<text x="401" y="170.2" font-size="15.8" font-weight="bold" class="b">8.9</text>
<text x="504.1" y="170.2" font-size="15.8" font-weight="bold" class="b" text-anchor="end">7.9</text>
<text x="438.3" y="62.9" font-size="21" class="se" textLength="36.8" lengthAdjust="spacingAndGlyphs" stroke="#222" stroke-width="0.3">Δ<tspan dy="1.3">/</tspan><tspan dy="-1.3">Δ</tspan></text>
<text x="206.9" y="123.2" font-size="20.5" font-weight="bold" class="b" text-anchor="middle" transform="rotate(-90 206.9 123.2)" textLength="38.6" lengthAdjust="spacingAndGlyphs">CD4</text>
<text x="369.8" y="219.8" font-size="20" font-weight="bold" class="b" text-anchor="middle">CD8</text>
<line x1="240.5" y1="211.4" x2="335" y2="211.4" stroke="#111" stroke-width="2.3"/>
<line x1="405" y1="211.4" x2="494" y2="211.4" stroke="#111" stroke-width="2.3"/>
<path d="M492.3 205.3L506.6 211.3L492.3 217.3Z" fill="#111"/>
<text x="0" y="277.2" font-size="19.5" font-weight="bold" class="b">C</text>
<rect x="65.5" y="313.5" width="51" height="155.7" fill="none" stroke="#262626" stroke-width="0.95"/>
<line x1="60" y1="469.2" x2="65.5" y2="469.2" stroke="#1a1a1a" stroke-width="1.15"/>
<line x1="62.7" y1="462.96" x2="65.5" y2="462.96" stroke="#1a1a1a" stroke-width="1.05"/>
<line x1="62.7" y1="456.72" x2="65.5" y2="456.72" stroke="#1a1a1a" stroke-width="1.05"/>
<line x1="62.7" y1="450.48" x2="65.5" y2="450.48" stroke="#1a1a1a" stroke-width="1.05"/>
<line x1="62.7" y1="444.24" x2="65.5" y2="444.24" stroke="#1a1a1a" stroke-width="1.05"/>
<line x1="61.5" y1="438" x2="65.5" y2="438" stroke="#1a1a1a" stroke-width="1.15"/>
<line x1="62.7" y1="431.76" x2="65.5" y2="431.76" stroke="#1a1a1a" stroke-width="1.05"/>
<line x1="62.7" y1="425.52" x2="65.5" y2="425.52" stroke="#1a1a1a" stroke-width="1.05"/>
<line x1="62.7" y1="419.28" x2="65.5" y2="419.28" stroke="#1a1a1a" stroke-width="1.05"/>
<line x1="62.7" y1="413.04" x2="65.5" y2="413.04" stroke="#1a1a1a" stroke-width="1.05"/>
<line x1="60" y1="406.8" x2="65.5" y2="406.8" stroke="#1a1a1a" stroke-width="1.15"/>
<line x1="62.7" y1="400.56" x2="65.5" y2="400.56" stroke="#1a1a1a" stroke-width="1.05"/>
<line x1="62.7" y1="394.32" x2="65.5" y2="394.32" stroke="#1a1a1a" stroke-width="1.05"/>
<line x1="62.7" y1="388.08" x2="65.5" y2="388.08" stroke="#1a1a1a" stroke-width="1.05"/>
<line x1="62.7" y1="381.84" x2="65.5" y2="381.84" stroke="#1a1a1a" stroke-width="1.05"/>
<line x1="61.5" y1="375.6" x2="65.5" y2="375.6" stroke="#1a1a1a" stroke-width="1.15"/>
<line x1="62.7" y1="369.36" x2="65.5" y2="369.36" stroke="#1a1a1a" stroke-width="1.05"/>
<line x1="62.7" y1="363.12" x2="65.5" y2="363.12" stroke="#1a1a1a" stroke-width="1.05"/>
<line x1="62.7" y1="356.88" x2="65.5" y2="356.88" stroke="#1a1a1a" stroke-width="1.05"/>
<line x1="62.7" y1="350.64" x2="65.5" y2="350.64" stroke="#1a1a1a" stroke-width="1.05"/>
<line x1="60" y1="344.4" x2="65.5" y2="344.4" stroke="#1a1a1a" stroke-width="1.15"/>
<line x1="62.7" y1="338.16" x2="65.5" y2="338.16" stroke="#1a1a1a" stroke-width="1.05"/>
<line x1="62.7" y1="331.92" x2="65.5" y2="331.92" stroke="#1a1a1a" stroke-width="1.05"/>
<line x1="62.7" y1="325.68" x2="65.5" y2="325.68" stroke="#1a1a1a" stroke-width="1.05"/>
<text x="60.2" y="348.7" font-size="18" text-anchor="end" textLength="22" lengthAdjust="spacingAndGlyphs">20</text>
<text x="60.2" y="413.4" font-size="18" text-anchor="end" textLength="22" lengthAdjust="spacingAndGlyphs">10</text>
<text x="59" y="474" font-size="18" text-anchor="end" textLength="10.6" lengthAdjust="spacingAndGlyphs">0</text>
<rect x="76" y="359" width="14.3" height="110.2" fill="#a8a8a8" stroke="#1a1a1a" stroke-width="1"/>
<line x1="83.5" y1="359" x2="83.5" y2="322.5" stroke="#2a2a2a" stroke-width="1"/>
<line x1="80.8" y1="322.5" x2="86.2" y2="322.5" stroke="#1a1a1a" stroke-width="1"/>
<rect x="92.6" y="442.5" width="14.2" height="26.7" fill="#ffffff" stroke="#1a1a1a" stroke-width="1"/>
<line x1="99.5" y1="442.5" x2="99.5" y2="408.3" stroke="#2a2a2a" stroke-width="1"/>
<line x1="96.8" y1="408.3" x2="102.2" y2="408.3" stroke="#1a1a1a" stroke-width="1"/>
<text x="99.6" y="393.2" font-size="25" font-weight="bold" class="b" text-anchor="middle">*</text>
<text x="92.8" y="488" font-size="17.2" font-weight="bold" class="b" text-anchor="middle">DP</text>
<text x="32.3" y="450.8" font-size="19.8" font-weight="bold" class="b" transform="rotate(-90 32.3 450.8)" textLength="108" lengthAdjust="spacingAndGlyphs">Cells (x<tspan font-size="16.5">10</tspan><tspan font-size="15.5" dy="-3.8">7</tspan><tspan font-size="19.8" dy="3.8">)</tspan></text>
<rect x="194.5" y="313.5" width="147" height="155.7" fill="none" stroke="#262626" stroke-width="0.95"/>
<line x1="189" y1="469.2" x2="194.5" y2="469.2" stroke="#1a1a1a" stroke-width="1.15"/>
<line x1="191.7" y1="462.96" x2="194.5" y2="462.96" stroke="#1a1a1a" stroke-width="1.05"/>
<line x1="191.7" y1="456.72" x2="194.5" y2="456.72" stroke="#1a1a1a" stroke-width="1.05"/>
<line x1="191.7" y1="450.48" x2="194.5" y2="450.48" stroke="#1a1a1a" stroke-width="1.05"/>
<line x1="191.7" y1="444.24" x2="194.5" y2="444.24" stroke="#1a1a1a" stroke-width="1.05"/>
<line x1="190.5" y1="438" x2="194.5" y2="438" stroke="#1a1a1a" stroke-width="1.15"/>
<line x1="191.7" y1="431.76" x2="194.5" y2="431.76" stroke="#1a1a1a" stroke-width="1.05"/>
<line x1="191.7" y1="425.52" x2="194.5" y2="425.52" stroke="#1a1a1a" stroke-width="1.05"/>
<line x1="191.7" y1="419.28" x2="194.5" y2="419.28" stroke="#1a1a1a" stroke-width="1.05"/>
<line x1="191.7" y1="413.04" x2="194.5" y2="413.04" stroke="#1a1a1a" stroke-width="1.05"/>
<line x1="189" y1="406.8" x2="194.5" y2="406.8" stroke="#1a1a1a" stroke-width="1.15"/>
<line x1="191.7" y1="400.56" x2="194.5" y2="400.56" stroke="#1a1a1a" stroke-width="1.05"/>
<line x1="191.7" y1="394.32" x2="194.5" y2="394.32" stroke="#1a1a1a" stroke-width="1.05"/>
<line x1="191.7" y1="388.08" x2="194.5" y2="388.08" stroke="#1a1a1a" stroke-width="1.05"/>
<line x1="191.7" y1="381.84" x2="194.5" y2="381.84" stroke="#1a1a1a" stroke-width="1.05"/>
<line x1="190.5" y1="375.6" x2="194.5" y2="375.6" stroke="#1a1a1a" stroke-width="1.15"/>
<line x1="191.7" y1="369.36" x2="194.5" y2="369.36" stroke="#1a1a1a" stroke-width="1.05"/>
<line x1="191.7" y1="363.12" x2="194.5" y2="363.12" stroke="#1a1a1a" stroke-width="1.05"/>
<line x1="191.7" y1="356.88" x2="194.5" y2="356.88" stroke="#1a1a1a" stroke-width="1.05"/>
<line x1="191.7" y1="350.64" x2="194.5" y2="350.64" stroke="#1a1a1a" stroke-width="1.05"/>
<line x1="189" y1="344.4" x2="194.5" y2="344.4" stroke="#1a1a1a" stroke-width="1.15"/>
<line x1="191.7" y1="338.16" x2="194.5" y2="338.16" stroke="#1a1a1a" stroke-width="1.05"/>
<line x1="191.7" y1="331.92" x2="194.5" y2="331.92" stroke="#1a1a1a" stroke-width="1.05"/>
<line x1="191.7" y1="325.68" x2="194.5" y2="325.68" stroke="#1a1a1a" stroke-width="1.05"/>
<text x="190" y="349.8" font-size="18" text-anchor="end" textLength="22.5" lengthAdjust="spacingAndGlyphs">20</text>
<text x="190" y="413.6" font-size="18" text-anchor="end" textLength="22.5" lengthAdjust="spacingAndGlyphs">10</text>
<text x="189" y="474" font-size="18" text-anchor="end" textLength="10.8" lengthAdjust="spacingAndGlyphs">0</text>
<rect x="202.7" y="418.4" width="14.2" height="50.8" fill="#a8a8a8" stroke="#1a1a1a" stroke-width="1"/>
<line x1="209.5" y1="418.4" x2="209.5" y2="389" stroke="#2a2a2a" stroke-width="1"/>
<line x1="206.8" y1="389" x2="212.2" y2="389" stroke="#1a1a1a" stroke-width="1"/>
<rect x="219.7" y="445.5" width="14.5" height="23.7" fill="#ffffff" stroke="#1a1a1a" stroke-width="1"/>
<line x1="226.5" y1="445.5" x2="226.5" y2="433.4" stroke="#2a2a2a" stroke-width="1"/>
<line x1="223.8" y1="433.4" x2="229.2" y2="433.4" stroke="#1a1a1a" stroke-width="1"/>
<rect x="252.4" y="375.6" width="14.1" height="93.6" fill="#a8a8a8" stroke="#1a1a1a" stroke-width="1"/>
<line x1="259.5" y1="375.6" x2="259.5" y2="341.7" stroke="#2a2a2a" stroke-width="1"/>
<line x1="256.8" y1="341.7" x2="262.2" y2="341.7" stroke="#1a1a1a" stroke-width="1"/>
<rect x="268.5" y="435.4" width="14.3" height="33.8" fill="#ffffff" stroke="#1a1a1a" stroke-width="1"/>
<line x1="275.5" y1="435.4" x2="275.5" y2="407" stroke="#2a2a2a" stroke-width="1"/>
<line x1="272.8" y1="407" x2="278.2" y2="407" stroke="#1a1a1a" stroke-width="1"/>
<rect x="300.4" y="426.5" width="14.6" height="42.7" fill="#a8a8a8" stroke="#1a1a1a" stroke-width="1"/>
<line x1="307.5" y1="426.5" x2="307.5" y2="409.5" stroke="#2a2a2a" stroke-width="1"/>
<line x1="304.8" y1="409.5" x2="310.2" y2="409.5" stroke="#1a1a1a" stroke-width="1"/>
<rect x="317.8" y="456.4" width="14.2" height="12.8" fill="#ffffff" stroke="#1a1a1a" stroke-width="1"/>
<line x1="324.5" y1="456.4" x2="324.5" y2="447.5" stroke="#2a2a2a" stroke-width="1"/>
<line x1="321.8" y1="447.5" x2="327.2" y2="447.5" stroke="#1a1a1a" stroke-width="1"/>
<line x1="243.2" y1="469.2" x2="243.2" y2="474.2" stroke="#1a1a1a" stroke-width="1"/>
<line x1="291.5" y1="469.2" x2="291.5" y2="474.2" stroke="#1a1a1a" stroke-width="1"/>
<text x="226.7" y="438.2" font-size="25" font-weight="bold" class="b" text-anchor="middle">*</text>
<text x="276" y="407.6" font-size="25" font-weight="bold" class="b" text-anchor="middle">*</text>
<text x="325.6" y="453" font-size="25" font-weight="bold" class="b" text-anchor="middle">*</text>
<text x="220.3" y="488.3" font-size="17.2" font-weight="bold" class="b" text-anchor="middle">DN</text>
<text x="268.2" y="488.3" font-size="17.2" font-weight="bold" class="b" text-anchor="middle">CD4</text>
<text x="314.8" y="488.3" font-size="17.2" font-weight="bold" class="b" text-anchor="middle">CD8</text>
<text x="161.6" y="450.8" font-size="19.8" font-weight="bold" class="b" transform="rotate(-90 161.6 450.8)" textLength="108" lengthAdjust="spacingAndGlyphs">Cells (x<tspan font-size="16.5">10</tspan><tspan font-size="15.5" dy="-3.8">6</tspan><tspan font-size="19.8" dy="3.8">)</tspan></text>
<rect x="278.5" y="324.8" width="16" height="15.6" fill="#a8a8a8" stroke="#262626" stroke-width="0.95"/>
<rect x="278.5" y="355.8" width="16" height="15.4" fill="#ffffff" stroke="#262626" stroke-width="0.95"/>
<text x="301.3" y="337.8" font-size="24" class="se" textLength="34.8" lengthAdjust="spacingAndGlyphs" stroke="#222" stroke-width="0.3"><tspan dy="1.9">+/</tspan><tspan dy="-1.9">Δ</tspan></text>
<text x="299" y="368.8" font-size="24" class="se" textLength="36.4" lengthAdjust="spacingAndGlyphs" stroke="#222" stroke-width="0.3">Δ<tspan dy="1.9">/</tspan><tspan dy="-1.9">Δ</tspan></text>
<text x="359.8" y="277.8" font-size="19.5" font-weight="bold" class="b">D</text>
<rect x="411.2" y="287.7" width="98.7" height="98.2" fill="none" stroke="#262626" stroke-width="0.95"/>
<line x1="407" y1="287.7" x2="411.2" y2="287.7" stroke="#1a1a1a" stroke-width="1"/>
<line x1="450.6" y1="287.7" x2="450.6" y2="385.9" stroke="#1a1a1a" stroke-width="1"/>
<line x1="411.2" y1="385.9" x2="411.2" y2="389.5" stroke="#1a1a1a" stroke-width="1.15"/>
<line x1="418.63" y1="385.9" x2="418.63" y2="389.2" stroke="#1a1a1a" stroke-width="1.15"/>
<line x1="422.97" y1="385.9" x2="422.97" y2="389.2" stroke="#1a1a1a" stroke-width="1.15"/>
<line x1="426.06" y1="385.9" x2="426.06" y2="389.2" stroke="#1a1a1a" stroke-width="1.15"/>
<line x1="428.45" y1="385.9" x2="428.45" y2="389.2" stroke="#1a1a1a" stroke-width="1.15"/>
<line x1="430.4" y1="385.9" x2="430.4" y2="389.2" stroke="#1a1a1a" stroke-width="1.15"/>
<line x1="432.05" y1="385.9" x2="432.05" y2="389.2" stroke="#1a1a1a" stroke-width="1.15"/>
<line x1="433.48" y1="385.9" x2="433.48" y2="389.2" stroke="#1a1a1a" stroke-width="1.15"/>
<line x1="434.75" y1="385.9" x2="434.75" y2="389.2" stroke="#1a1a1a" stroke-width="1.15"/>
<line x1="435.88" y1="385.9" x2="435.88" y2="389.5" stroke="#1a1a1a" stroke-width="1.15"/>
<line x1="443.3" y1="385.9" x2="443.3" y2="389.2" stroke="#1a1a1a" stroke-width="1.15"/>
<line x1="447.65" y1="385.9" x2="447.65" y2="389.2" stroke="#1a1a1a" stroke-width="1.15"/>
<line x1="450.73" y1="385.9" x2="450.73" y2="389.2" stroke="#1a1a1a" stroke-width="1.15"/>
<line x1="453.12" y1="385.9" x2="453.12" y2="389.2" stroke="#1a1a1a" stroke-width="1.15"/>
<line x1="455.08" y1="385.9" x2="455.08" y2="389.2" stroke="#1a1a1a" stroke-width="1.15"/>
<line x1="456.73" y1="385.9" x2="456.73" y2="389.2" stroke="#1a1a1a" stroke-width="1.15"/>
<line x1="458.16" y1="385.9" x2="458.16" y2="389.2" stroke="#1a1a1a" stroke-width="1.15"/>
<line x1="459.42" y1="385.9" x2="459.42" y2="389.2" stroke="#1a1a1a" stroke-width="1.15"/>
<line x1="460.55" y1="385.9" x2="460.55" y2="389.5" stroke="#1a1a1a" stroke-width="1.15"/>
<line x1="467.98" y1="385.9" x2="467.98" y2="389.2" stroke="#1a1a1a" stroke-width="1.15"/>
<line x1="472.32" y1="385.9" x2="472.32" y2="389.2" stroke="#1a1a1a" stroke-width="1.15"/>
<line x1="475.41" y1="385.9" x2="475.41" y2="389.2" stroke="#1a1a1a" stroke-width="1.15"/>
<line x1="477.8" y1="385.9" x2="477.8" y2="389.2" stroke="#1a1a1a" stroke-width="1.15"/>
<line x1="479.75" y1="385.9" x2="479.75" y2="389.2" stroke="#1a1a1a" stroke-width="1.15"/>
<line x1="481.4" y1="385.9" x2="481.4" y2="389.2" stroke="#1a1a1a" stroke-width="1.15"/>
<line x1="482.83" y1="385.9" x2="482.83" y2="389.2" stroke="#1a1a1a" stroke-width="1.15"/>
<line x1="484.1" y1="385.9" x2="484.1" y2="389.2" stroke="#1a1a1a" stroke-width="1.15"/>
<line x1="485.22" y1="385.9" x2="485.22" y2="389.5" stroke="#1a1a1a" stroke-width="1.15"/>
<line x1="492.65" y1="385.9" x2="492.65" y2="389.2" stroke="#1a1a1a" stroke-width="1.15"/>
<line x1="497" y1="385.9" x2="497" y2="389.2" stroke="#1a1a1a" stroke-width="1.15"/>
<line x1="500.08" y1="385.9" x2="500.08" y2="389.2" stroke="#1a1a1a" stroke-width="1.15"/>
<line x1="502.47" y1="385.9" x2="502.47" y2="389.2" stroke="#1a1a1a" stroke-width="1.15"/>
<line x1="504.43" y1="385.9" x2="504.43" y2="389.2" stroke="#1a1a1a" stroke-width="1.15"/>
<line x1="506.08" y1="385.9" x2="506.08" y2="389.2" stroke="#1a1a1a" stroke-width="1.15"/>
<line x1="507.51" y1="385.9" x2="507.51" y2="389.2" stroke="#1a1a1a" stroke-width="1.15"/>
<line x1="508.77" y1="385.9" x2="508.77" y2="389.2" stroke="#1a1a1a" stroke-width="1.15"/>
<line x1="509.9" y1="385.9" x2="509.9" y2="389.5" stroke="#1a1a1a" stroke-width="1"/>
<line x1="407" y1="385.9" x2="411.2" y2="385.9" stroke="#1a1a1a" stroke-width="1"/>
<path d="M411.6 385.9L411.6 379.34L412.5 374.42L413.4 368.33L414.3 362.36L415.2 356.13L416.1 351.95L417 348.52L417.9 344.86L418.8 338.36L419.7 332.64L420.6 331.02L421.5 330.58L422.4 326.77L423.3 317.97L424.2 318.18L425.1 320.12L426 313.7L426.9 316.53L427.8 318.64L428.7 321.73L429.6 325.61L430.5 326.5L431.4 331.23L432.3 335.81L433.2 337.71L434.1 340.73L435 348.11L435.9 349.02L436.8 352.59L437.7 354.15L438.6 358.08L439.5 359.18L440.4 361.33L441.3 363.6L442.2 366.29L443.1 367.68L444 370.1L444.9 371.63L445.8 371.78L446.7 374.1L447.6 373.91L448.5 375.35L449.4 377.91L450.3 377.44L451.2 379.11L452.1 378.99L453 379.5L453.9 381.06L454.8 380.66L455.7 381.18L456.6 381.11L457.5 382.62L458.4 382.26L459.3 383.38L460.2 383.3L461.1 383.77L462 383.07L462.9 383.7L463.8 383.22L464.7 384.19L465.6 384.38L466.5 384.64L467.4 385.38L468.3 385.3L469.2 384.89L470.1 385.65L471 385.62L471.9 385.71L472.8 385.76L473.7 385.8L474.6 385.85L475.5 385.89" fill="none" stroke="#1a1a1a" stroke-width="1.3" stroke-linejoin="miter"/>
<text x="407.5" y="294.3" font-size="14" text-anchor="end">84</text>
<text x="406.8" y="391.3" font-size="14" text-anchor="end">0</text>
<text x="467" y="312.5" font-size="21.5" class="se" textLength="35" lengthAdjust="spacingAndGlyphs" stroke="#222" stroke-width="0.3"><tspan dy="1">+/</tspan><tspan dy="-1">Δ</tspan></text>
<text x="485" y="375.4" font-size="18" font-weight="bold" class="b" text-anchor="middle">2.8</text>
<rect x="411.2" y="400.1" width="98.7" height="98.2" fill="none" stroke="#262626" stroke-width="0.95"/>
<line x1="407" y1="400.1" x2="411.2" y2="400.1" stroke="#1a1a1a" stroke-width="1"/>
<line x1="450.6" y1="400.1" x2="450.6" y2="498.3" stroke="#1a1a1a" stroke-width="1"/>
<line x1="411.2" y1="498.3" x2="411.2" y2="501.9" stroke="#1a1a1a" stroke-width="1.15"/>
<line x1="418.63" y1="498.3" x2="418.63" y2="501.6" stroke="#1a1a1a" stroke-width="1.15"/>
<line x1="422.97" y1="498.3" x2="422.97" y2="501.6" stroke="#1a1a1a" stroke-width="1.15"/>
<line x1="426.06" y1="498.3" x2="426.06" y2="501.6" stroke="#1a1a1a" stroke-width="1.15"/>
<line x1="428.45" y1="498.3" x2="428.45" y2="501.6" stroke="#1a1a1a" stroke-width="1.15"/>
<line x1="430.4" y1="498.3" x2="430.4" y2="501.6" stroke="#1a1a1a" stroke-width="1.15"/>
<line x1="432.05" y1="498.3" x2="432.05" y2="501.6" stroke="#1a1a1a" stroke-width="1.15"/>
<line x1="433.48" y1="498.3" x2="433.48" y2="501.6" stroke="#1a1a1a" stroke-width="1.15"/>
<line x1="434.75" y1="498.3" x2="434.75" y2="501.6" stroke="#1a1a1a" stroke-width="1.15"/>
<line x1="435.88" y1="498.3" x2="435.88" y2="501.9" stroke="#1a1a1a" stroke-width="1.15"/>
<line x1="443.3" y1="498.3" x2="443.3" y2="501.6" stroke="#1a1a1a" stroke-width="1.15"/>
<line x1="447.65" y1="498.3" x2="447.65" y2="501.6" stroke="#1a1a1a" stroke-width="1.15"/>
<line x1="450.73" y1="498.3" x2="450.73" y2="501.6" stroke="#1a1a1a" stroke-width="1.15"/>
<line x1="453.12" y1="498.3" x2="453.12" y2="501.6" stroke="#1a1a1a" stroke-width="1.15"/>
<line x1="455.08" y1="498.3" x2="455.08" y2="501.6" stroke="#1a1a1a" stroke-width="1.15"/>
<line x1="456.73" y1="498.3" x2="456.73" y2="501.6" stroke="#1a1a1a" stroke-width="1.15"/>
<line x1="458.16" y1="498.3" x2="458.16" y2="501.6" stroke="#1a1a1a" stroke-width="1.15"/>
<line x1="459.42" y1="498.3" x2="459.42" y2="501.6" stroke="#1a1a1a" stroke-width="1.15"/>
<line x1="460.55" y1="498.3" x2="460.55" y2="501.9" stroke="#1a1a1a" stroke-width="1.15"/>
<line x1="467.98" y1="498.3" x2="467.98" y2="501.6" stroke="#1a1a1a" stroke-width="1.15"/>
<line x1="472.32" y1="498.3" x2="472.32" y2="501.6" stroke="#1a1a1a" stroke-width="1.15"/>
<line x1="475.41" y1="498.3" x2="475.41" y2="501.6" stroke="#1a1a1a" stroke-width="1.15"/>
<line x1="477.8" y1="498.3" x2="477.8" y2="501.6" stroke="#1a1a1a" stroke-width="1.15"/>
<line x1="479.75" y1="498.3" x2="479.75" y2="501.6" stroke="#1a1a1a" stroke-width="1.15"/>
<line x1="481.4" y1="498.3" x2="481.4" y2="501.6" stroke="#1a1a1a" stroke-width="1.15"/>
<line x1="482.83" y1="498.3" x2="482.83" y2="501.6" stroke="#1a1a1a" stroke-width="1.15"/>
<line x1="484.1" y1="498.3" x2="484.1" y2="501.6" stroke="#1a1a1a" stroke-width="1.15"/>
<line x1="485.22" y1="498.3" x2="485.22" y2="501.9" stroke="#1a1a1a" stroke-width="1.15"/>
<line x1="492.65" y1="498.3" x2="492.65" y2="501.6" stroke="#1a1a1a" stroke-width="1.15"/>
<line x1="497" y1="498.3" x2="497" y2="501.6" stroke="#1a1a1a" stroke-width="1.15"/>
<line x1="500.08" y1="498.3" x2="500.08" y2="501.6" stroke="#1a1a1a" stroke-width="1.15"/>
<line x1="502.47" y1="498.3" x2="502.47" y2="501.6" stroke="#1a1a1a" stroke-width="1.15"/>
<line x1="504.43" y1="498.3" x2="504.43" y2="501.6" stroke="#1a1a1a" stroke-width="1.15"/>
<line x1="506.08" y1="498.3" x2="506.08" y2="501.6" stroke="#1a1a1a" stroke-width="1.15"/>
<line x1="507.51" y1="498.3" x2="507.51" y2="501.6" stroke="#1a1a1a" stroke-width="1.15"/>
<line x1="508.77" y1="498.3" x2="508.77" y2="501.6" stroke="#1a1a1a" stroke-width="1.15"/>
<line x1="509.9" y1="498.3" x2="509.9" y2="501.9" stroke="#1a1a1a" stroke-width="1"/>
<line x1="407" y1="498.3" x2="411.2" y2="498.3" stroke="#1a1a1a" stroke-width="1"/>
<path d="M411.6 498.3L411.6 482.23L412.65 482.66L413.7 486.11L414.75 482.03L415.8 455.77L416.85 470.86L417.9 469.46L418.95 464.09L420 456L421.05 469.65L422.1 445.34L423.15 455.33L424.2 442.09L425.25 453.94L426.3 433.56L427.35 448.39L428.4 443.94L429.45 453.56L430.5 445.83L431.55 447.92L432.6 442.67L433.65 460.81L434.7 438.84L435.75 461.48L436.8 461.74L437.85 465.34L438.9 463.3L439.95 468.15L441 461.34L442.05 472.19L443.1 469.63L444.15 486.78L445.2 476.91L446.25 482.37L447.3 473.22L448.35 483.44L449.4 469.98L450.45 482.27L451.5 472.82L452.55 488.77L453.6 480.05L454.65 486.94L455.7 480.7L456.75 485.33L457.8 485.47L458.85 488.69L459.9 484.74L460.95 492.22L462 488.1L463.05 491.54L464.1 487.4L465.15 491.7L466.2 486.93L467.25 487.8L468.3 477.83L469.35 483.18L470.4 475.67L471.45 490.3L472.5 477.11L473.55 483.42L474.6 482.8L475.65 490.32L476.7 491.21L477.75 498.17L478.8 496.08L479.85 497.27L480.9 496.81L481.95 496.97L483 496.94L484.05 498.3L485.1 497.14L486.15 497.45L487.2 497.47L488.25 498.3L489.3 496.08L490.35 498.3L491.4 495.86L492.45 498.18" fill="none" stroke="#1a1a1a" stroke-width="1.3" stroke-linejoin="miter"/>
<text x="407.5" y="406.3" font-size="14" text-anchor="end">44</text>
<text x="406.8" y="503.4" font-size="14" text-anchor="end">0</text>
<text x="466" y="425.2" font-size="21.5" class="se" textLength="36" lengthAdjust="spacingAndGlyphs" stroke="#222" stroke-width="0.3">Δ<tspan dy="1">/</tspan><tspan dy="-1">Δ</tspan></text>
<text x="485.6" y="465.3" font-size="16.5" font-weight="bold" class="b" text-anchor="middle">12</text>
<text x="401.4" y="518.2" font-size="11" stroke="#222" stroke-width="0.15">10</text>
<text x="411.52" y="512.7" font-size="11" stroke="#222" stroke-width="0.15">0</text>
<text x="427.47" y="518.2" font-size="11" stroke="#222" stroke-width="0.15">10</text>
<text x="437.59" y="512.7" font-size="11" stroke="#222" stroke-width="0.15">1</text>
<text x="453.45" y="518.2" font-size="11" stroke="#222" stroke-width="0.15">10</text>
<text x="463.57" y="512.7" font-size="11" stroke="#222" stroke-width="0.15">2</text>
<text x="477.42" y="518.2" font-size="11" stroke="#222" stroke-width="0.15">10</text>
<text x="487.54" y="512.7" font-size="11" stroke="#222" stroke-width="0.15">3</text>
<text x="504.1" y="518.2" font-size="11" stroke="#222" stroke-width="0.15">10</text>
<text x="514.22" y="512.7" font-size="11" stroke="#222" stroke-width="0.15">4</text>
<text x="464.5" y="546" font-size="20" font-weight="bold" class="b" text-anchor="middle" textLength="98.5" lengthAdjust="spacingAndGlyphs">Annexin V</text>
<text x="386.4" y="396.4" font-size="17.8" font-weight="bold" class="b" text-anchor="middle" transform="rotate(-90 386.4 396.4)" textLength="68.6" lengthAdjust="spacingAndGlyphs">cell no.</text>
</svg>
</body>
</html>
